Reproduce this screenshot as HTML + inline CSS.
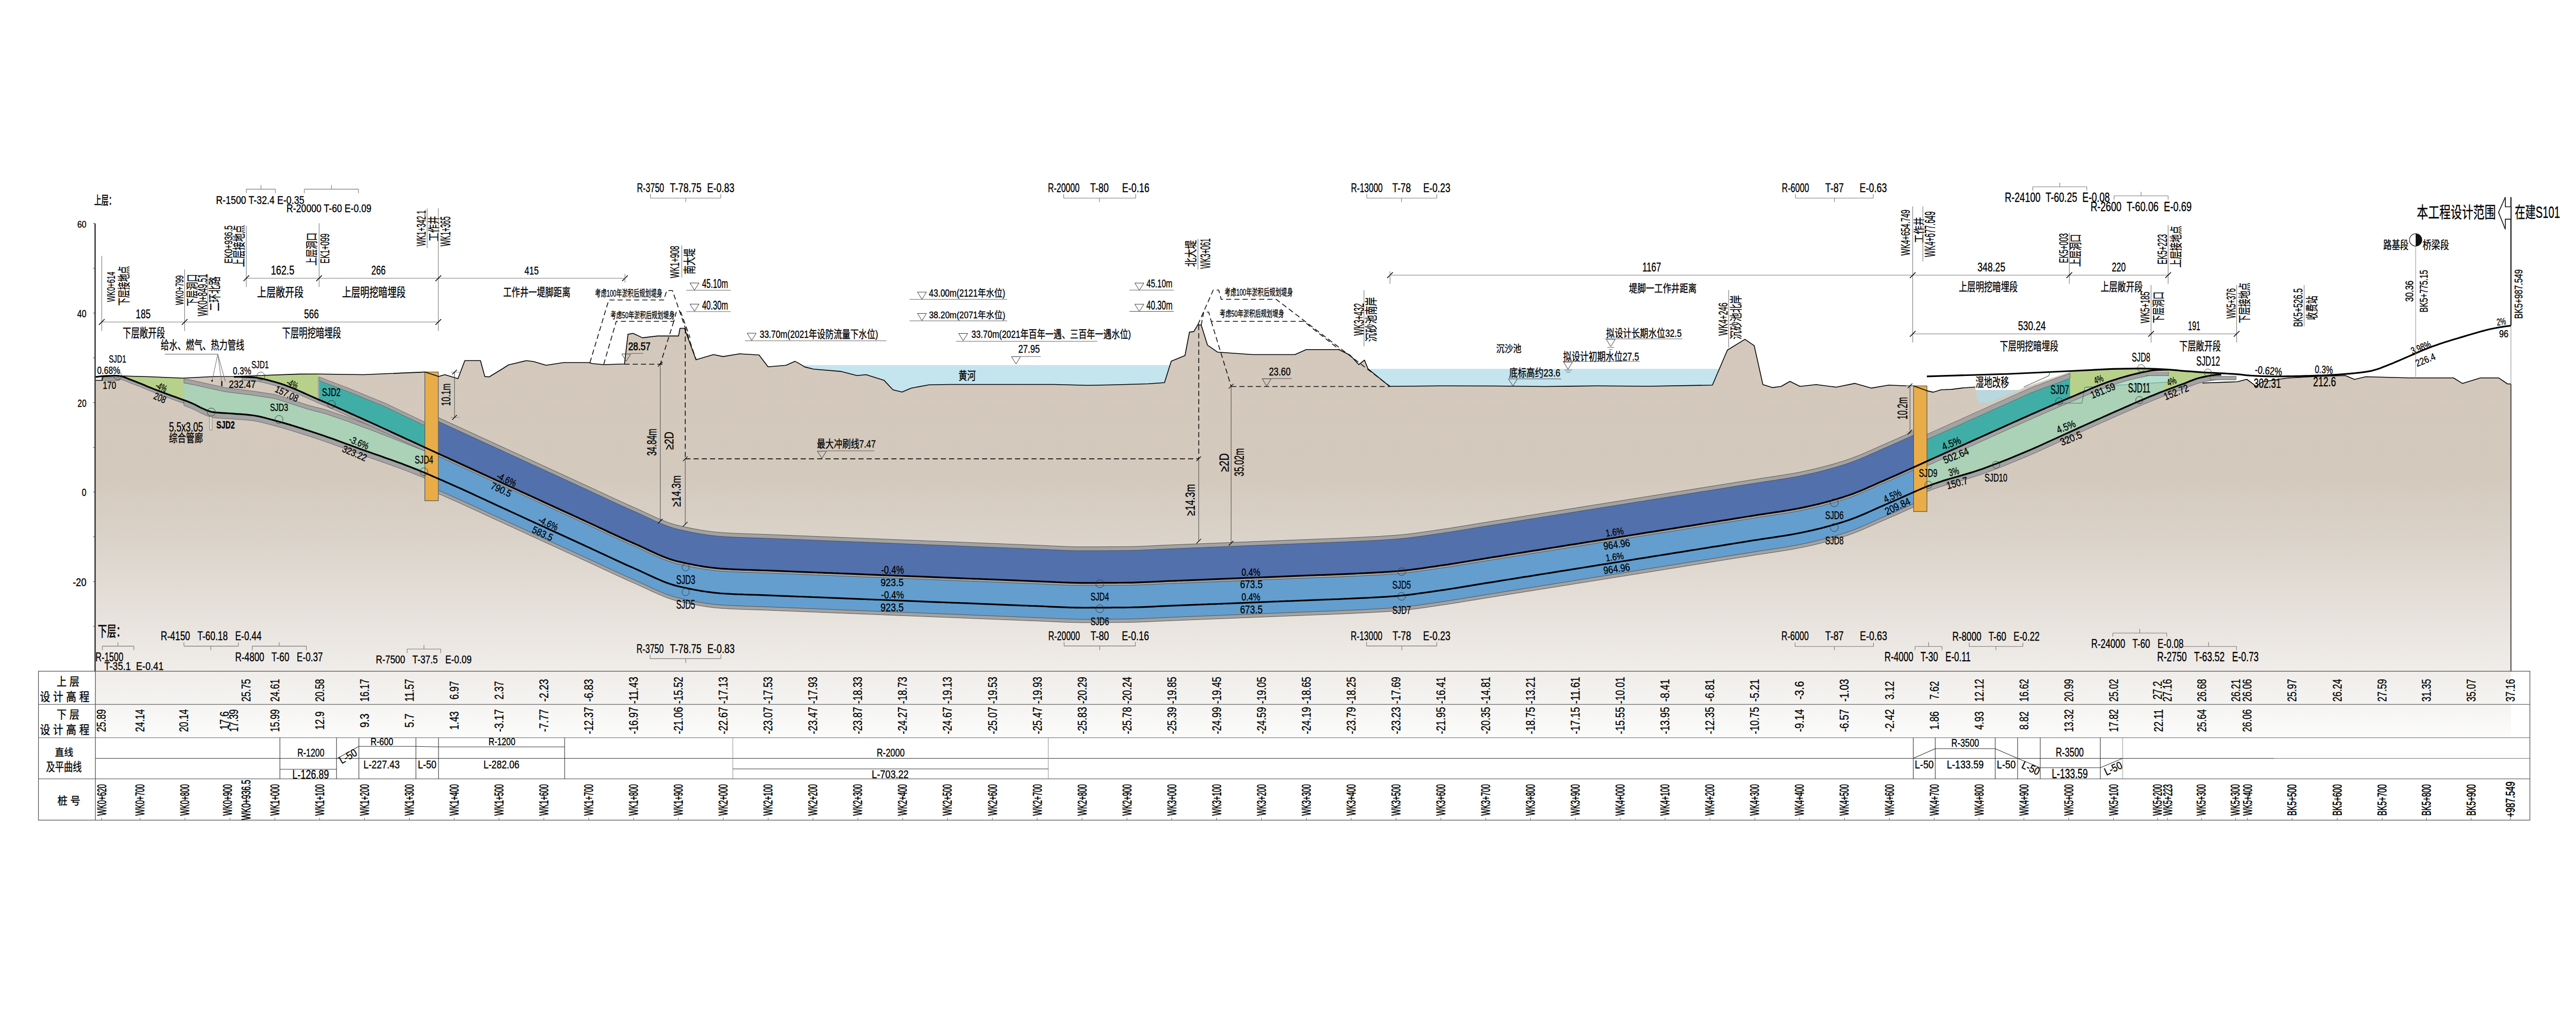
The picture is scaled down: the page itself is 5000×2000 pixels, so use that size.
<!DOCTYPE html>
<html><head><meta charset="utf-8"><title>profile</title><style>html,body{margin:0;padding:0;background:#fff;overflow:hidden;width:5000px;height:2000px;}svg{display:block;}text{stroke:#000;stroke-width:0.35px;}text.b{stroke-width:0.7px;}</style></head><body>
<svg width="5000" height="2000" viewBox="0 0 5000 2000" font-family="'Liberation Sans','Noto Sans CJK SC',sans-serif">
<defs><linearGradient id="gg" gradientUnits="userSpaceOnUse" x1="0" y1="640" x2="0" y2="1432.5"><stop offset="0" stop-color="#d3c8bb"/><stop offset="0.36" stop-color="#d4c9bd"/><stop offset="0.5" stop-color="#dad2c8"/><stop offset="0.62" stop-color="#e2dbd4"/><stop offset="0.74" stop-color="#eae5e0"/><stop offset="0.84" stop-color="#f0edea"/><stop offset="0.92" stop-color="#f5f4f2"/><stop offset="1" stop-color="#fcfcfb"/></linearGradient></defs>
<rect width="5000" height="2000" fill="#fff"/>
<rect x="1545" y="708.9" width="735" height="60" fill="#c4e4ee"/>
<rect x="2645" y="716.2" width="700" height="45" fill="#c4e4ee"/>
<polygon points="184.6,738.5 198,738.5 200,731.5 228.5,729.7 290,731.5 354.8,734.2 413,731.3 454,731 490.7,729.7 580,726.4 619,726.2 705.6,727.5 819.7,722.6 824.6,722.3 851.3,731.1 863.4,727.5 888.9,735.2 902.2,700.3 932.6,700.3 941,731.1 949.6,731.8 972.6,717.8 987.2,708.5 1021.2,700.3 1035.7,702 1060,709.3 1094,704 1142.7,704 1150,706 1171.4,708 1212.1,706.8 1218.9,649.1 1228.6,647.2 1247.1,655.9 1276.2,652.4 1317,652.4 1319.9,637.5 1328.6,637.5 1351,698.6 1385,688.5 1403.4,692.4 1435.4,687 1473.3,689.3 1490.8,712.2 1525.7,709.3 1543.2,701.6 1550,705.1 1561.6,712.4 1579.1,716.8 1631.5,721.1 1663.5,729.3 1681,727.5 1716,738.6 1733.4,757 1750.9,761.3 1768.3,753.7 1803.3,747.3 1841.1,746.5 2045,746.5 2111.9,748.2 2161.3,747.3 2228.3,745.3 2260.3,743 2273.4,701.3 2300,690.5 2308.7,644.9 2317,643.9 2325.2,630.3 2331.6,631.3 2343.7,670.1 2363.1,683.7 2377.7,684.7 2431.1,688.5 2513.6,688.5 2535.4,678.8 2598.5,678.8 2620.4,689.5 2637.4,708 2648.5,699.2 2655.3,716.2 2697.1,750.2 2800,749.2 2900,749.5 3000,750.5 3100,749.3 3200,750 3323.8,747.8 3352.9,679.8 3386.9,658.9 3404.9,671.1 3421.8,746.8 3440.3,752.6 3457.3,750.2 3474.3,740.5 3493.7,750.2 3525.2,746.8 3564.1,751.7 3600.5,744.4 3632,753.6 3666,747.8 3700,749.2 3714,749.3 3739.8,758.6 3752.4,761.6 3768,756.7 3787.4,756.1 3808.7,753.4 3834,751.5 3834.7,757.6 3918,757.6 3935,750 4018,722 4100,716.3 4155.8,715.3 4185,716.3 4270,722.6 4274.8,743.7 4342.7,741.3 4361,736.5 4379,749.8 4391.3,741.3 4439.8,734 4500,730.6 4552.4,729.3 4570,736.7 4591.8,731.5 4674.8,733.7 4762.2,733.7 4779.7,744.6 4814.7,733.7 4849.7,733.7 4867.1,745.5 4873.7,745.5 4873.7,1432.5 184.6,1432.5" fill="url(#gg)" stroke="none" stroke-width="0"/>
<polygon points="851.3,811 857.3,813.8 863.3,816.5 869.3,819.3 875.3,822 881.3,824.8 887.3,827.6 893.3,830.3 899.3,833.1 905.3,835.8 911.3,838.6 917.3,841.3 923.3,844.1 929.3,846.9 935.3,849.6 941.3,852.4 947.3,855.1 953.3,857.9 959.3,860.6 965.4,863.4 971.4,866.1 977.4,868.9 983.4,871.7 989.4,874.4 995.4,877.2 1001.4,879.9 1007.4,882.7 1013.4,885.4 1019.4,888.2 1025.4,891 1031.4,893.7 1037.4,896.5 1043.4,899.2 1049.4,902 1055.4,904.7 1061.4,907.5 1067.4,910.3 1073.4,913 1079.4,915.8 1085.4,918.5 1091.4,921.3 1097.4,924 1103.4,926.8 1109.4,929.5 1115.4,932.3 1121.4,935.1 1127.4,937.8 1133.4,940.6 1139.4,943.3 1145.4,946.1 1151.4,948.9 1157.4,951.7 1163.4,954.5 1169.4,957.3 1175.4,960.1 1181.4,962.9 1187.5,965.7 1193.5,968.5 1199.5,971.2 1205.5,974 1211.5,976.7 1217.5,979.4 1223.5,982.1 1229.5,984.7 1235.5,987.3 1241.5,990 1247.5,992.8 1253.5,995.6 1259.5,998.4 1265.5,1001.2 1271.5,1004 1277.5,1006.6 1283.5,1009.2 1289.5,1011.6 1295.5,1013.9 1301.5,1016 1307.5,1017.9 1313.5,1019.6 1319.5,1021 1325.5,1022.3 1331.5,1023.6 1337.5,1024.9 1343.5,1026.1 1349.5,1027.3 1355.5,1028.3 1361.5,1029.4 1367.5,1030.3 1373.5,1031.2 1379.5,1032 1385.5,1032.7 1391.5,1033.4 1397.5,1033.9 1403.6,1034.3 1409.6,1034.7 1415.6,1035 1421.6,1035.3 1427.6,1035.6 1433.6,1035.9 1439.6,1036.1 1445.6,1036.3 1451.6,1036.5 1457.6,1036.7 1463.6,1036.9 1469.6,1037.1 1475.6,1037.3 1481.6,1037.5 1487.6,1037.7 1493.6,1037.9 1499.6,1038.2 1505.6,1038.4 1511.6,1038.7 1517.6,1038.9 1523.6,1039.1 1529.6,1039.4 1535.6,1039.6 1541.6,1039.9 1547.6,1040.1 1553.6,1040.3 1559.6,1040.6 1565.6,1040.8 1571.6,1041.1 1577.6,1041.3 1583.6,1041.5 1589.6,1041.8 1595.6,1042 1601.6,1042.3 1607.6,1042.5 1613.6,1042.7 1619.6,1043 1625.7,1043.2 1631.7,1043.5 1637.7,1043.7 1643.7,1043.9 1649.7,1044.2 1655.7,1044.4 1661.7,1044.7 1667.7,1044.9 1673.7,1045.1 1679.7,1045.4 1685.7,1045.6 1691.7,1045.9 1697.7,1046.1 1703.7,1046.3 1709.7,1046.6 1715.7,1046.8 1721.7,1047 1727.7,1047.3 1733.7,1047.5 1739.7,1047.8 1745.7,1048 1751.7,1048.2 1757.7,1048.5 1763.7,1048.7 1769.7,1049 1775.7,1049.2 1781.7,1049.4 1787.7,1049.7 1793.7,1049.9 1799.7,1050.2 1805.7,1050.4 1811.7,1050.6 1817.7,1050.9 1823.7,1051.1 1829.7,1051.4 1835.7,1051.6 1841.7,1051.8 1847.8,1052.1 1853.8,1052.3 1859.8,1052.6 1865.8,1052.8 1871.8,1053 1877.8,1053.3 1883.8,1053.5 1889.8,1053.8 1895.8,1054 1901.8,1054.2 1907.8,1054.5 1913.8,1054.7 1919.8,1055 1925.8,1055.2 1931.8,1055.4 1937.8,1055.7 1943.8,1055.9 1949.8,1056.2 1955.8,1056.4 1961.8,1056.7 1967.8,1056.9 1973.8,1057.1 1979.8,1057.4 1985.8,1057.6 1991.8,1057.9 1997.8,1058.1 2003.8,1058.3 2009.8,1058.6 2015.8,1058.8 2021.8,1059 2027.8,1059.3 2033.8,1059.6 2039.8,1059.9 2045.8,1060.2 2051.8,1060.4 2057.8,1060.7 2063.9,1061 2069.9,1061.2 2075.9,1061.4 2081.9,1061.6 2087.9,1061.7 2093.9,1061.8 2099.9,1061.8 2105.9,1061.8 2111.9,1061.8 2117.9,1061.8 2123.9,1061.8 2129.9,1061.8 2135.9,1061.7 2141.9,1061.7 2147.9,1061.7 2153.9,1061.6 2159.9,1061.6 2165.9,1061.6 2171.9,1061.5 2177.9,1061.5 2183.9,1061.4 2189.9,1061.4 2195.9,1061.3 2201.9,1061.1 2207.9,1060.9 2213.9,1060.7 2219.9,1060.5 2225.9,1060.2 2231.9,1060 2237.9,1059.7 2243.9,1059.4 2249.9,1059.1 2255.9,1058.8 2261.9,1058.5 2267.9,1058.3 2273.9,1058 2279.9,1057.8 2286,1057.5 2292,1057.3 2298,1057.1 2304,1056.8 2310,1056.6 2316,1056.3 2322,1056.1 2328,1055.9 2334,1055.6 2340,1055.4 2346,1055.1 2352,1054.9 2358,1054.7 2364,1054.4 2370,1054.2 2376,1053.9 2382,1053.7 2388,1053.5 2394,1053.2 2400,1053 2406,1052.7 2412,1052.5 2418,1052.3 2424,1052 2430,1051.8 2436,1051.5 2442,1051.3 2448,1051.1 2454,1050.8 2460,1050.6 2466,1050.3 2472,1050.1 2478,1049.9 2484,1049.6 2490,1049.4 2496,1049.1 2502,1048.9 2508.1,1048.7 2514.1,1048.4 2520.1,1048.2 2526.1,1047.9 2532.1,1047.7 2538.1,1047.5 2544.1,1047.2 2550.1,1047 2556.1,1046.8 2562.1,1046.5 2568.1,1046.3 2574.1,1046.1 2580.1,1045.9 2586.1,1045.6 2592.1,1045.4 2598.1,1045.2 2604.1,1044.9 2610.1,1044.7 2616.1,1044.4 2622.1,1044.1 2628.1,1043.8 2634.1,1043.6 2640.1,1043.3 2646.1,1043 2652.1,1042.7 2658.1,1042.4 2664.1,1042.1 2670.1,1041.8 2676.1,1041.5 2682.1,1041.1 2688.1,1040.7 2694.1,1040.3 2700.1,1039.9 2706.1,1039.5 2712.1,1039 2718.1,1038.5 2724.2,1037.9 2730.2,1037.3 2736.2,1036.6 2742.2,1035.8 2748.2,1035 2754.2,1034.2 2760.2,1033.4 2766.2,1032.5 2772.2,1031.7 2778.2,1030.8 2784.2,1029.9 2790.2,1029 2796.2,1028.2 2802.2,1027.3 2808.2,1026.4 2814.2,1025.5 2820.2,1024.6 2826.2,1023.6 2832.2,1022.7 2838.2,1021.7 2844.2,1020.7 2850.2,1019.7 2856.2,1018.7 2862.2,1017.7 2868.2,1016.7 2874.2,1015.7 2880.2,1014.8 2886.2,1013.8 2892.2,1012.8 2898.2,1011.9 2904.2,1010.9 2910.2,1010 2916.2,1009 2922.2,1008.1 2928.2,1007.1 2934.2,1006.1 2940.2,1005.2 2946.3,1004.2 2952.3,1003.3 2958.3,1002.3 2964.3,1001.3 2970.3,1000.4 2976.3,999.4 2982.3,998.5 2988.3,997.5 2994.3,996.5 3000.3,995.6 3006.3,994.6 3012.3,993.7 3018.3,992.7 3024.3,991.8 3030.3,990.8 3036.3,989.8 3042.3,988.9 3048.3,987.9 3054.3,987 3060.3,986 3066.3,985 3072.3,984.1 3078.3,983.1 3084.3,982.2 3090.3,981.2 3096.3,980.2 3102.3,979.3 3108.3,978.3 3114.3,977.4 3120.3,976.4 3126.3,975.5 3132.3,974.5 3138.3,973.5 3144.3,972.6 3150.3,971.6 3156.3,970.7 3162.3,969.7 3168.4,968.7 3174.4,967.8 3180.4,966.8 3186.4,965.9 3192.4,964.9 3198.4,963.9 3204.4,963 3210.4,962 3216.4,961.1 3222.4,960.1 3228.4,959.2 3234.4,958.2 3240.4,957.2 3246.4,956.3 3252.4,955.3 3258.4,954.4 3264.4,953.4 3270.4,952.4 3276.4,951.5 3282.4,950.5 3288.4,949.6 3294.4,948.6 3300.4,947.6 3306.4,946.7 3312.4,945.7 3318.4,944.8 3324.4,943.8 3330.4,942.9 3336.4,941.9 3342.4,940.9 3348.4,940 3354.4,939 3360.4,938.1 3366.4,937.1 3372.4,936.1 3378.4,935.2 3384.5,934.2 3390.5,933.3 3396.5,932.3 3402.5,931.4 3408.5,930.4 3414.5,929.5 3420.5,928.5 3426.5,927.6 3432.5,926.7 3438.5,925.8 3444.5,925 3450.5,924 3456.5,923.1 3462.5,922.2 3468.5,921.2 3474.5,920.2 3480.5,919.2 3486.5,918.1 3492.5,916.9 3498.5,915.7 3504.5,914.4 3510.5,913.1 3516.5,911.8 3522.5,910.4 3528.5,908.9 3534.5,907.5 3540.5,905.9 3546.5,904.3 3552.5,902.7 3558.5,901 3564.5,899.2 3570.5,897.4 3576.5,895.6 3582.5,893.7 3588.5,891.7 3594.5,889.5 3600.5,887.2 3606.6,884.9 3612.6,882.4 3618.6,879.9 3624.6,877.3 3630.6,874.6 3636.6,872 3642.6,869.3 3648.6,866.6 3654.6,863.9 3660.6,861.3 3666.6,858.7 3672.6,856.1 3678.6,853.4 3684.6,850.8 3690.6,848.1 3696.6,845.4 3702.6,842.7 3708.6,840 3714.6,837.3 3714.6,984.5 3708.6,987.2 3702.6,989.9 3696.6,992.6 3690.6,995.3 3684.6,998 3678.6,1000.6 3672.6,1003.2 3666.6,1005.8 3660.6,1008.4 3654.6,1011 3648.6,1013.6 3642.6,1016.3 3636.6,1019 3630.6,1021.7 3624.6,1024.3 3618.6,1026.9 3612.6,1029.5 3606.6,1031.9 3600.5,1034.3 3594.5,1036.6 3588.5,1038.8 3582.5,1040.8 3576.5,1042.7 3570.5,1044.6 3564.5,1046.4 3558.5,1048.1 3552.5,1049.8 3546.5,1051.5 3540.5,1053 3534.5,1054.6 3528.5,1056.1 3522.5,1057.5 3516.5,1058.9 3510.5,1060.3 3504.5,1061.6 3498.5,1062.8 3492.5,1064 3486.5,1065.2 3480.5,1066.3 3474.5,1067.3 3468.5,1068.4 3462.5,1069.3 3456.5,1070.3 3450.5,1071.2 3444.5,1072.1 3438.5,1073 3432.5,1073.9 3426.5,1074.8 3420.5,1075.7 3414.5,1076.6 3408.5,1077.5 3402.5,1078.5 3396.5,1079.5 3390.5,1080.4 3384.5,1081.4 3378.4,1082.3 3372.4,1083.3 3366.4,1084.2 3360.4,1085.2 3354.4,1086.2 3348.4,1087.1 3342.4,1088.1 3336.4,1089 3330.4,1090 3324.4,1091 3318.4,1091.9 3312.4,1092.9 3306.4,1093.8 3300.4,1094.8 3294.4,1095.7 3288.4,1096.7 3282.4,1097.7 3276.4,1098.6 3270.4,1099.6 3264.4,1100.5 3258.4,1101.5 3252.4,1102.5 3246.4,1103.4 3240.4,1104.4 3234.4,1105.3 3228.4,1106.3 3222.4,1107.3 3216.4,1108.2 3210.4,1109.2 3204.4,1110.1 3198.4,1111.1 3192.4,1112 3186.4,1113 3180.4,1114 3174.4,1114.9 3168.4,1115.9 3162.3,1116.8 3156.3,1117.8 3150.3,1118.8 3144.3,1119.7 3138.3,1120.7 3132.3,1121.6 3126.3,1122.6 3120.3,1123.6 3114.3,1124.5 3108.3,1125.5 3102.3,1126.4 3096.3,1127.4 3090.3,1128.3 3084.3,1129.3 3078.3,1130.3 3072.3,1131.2 3066.3,1132.2 3060.3,1133.1 3054.3,1134.1 3048.3,1135.1 3042.3,1136 3036.3,1137 3030.3,1137.9 3024.3,1138.9 3018.3,1139.9 3012.3,1140.8 3006.3,1141.8 3000.3,1142.7 2994.3,1143.7 2988.3,1144.6 2982.3,1145.6 2976.3,1146.6 2970.3,1147.5 2964.3,1148.5 2958.3,1149.4 2952.3,1150.4 2946.3,1151.4 2940.2,1152.3 2934.2,1153.3 2928.2,1154.2 2922.2,1155.2 2916.2,1156.2 2910.2,1157.1 2904.2,1158.1 2898.2,1159 2892.2,1160 2886.2,1160.9 2880.2,1161.9 2874.2,1162.9 2868.2,1163.9 2862.2,1164.9 2856.2,1165.8 2850.2,1166.8 2844.2,1167.8 2838.2,1168.8 2832.2,1169.8 2826.2,1170.8 2820.2,1171.7 2814.2,1172.6 2808.2,1173.6 2802.2,1174.5 2796.2,1175.3 2790.2,1176.2 2784.2,1177.1 2778.2,1177.9 2772.2,1178.8 2766.2,1179.7 2760.2,1180.5 2754.2,1181.4 2748.2,1182.2 2742.2,1183 2736.2,1183.7 2730.2,1184.4 2724.2,1185 2718.1,1185.6 2712.1,1186.2 2706.1,1186.6 2700.1,1187.1 2694.1,1187.5 2688.1,1187.9 2682.1,1188.2 2676.1,1188.6 2670.1,1188.9 2664.1,1189.2 2658.1,1189.6 2652.1,1189.8 2646.1,1190.1 2640.1,1190.4 2634.1,1190.7 2628.1,1191 2622.1,1191.3 2616.1,1191.5 2610.1,1191.8 2604.1,1192.1 2598.1,1192.3 2592.1,1192.5 2586.1,1192.8 2580.1,1193 2574.1,1193.2 2568.1,1193.5 2562.1,1193.7 2556.1,1193.9 2550.1,1194.1 2544.1,1194.4 2538.1,1194.6 2532.1,1194.9 2526.1,1195.1 2520.1,1195.3 2514.1,1195.6 2508.1,1195.8 2502,1196 2496,1196.3 2490,1196.5 2484,1196.8 2478,1197 2472,1197.2 2466,1197.5 2460,1197.7 2454,1198 2448,1198.2 2442,1198.4 2436,1198.7 2430,1198.9 2424,1199.2 2418,1199.4 2412,1199.6 2406,1199.9 2400,1200.1 2394,1200.4 2388,1200.6 2382,1200.8 2376,1201.1 2370,1201.3 2364,1201.6 2358,1201.8 2352,1202 2346,1202.3 2340,1202.5 2334,1202.8 2328,1203 2322,1203.2 2316,1203.5 2310,1203.7 2304,1204 2298,1204.2 2292,1204.4 2286,1204.7 2279.9,1204.9 2273.9,1205.2 2267.9,1205.4 2261.9,1205.7 2255.9,1206 2249.9,1206.2 2243.9,1206.5 2237.9,1206.8 2231.9,1207.1 2225.9,1207.4 2219.9,1207.6 2213.9,1207.9 2207.9,1208.1 2201.9,1208.3 2195.9,1208.4 2189.9,1208.5 2183.9,1208.6 2177.9,1208.6 2171.9,1208.7 2165.9,1208.7 2159.9,1208.7 2153.9,1208.8 2147.9,1208.8 2141.9,1208.9 2135.9,1208.9 2129.9,1208.9 2123.9,1208.9 2117.9,1208.9 2111.9,1209 2105.9,1209 2099.9,1209 2093.9,1208.9 2087.9,1208.8 2081.9,1208.7 2075.9,1208.5 2069.9,1208.3 2063.9,1208.1 2057.8,1207.9 2051.8,1207.6 2045.8,1207.3 2039.8,1207 2033.8,1206.7 2027.8,1206.5 2021.8,1206.2 2015.8,1205.9 2009.8,1205.7 2003.8,1205.5 1997.8,1205.2 1991.8,1205 1985.8,1204.8 1979.8,1204.5 1973.8,1204.3 1967.8,1204 1961.8,1203.8 1955.8,1203.6 1949.8,1203.3 1943.8,1203.1 1937.8,1202.8 1931.8,1202.6 1925.8,1202.3 1919.8,1202.1 1913.8,1201.9 1907.8,1201.6 1901.8,1201.4 1895.8,1201.1 1889.8,1200.9 1883.8,1200.7 1877.8,1200.4 1871.8,1200.2 1865.8,1199.9 1859.8,1199.7 1853.8,1199.5 1847.8,1199.2 1841.7,1199 1835.7,1198.7 1829.7,1198.5 1823.7,1198.3 1817.7,1198 1811.7,1197.8 1805.7,1197.5 1799.7,1197.3 1793.7,1197.1 1787.7,1196.8 1781.7,1196.6 1775.7,1196.3 1769.7,1196.1 1763.7,1195.9 1757.7,1195.6 1751.7,1195.4 1745.7,1195.2 1739.7,1194.9 1733.7,1194.7 1727.7,1194.4 1721.7,1194.2 1715.7,1194 1709.7,1193.7 1703.7,1193.5 1697.7,1193.2 1691.7,1193 1685.7,1192.8 1679.7,1192.5 1673.7,1192.3 1667.7,1192 1661.7,1191.8 1655.7,1191.6 1649.7,1191.3 1643.7,1191.1 1637.7,1190.8 1631.7,1190.6 1625.7,1190.4 1619.6,1190.1 1613.6,1189.9 1607.6,1189.6 1601.6,1189.4 1595.6,1189.2 1589.6,1188.9 1583.6,1188.7 1577.6,1188.4 1571.6,1188.2 1565.6,1188 1559.6,1187.7 1553.6,1187.5 1547.6,1187.2 1541.6,1187 1535.6,1186.8 1529.6,1186.5 1523.6,1186.3 1517.6,1186 1511.6,1185.8 1505.6,1185.6 1499.6,1185.3 1493.6,1185.1 1487.6,1184.8 1481.6,1184.6 1475.6,1184.4 1469.6,1184.2 1463.6,1184 1457.6,1183.8 1451.6,1183.6 1445.6,1183.4 1439.6,1183.2 1433.6,1183 1427.6,1182.7 1421.6,1182.5 1415.6,1182.2 1409.6,1181.8 1403.6,1181.5 1397.5,1181 1391.5,1180.5 1385.5,1179.9 1379.5,1179.2 1373.5,1178.4 1367.5,1177.5 1361.5,1176.5 1355.5,1175.5 1349.5,1174.4 1343.5,1173.2 1337.5,1172 1331.5,1170.8 1325.5,1169.5 1319.5,1168.1 1313.5,1166.7 1307.5,1165 1301.5,1163.1 1295.5,1161.1 1289.5,1158.8 1283.5,1156.3 1277.5,1153.8 1271.5,1151.1 1265.5,1148.4 1259.5,1145.6 1253.5,1142.8 1247.5,1140 1241.5,1137.2 1235.5,1134.5 1229.5,1131.8 1223.5,1129.2 1217.5,1126.6 1211.5,1123.9 1205.5,1121.1 1199.5,1118.4 1193.5,1115.6 1187.5,1112.8 1181.4,1110 1175.4,1107.2 1169.4,1104.4 1163.4,1101.6 1157.4,1098.8 1151.4,1096 1145.4,1093.2 1139.4,1090.5 1133.4,1087.7 1127.4,1085 1121.4,1082.2 1115.4,1079.4 1109.4,1076.7 1103.4,1073.9 1097.4,1071.2 1091.4,1068.4 1085.4,1065.7 1079.4,1062.9 1073.4,1060.1 1067.4,1057.4 1061.4,1054.6 1055.4,1051.9 1049.4,1049.1 1043.4,1046.4 1037.4,1043.6 1031.4,1040.9 1025.4,1038.1 1019.4,1035.3 1013.4,1032.6 1007.4,1029.8 1001.4,1027.1 995.4,1024.3 989.4,1021.6 983.4,1018.8 977.4,1016 971.4,1013.3 965.4,1010.5 959.3,1007.8 953.3,1005 947.3,1002.2 941.3,999.4 935.3,996.6 929.3,993.8 923.3,991 917.3,988.3 911.3,985.5 905.3,982.8 899.3,980 893.3,977.3 887.3,974.6 881.3,971.9 875.3,969.3 869.3,966.6 863.3,964 857.3,961.3 851.3,958.7" fill="#a3a3a3" stroke="none" stroke-width="0"/>
<polygon points="851.3,818.5 857.3,821.3 863.3,824 869.3,826.8 875.3,829.5 881.3,832.3 887.3,835.1 893.3,837.8 899.3,840.6 905.3,843.3 911.3,846.1 917.3,848.8 923.3,851.6 929.3,854.4 935.3,857.1 941.3,859.9 947.3,862.6 953.3,865.4 959.3,868.1 965.4,870.9 971.4,873.6 977.4,876.4 983.4,879.2 989.4,881.9 995.4,884.7 1001.4,887.4 1007.4,890.2 1013.4,892.9 1019.4,895.7 1025.4,898.5 1031.4,901.2 1037.4,904 1043.4,906.7 1049.4,909.5 1055.4,912.2 1061.4,915 1067.4,917.8 1073.4,920.5 1079.4,923.3 1085.4,926 1091.4,928.8 1097.4,931.5 1103.4,934.3 1109.4,937 1115.4,939.8 1121.4,942.6 1127.4,945.3 1133.4,948.1 1139.4,950.8 1145.4,953.6 1151.4,956.4 1157.4,959.2 1163.4,962 1169.4,964.8 1175.4,967.6 1181.4,970.4 1187.5,973.2 1193.5,976 1199.5,978.7 1205.5,981.5 1211.5,984.2 1217.5,986.9 1223.5,989.6 1229.5,992.2 1235.5,994.8 1241.5,997.5 1247.5,1000.3 1253.5,1003.1 1259.5,1005.9 1265.5,1008.7 1271.5,1011.5 1277.5,1014.1 1283.5,1016.7 1289.5,1019.1 1295.5,1021.4 1301.5,1023.5 1307.5,1025.4 1313.5,1027.1 1319.5,1028.5 1325.5,1029.8 1331.5,1031.1 1337.5,1032.4 1343.5,1033.6 1349.5,1034.8 1355.5,1035.8 1361.5,1036.9 1367.5,1037.8 1373.5,1038.7 1379.5,1039.5 1385.5,1040.2 1391.5,1040.9 1397.5,1041.4 1403.6,1041.8 1409.6,1042.2 1415.6,1042.5 1421.6,1042.8 1427.6,1043.1 1433.6,1043.4 1439.6,1043.6 1445.6,1043.8 1451.6,1044 1457.6,1044.2 1463.6,1044.4 1469.6,1044.6 1475.6,1044.8 1481.6,1045 1487.6,1045.2 1493.6,1045.4 1499.6,1045.7 1505.6,1045.9 1511.6,1046.2 1517.6,1046.4 1523.6,1046.6 1529.6,1046.9 1535.6,1047.1 1541.6,1047.4 1547.6,1047.6 1553.6,1047.8 1559.6,1048.1 1565.6,1048.3 1571.6,1048.6 1577.6,1048.8 1583.6,1049 1589.6,1049.3 1595.6,1049.5 1601.6,1049.8 1607.6,1050 1613.6,1050.2 1619.6,1050.5 1625.7,1050.7 1631.7,1051 1637.7,1051.2 1643.7,1051.4 1649.7,1051.7 1655.7,1051.9 1661.7,1052.2 1667.7,1052.4 1673.7,1052.6 1679.7,1052.9 1685.7,1053.1 1691.7,1053.4 1697.7,1053.6 1703.7,1053.8 1709.7,1054.1 1715.7,1054.3 1721.7,1054.5 1727.7,1054.8 1733.7,1055 1739.7,1055.3 1745.7,1055.5 1751.7,1055.7 1757.7,1056 1763.7,1056.2 1769.7,1056.5 1775.7,1056.7 1781.7,1056.9 1787.7,1057.2 1793.7,1057.4 1799.7,1057.7 1805.7,1057.9 1811.7,1058.1 1817.7,1058.4 1823.7,1058.6 1829.7,1058.9 1835.7,1059.1 1841.7,1059.3 1847.8,1059.6 1853.8,1059.8 1859.8,1060.1 1865.8,1060.3 1871.8,1060.5 1877.8,1060.8 1883.8,1061 1889.8,1061.3 1895.8,1061.5 1901.8,1061.7 1907.8,1062 1913.8,1062.2 1919.8,1062.5 1925.8,1062.7 1931.8,1062.9 1937.8,1063.2 1943.8,1063.4 1949.8,1063.7 1955.8,1063.9 1961.8,1064.2 1967.8,1064.4 1973.8,1064.6 1979.8,1064.9 1985.8,1065.1 1991.8,1065.4 1997.8,1065.6 2003.8,1065.8 2009.8,1066.1 2015.8,1066.3 2021.8,1066.5 2027.8,1066.8 2033.8,1067.1 2039.8,1067.4 2045.8,1067.7 2051.8,1067.9 2057.8,1068.2 2063.9,1068.5 2069.9,1068.7 2075.9,1068.9 2081.9,1069.1 2087.9,1069.2 2093.9,1069.3 2099.9,1069.3 2105.9,1069.3 2111.9,1069.3 2117.9,1069.3 2123.9,1069.3 2129.9,1069.3 2135.9,1069.2 2141.9,1069.2 2147.9,1069.2 2153.9,1069.1 2159.9,1069.1 2165.9,1069.1 2171.9,1069 2177.9,1069 2183.9,1068.9 2189.9,1068.9 2195.9,1068.8 2201.9,1068.6 2207.9,1068.4 2213.9,1068.2 2219.9,1068 2225.9,1067.7 2231.9,1067.5 2237.9,1067.2 2243.9,1066.9 2249.9,1066.6 2255.9,1066.3 2261.9,1066 2267.9,1065.8 2273.9,1065.5 2279.9,1065.3 2286,1065 2292,1064.8 2298,1064.6 2304,1064.3 2310,1064.1 2316,1063.8 2322,1063.6 2328,1063.4 2334,1063.1 2340,1062.9 2346,1062.6 2352,1062.4 2358,1062.2 2364,1061.9 2370,1061.7 2376,1061.4 2382,1061.2 2388,1061 2394,1060.7 2400,1060.5 2406,1060.2 2412,1060 2418,1059.8 2424,1059.5 2430,1059.3 2436,1059 2442,1058.8 2448,1058.6 2454,1058.3 2460,1058.1 2466,1057.8 2472,1057.6 2478,1057.4 2484,1057.1 2490,1056.9 2496,1056.6 2502,1056.4 2508.1,1056.2 2514.1,1055.9 2520.1,1055.7 2526.1,1055.4 2532.1,1055.2 2538.1,1055 2544.1,1054.7 2550.1,1054.5 2556.1,1054.3 2562.1,1054 2568.1,1053.8 2574.1,1053.6 2580.1,1053.4 2586.1,1053.1 2592.1,1052.9 2598.1,1052.7 2604.1,1052.4 2610.1,1052.2 2616.1,1051.9 2622.1,1051.6 2628.1,1051.3 2634.1,1051.1 2640.1,1050.8 2646.1,1050.5 2652.1,1050.2 2658.1,1049.9 2664.1,1049.6 2670.1,1049.3 2676.1,1049 2682.1,1048.6 2688.1,1048.2 2694.1,1047.8 2700.1,1047.4 2706.1,1047 2712.1,1046.5 2718.1,1046 2724.2,1045.4 2730.2,1044.8 2736.2,1044.1 2742.2,1043.3 2748.2,1042.5 2754.2,1041.7 2760.2,1040.9 2766.2,1040 2772.2,1039.2 2778.2,1038.3 2784.2,1037.4 2790.2,1036.5 2796.2,1035.7 2802.2,1034.8 2808.2,1033.9 2814.2,1033 2820.2,1032.1 2826.2,1031.1 2832.2,1030.2 2838.2,1029.2 2844.2,1028.2 2850.2,1027.2 2856.2,1026.2 2862.2,1025.2 2868.2,1024.2 2874.2,1023.2 2880.2,1022.3 2886.2,1021.3 2892.2,1020.3 2898.2,1019.4 2904.2,1018.4 2910.2,1017.5 2916.2,1016.5 2922.2,1015.6 2928.2,1014.6 2934.2,1013.6 2940.2,1012.7 2946.3,1011.7 2952.3,1010.8 2958.3,1009.8 2964.3,1008.8 2970.3,1007.9 2976.3,1006.9 2982.3,1006 2988.3,1005 2994.3,1004 3000.3,1003.1 3006.3,1002.1 3012.3,1001.2 3018.3,1000.2 3024.3,999.3 3030.3,998.3 3036.3,997.3 3042.3,996.4 3048.3,995.4 3054.3,994.5 3060.3,993.5 3066.3,992.5 3072.3,991.6 3078.3,990.6 3084.3,989.7 3090.3,988.7 3096.3,987.7 3102.3,986.8 3108.3,985.8 3114.3,984.9 3120.3,983.9 3126.3,983 3132.3,982 3138.3,981 3144.3,980.1 3150.3,979.1 3156.3,978.2 3162.3,977.2 3168.4,976.2 3174.4,975.3 3180.4,974.3 3186.4,973.4 3192.4,972.4 3198.4,971.4 3204.4,970.5 3210.4,969.5 3216.4,968.6 3222.4,967.6 3228.4,966.7 3234.4,965.7 3240.4,964.7 3246.4,963.8 3252.4,962.8 3258.4,961.9 3264.4,960.9 3270.4,959.9 3276.4,959 3282.4,958 3288.4,957.1 3294.4,956.1 3300.4,955.1 3306.4,954.2 3312.4,953.2 3318.4,952.3 3324.4,951.3 3330.4,950.4 3336.4,949.4 3342.4,948.4 3348.4,947.5 3354.4,946.5 3360.4,945.6 3366.4,944.6 3372.4,943.6 3378.4,942.7 3384.5,941.7 3390.5,940.8 3396.5,939.8 3402.5,938.9 3408.5,937.9 3414.5,937 3420.5,936 3426.5,935.1 3432.5,934.2 3438.5,933.3 3444.5,932.5 3450.5,931.5 3456.5,930.6 3462.5,929.7 3468.5,928.7 3474.5,927.7 3480.5,926.7 3486.5,925.6 3492.5,924.4 3498.5,923.2 3504.5,921.9 3510.5,920.6 3516.5,919.3 3522.5,917.9 3528.5,916.4 3534.5,915 3540.5,913.4 3546.5,911.8 3552.5,910.2 3558.5,908.5 3564.5,906.7 3570.5,904.9 3576.5,903.1 3582.5,901.2 3588.5,899.2 3594.5,897 3600.5,894.7 3606.6,892.4 3612.6,889.9 3618.6,887.4 3624.6,884.8 3630.6,882.1 3636.6,879.5 3642.6,876.8 3648.6,874.1 3654.6,871.4 3660.6,868.8 3666.6,866.2 3672.6,863.6 3678.6,860.9 3684.6,858.3 3690.6,855.6 3696.6,852.9 3702.6,850.2 3708.6,847.5 3714.6,844.8 3714.6,907.3 3708.6,910 3702.6,912.7 3696.6,915.4 3690.6,918.1 3684.6,920.8 3678.6,923.4 3672.6,926.1 3666.6,928.7 3660.6,931.3 3654.6,933.9 3648.6,936.6 3642.6,939.3 3636.6,942 3630.6,944.6 3624.6,947.3 3618.6,949.9 3612.6,952.4 3606.6,954.9 3600.5,957.2 3594.5,959.5 3588.5,961.7 3582.5,963.7 3576.5,965.6 3570.5,967.4 3564.5,969.2 3558.5,971 3552.5,972.7 3546.5,974.3 3540.5,975.9 3534.5,977.5 3528.5,978.9 3522.5,980.4 3516.5,981.8 3510.5,983.1 3504.5,984.4 3498.5,985.7 3492.5,986.9 3486.5,988.1 3480.5,989.2 3474.5,990.2 3468.5,991.2 3462.5,992.2 3456.5,993.1 3450.5,994 3444.5,995 3438.5,995.8 3432.5,996.7 3426.5,997.6 3420.5,998.5 3414.5,999.5 3408.5,1000.4 3402.5,1001.4 3396.5,1002.3 3390.5,1003.3 3384.5,1004.2 3378.4,1005.2 3372.4,1006.1 3366.4,1007.1 3360.4,1008.1 3354.4,1009 3348.4,1010 3342.4,1010.9 3336.4,1011.9 3330.4,1012.9 3324.4,1013.8 3318.4,1014.8 3312.4,1015.7 3306.4,1016.7 3300.4,1017.6 3294.4,1018.6 3288.4,1019.6 3282.4,1020.5 3276.4,1021.5 3270.4,1022.4 3264.4,1023.4 3258.4,1024.4 3252.4,1025.3 3246.4,1026.3 3240.4,1027.2 3234.4,1028.2 3228.4,1029.2 3222.4,1030.1 3216.4,1031.1 3210.4,1032 3204.4,1033 3198.4,1033.9 3192.4,1034.9 3186.4,1035.9 3180.4,1036.8 3174.4,1037.8 3168.4,1038.7 3162.3,1039.7 3156.3,1040.7 3150.3,1041.6 3144.3,1042.6 3138.3,1043.5 3132.3,1044.5 3126.3,1045.5 3120.3,1046.4 3114.3,1047.4 3108.3,1048.3 3102.3,1049.3 3096.3,1050.2 3090.3,1051.2 3084.3,1052.2 3078.3,1053.1 3072.3,1054.1 3066.3,1055 3060.3,1056 3054.3,1057 3048.3,1057.9 3042.3,1058.9 3036.3,1059.8 3030.3,1060.8 3024.3,1061.8 3018.3,1062.7 3012.3,1063.7 3006.3,1064.6 3000.3,1065.6 2994.3,1066.5 2988.3,1067.5 2982.3,1068.5 2976.3,1069.4 2970.3,1070.4 2964.3,1071.3 2958.3,1072.3 2952.3,1073.3 2946.3,1074.2 2940.2,1075.2 2934.2,1076.1 2928.2,1077.1 2922.2,1078.1 2916.2,1079 2910.2,1080 2904.2,1080.9 2898.2,1081.9 2892.2,1082.8 2886.2,1083.8 2880.2,1084.8 2874.2,1085.7 2868.2,1086.7 2862.2,1087.7 2856.2,1088.7 2850.2,1089.7 2844.2,1090.7 2838.2,1091.7 2832.2,1092.7 2826.2,1093.6 2820.2,1094.6 2814.2,1095.5 2808.2,1096.4 2802.2,1097.3 2796.2,1098.2 2790.2,1099 2784.2,1099.9 2778.2,1100.8 2772.2,1101.7 2766.2,1102.5 2760.2,1103.4 2754.2,1104.2 2748.2,1105 2742.2,1105.8 2736.2,1106.6 2730.2,1107.3 2724.2,1107.9 2718.1,1108.5 2712.1,1109 2706.1,1109.5 2700.1,1109.9 2694.1,1110.3 2688.1,1110.7 2682.1,1111.1 2676.1,1111.5 2670.1,1111.8 2664.1,1112.1 2658.1,1112.4 2652.1,1112.7 2646.1,1113 2640.1,1113.3 2634.1,1113.6 2628.1,1113.8 2622.1,1114.1 2616.1,1114.4 2610.1,1114.7 2604.1,1114.9 2598.1,1115.2 2592.1,1115.4 2586.1,1115.6 2580.1,1115.9 2574.1,1116.1 2568.1,1116.3 2562.1,1116.5 2556.1,1116.8 2550.1,1117 2544.1,1117.2 2538.1,1117.5 2532.1,1117.7 2526.1,1117.9 2520.1,1118.2 2514.1,1118.4 2508.1,1118.7 2502,1118.9 2496,1119.1 2490,1119.4 2484,1119.6 2478,1119.9 2472,1120.1 2466,1120.3 2460,1120.6 2454,1120.8 2448,1121.1 2442,1121.3 2436,1121.5 2430,1121.8 2424,1122 2418,1122.3 2412,1122.5 2406,1122.7 2400,1123 2394,1123.2 2388,1123.5 2382,1123.7 2376,1123.9 2370,1124.2 2364,1124.4 2358,1124.7 2352,1124.9 2346,1125.1 2340,1125.4 2334,1125.6 2328,1125.9 2322,1126.1 2316,1126.3 2310,1126.6 2304,1126.8 2298,1127.1 2292,1127.3 2286,1127.5 2279.9,1127.8 2273.9,1128 2267.9,1128.3 2261.9,1128.5 2255.9,1128.8 2249.9,1129.1 2243.9,1129.4 2237.9,1129.7 2231.9,1130 2225.9,1130.2 2219.9,1130.5 2213.9,1130.7 2207.9,1130.9 2201.9,1131.1 2195.9,1131.3 2189.9,1131.4 2183.9,1131.4 2177.9,1131.5 2171.9,1131.5 2165.9,1131.6 2159.9,1131.6 2153.9,1131.6 2147.9,1131.7 2141.9,1131.7 2135.9,1131.7 2129.9,1131.8 2123.9,1131.8 2117.9,1131.8 2111.9,1131.8 2105.9,1131.8 2099.9,1131.8 2093.9,1131.8 2087.9,1131.7 2081.9,1131.6 2075.9,1131.4 2069.9,1131.2 2063.9,1131 2057.8,1130.7 2051.8,1130.4 2045.8,1130.2 2039.8,1129.9 2033.8,1129.6 2027.8,1129.3 2021.8,1129 2015.8,1128.8 2009.8,1128.6 2003.8,1128.3 1997.8,1128.1 1991.8,1127.9 1985.8,1127.6 1979.8,1127.4 1973.8,1127.1 1967.8,1126.9 1961.8,1126.7 1955.8,1126.4 1949.8,1126.2 1943.8,1125.9 1937.8,1125.7 1931.8,1125.4 1925.8,1125.2 1919.8,1125 1913.8,1124.7 1907.8,1124.5 1901.8,1124.2 1895.8,1124 1889.8,1123.8 1883.8,1123.5 1877.8,1123.3 1871.8,1123 1865.8,1122.8 1859.8,1122.6 1853.8,1122.3 1847.8,1122.1 1841.7,1121.8 1835.7,1121.6 1829.7,1121.4 1823.7,1121.1 1817.7,1120.9 1811.7,1120.6 1805.7,1120.4 1799.7,1120.2 1793.7,1119.9 1787.7,1119.7 1781.7,1119.4 1775.7,1119.2 1769.7,1119 1763.7,1118.7 1757.7,1118.5 1751.7,1118.2 1745.7,1118 1739.7,1117.8 1733.7,1117.5 1727.7,1117.3 1721.7,1117 1715.7,1116.8 1709.7,1116.6 1703.7,1116.3 1697.7,1116.1 1691.7,1115.9 1685.7,1115.6 1679.7,1115.4 1673.7,1115.1 1667.7,1114.9 1661.7,1114.7 1655.7,1114.4 1649.7,1114.2 1643.7,1113.9 1637.7,1113.7 1631.7,1113.5 1625.7,1113.2 1619.6,1113 1613.6,1112.7 1607.6,1112.5 1601.6,1112.3 1595.6,1112 1589.6,1111.8 1583.6,1111.5 1577.6,1111.3 1571.6,1111.1 1565.6,1110.8 1559.6,1110.6 1553.6,1110.3 1547.6,1110.1 1541.6,1109.9 1535.6,1109.6 1529.6,1109.4 1523.6,1109.1 1517.6,1108.9 1511.6,1108.7 1505.6,1108.4 1499.6,1108.2 1493.6,1107.9 1487.6,1107.7 1481.6,1107.5 1475.6,1107.3 1469.6,1107.1 1463.6,1106.9 1457.6,1106.7 1451.6,1106.5 1445.6,1106.3 1439.6,1106.1 1433.6,1105.9 1427.6,1105.6 1421.6,1105.3 1415.6,1105 1409.6,1104.7 1403.6,1104.3 1397.5,1103.9 1391.5,1103.4 1385.5,1102.7 1379.5,1102 1373.5,1101.2 1367.5,1100.3 1361.5,1099.4 1355.5,1098.3 1349.5,1097.3 1343.5,1096.1 1337.5,1094.9 1331.5,1093.6 1325.5,1092.3 1319.5,1091 1313.5,1089.6 1307.5,1087.9 1301.5,1086 1295.5,1083.9 1289.5,1081.6 1283.5,1079.2 1277.5,1076.6 1271.5,1074 1265.5,1071.2 1259.5,1068.4 1253.5,1065.6 1247.5,1062.8 1241.5,1060 1235.5,1057.3 1229.5,1054.7 1223.5,1052.1 1217.5,1049.4 1211.5,1046.7 1205.5,1044 1199.5,1041.2 1193.5,1038.5 1187.5,1035.7 1181.4,1032.9 1175.4,1030.1 1169.4,1027.3 1163.4,1024.5 1157.4,1021.7 1151.4,1018.9 1145.4,1016.1 1139.4,1013.3 1133.4,1010.6 1127.4,1007.8 1121.4,1005.1 1115.4,1002.3 1109.4,999.5 1103.4,996.8 1097.4,994 1091.4,991.3 1085.4,988.5 1079.4,985.8 1073.4,983 1067.4,980.3 1061.4,977.5 1055.4,974.7 1049.4,972 1043.4,969.2 1037.4,966.5 1031.4,963.7 1025.4,961 1019.4,958.2 1013.4,955.4 1007.4,952.7 1001.4,949.9 995.4,947.2 989.4,944.4 983.4,941.7 977.4,938.9 971.4,936.1 965.4,933.4 959.3,930.6 953.3,927.9 947.3,925.1 941.3,922.4 935.3,919.6 929.3,916.9 923.3,914.1 917.3,911.3 911.3,908.6 905.3,905.8 899.3,903.1 893.3,900.3 887.3,897.6 881.3,894.8 875.3,892 869.3,889.3 863.3,886.5 857.3,883.8 851.3,881" fill="#5270ac" stroke="none" stroke-width="0"/>
<polygon points="851.3,886 857.3,888.8 863.3,891.5 869.3,894.3 875.3,897 881.3,899.8 887.3,902.6 893.3,905.3 899.3,908.1 905.3,910.8 911.3,913.6 917.3,916.3 923.3,919.1 929.3,921.9 935.3,924.6 941.3,927.4 947.3,930.1 953.3,932.9 959.3,935.6 965.4,938.4 971.4,941.1 977.4,943.9 983.4,946.7 989.4,949.4 995.4,952.2 1001.4,954.9 1007.4,957.7 1013.4,960.4 1019.4,963.2 1025.4,966 1031.4,968.7 1037.4,971.5 1043.4,974.2 1049.4,977 1055.4,979.7 1061.4,982.5 1067.4,985.3 1073.4,988 1079.4,990.8 1085.4,993.5 1091.4,996.3 1097.4,999 1103.4,1001.8 1109.4,1004.5 1115.4,1007.3 1121.4,1010.1 1127.4,1012.8 1133.4,1015.6 1139.4,1018.3 1145.4,1021.1 1151.4,1023.9 1157.4,1026.7 1163.4,1029.5 1169.4,1032.3 1175.4,1035.1 1181.4,1037.9 1187.5,1040.7 1193.5,1043.5 1199.5,1046.2 1205.5,1049 1211.5,1051.7 1217.5,1054.4 1223.5,1057.1 1229.5,1059.7 1235.5,1062.3 1241.5,1065 1247.5,1067.8 1253.5,1070.6 1259.5,1073.4 1265.5,1076.2 1271.5,1079 1277.5,1081.6 1283.5,1084.2 1289.5,1086.6 1295.5,1088.9 1301.5,1091 1307.5,1092.9 1313.5,1094.6 1319.5,1096 1325.5,1097.3 1331.5,1098.6 1337.5,1099.9 1343.5,1101.1 1349.5,1102.3 1355.5,1103.3 1361.5,1104.4 1367.5,1105.3 1373.5,1106.2 1379.5,1107 1385.5,1107.7 1391.5,1108.4 1397.5,1108.9 1403.6,1109.3 1409.6,1109.7 1415.6,1110 1421.6,1110.3 1427.6,1110.6 1433.6,1110.9 1439.6,1111.1 1445.6,1111.3 1451.6,1111.5 1457.6,1111.7 1463.6,1111.9 1469.6,1112.1 1475.6,1112.3 1481.6,1112.5 1487.6,1112.7 1493.6,1112.9 1499.6,1113.2 1505.6,1113.4 1511.6,1113.7 1517.6,1113.9 1523.6,1114.1 1529.6,1114.4 1535.6,1114.6 1541.6,1114.9 1547.6,1115.1 1553.6,1115.3 1559.6,1115.6 1565.6,1115.8 1571.6,1116.1 1577.6,1116.3 1583.6,1116.5 1589.6,1116.8 1595.6,1117 1601.6,1117.3 1607.6,1117.5 1613.6,1117.7 1619.6,1118 1625.7,1118.2 1631.7,1118.5 1637.7,1118.7 1643.7,1118.9 1649.7,1119.2 1655.7,1119.4 1661.7,1119.7 1667.7,1119.9 1673.7,1120.1 1679.7,1120.4 1685.7,1120.6 1691.7,1120.9 1697.7,1121.1 1703.7,1121.3 1709.7,1121.6 1715.7,1121.8 1721.7,1122 1727.7,1122.3 1733.7,1122.5 1739.7,1122.8 1745.7,1123 1751.7,1123.2 1757.7,1123.5 1763.7,1123.7 1769.7,1124 1775.7,1124.2 1781.7,1124.4 1787.7,1124.7 1793.7,1124.9 1799.7,1125.2 1805.7,1125.4 1811.7,1125.6 1817.7,1125.9 1823.7,1126.1 1829.7,1126.4 1835.7,1126.6 1841.7,1126.8 1847.8,1127.1 1853.8,1127.3 1859.8,1127.6 1865.8,1127.8 1871.8,1128 1877.8,1128.3 1883.8,1128.5 1889.8,1128.8 1895.8,1129 1901.8,1129.2 1907.8,1129.5 1913.8,1129.7 1919.8,1130 1925.8,1130.2 1931.8,1130.4 1937.8,1130.7 1943.8,1130.9 1949.8,1131.2 1955.8,1131.4 1961.8,1131.7 1967.8,1131.9 1973.8,1132.1 1979.8,1132.4 1985.8,1132.6 1991.8,1132.9 1997.8,1133.1 2003.8,1133.3 2009.8,1133.6 2015.8,1133.8 2021.8,1134 2027.8,1134.3 2033.8,1134.6 2039.8,1134.9 2045.8,1135.2 2051.8,1135.4 2057.8,1135.7 2063.9,1136 2069.9,1136.2 2075.9,1136.4 2081.9,1136.6 2087.9,1136.7 2093.9,1136.8 2099.9,1136.8 2105.9,1136.8 2111.9,1136.8 2117.9,1136.8 2123.9,1136.8 2129.9,1136.8 2135.9,1136.7 2141.9,1136.7 2147.9,1136.7 2153.9,1136.6 2159.9,1136.6 2165.9,1136.6 2171.9,1136.5 2177.9,1136.5 2183.9,1136.4 2189.9,1136.4 2195.9,1136.3 2201.9,1136.1 2207.9,1135.9 2213.9,1135.7 2219.9,1135.5 2225.9,1135.2 2231.9,1135 2237.9,1134.7 2243.9,1134.4 2249.9,1134.1 2255.9,1133.8 2261.9,1133.5 2267.9,1133.3 2273.9,1133 2279.9,1132.8 2286,1132.5 2292,1132.3 2298,1132.1 2304,1131.8 2310,1131.6 2316,1131.3 2322,1131.1 2328,1130.9 2334,1130.6 2340,1130.4 2346,1130.1 2352,1129.9 2358,1129.7 2364,1129.4 2370,1129.2 2376,1128.9 2382,1128.7 2388,1128.5 2394,1128.2 2400,1128 2406,1127.7 2412,1127.5 2418,1127.3 2424,1127 2430,1126.8 2436,1126.5 2442,1126.3 2448,1126.1 2454,1125.8 2460,1125.6 2466,1125.3 2472,1125.1 2478,1124.9 2484,1124.6 2490,1124.4 2496,1124.1 2502,1123.9 2508.1,1123.7 2514.1,1123.4 2520.1,1123.2 2526.1,1122.9 2532.1,1122.7 2538.1,1122.5 2544.1,1122.2 2550.1,1122 2556.1,1121.8 2562.1,1121.5 2568.1,1121.3 2574.1,1121.1 2580.1,1120.9 2586.1,1120.6 2592.1,1120.4 2598.1,1120.2 2604.1,1119.9 2610.1,1119.7 2616.1,1119.4 2622.1,1119.1 2628.1,1118.8 2634.1,1118.6 2640.1,1118.3 2646.1,1118 2652.1,1117.7 2658.1,1117.4 2664.1,1117.1 2670.1,1116.8 2676.1,1116.5 2682.1,1116.1 2688.1,1115.7 2694.1,1115.3 2700.1,1114.9 2706.1,1114.5 2712.1,1114 2718.1,1113.5 2724.2,1112.9 2730.2,1112.3 2736.2,1111.6 2742.2,1110.8 2748.2,1110 2754.2,1109.2 2760.2,1108.4 2766.2,1107.5 2772.2,1106.7 2778.2,1105.8 2784.2,1104.9 2790.2,1104 2796.2,1103.2 2802.2,1102.3 2808.2,1101.4 2814.2,1100.5 2820.2,1099.6 2826.2,1098.6 2832.2,1097.7 2838.2,1096.7 2844.2,1095.7 2850.2,1094.7 2856.2,1093.7 2862.2,1092.7 2868.2,1091.7 2874.2,1090.7 2880.2,1089.8 2886.2,1088.8 2892.2,1087.8 2898.2,1086.9 2904.2,1085.9 2910.2,1085 2916.2,1084 2922.2,1083.1 2928.2,1082.1 2934.2,1081.1 2940.2,1080.2 2946.3,1079.2 2952.3,1078.3 2958.3,1077.3 2964.3,1076.3 2970.3,1075.4 2976.3,1074.4 2982.3,1073.5 2988.3,1072.5 2994.3,1071.5 3000.3,1070.6 3006.3,1069.6 3012.3,1068.7 3018.3,1067.7 3024.3,1066.8 3030.3,1065.8 3036.3,1064.8 3042.3,1063.9 3048.3,1062.9 3054.3,1062 3060.3,1061 3066.3,1060 3072.3,1059.1 3078.3,1058.1 3084.3,1057.2 3090.3,1056.2 3096.3,1055.2 3102.3,1054.3 3108.3,1053.3 3114.3,1052.4 3120.3,1051.4 3126.3,1050.5 3132.3,1049.5 3138.3,1048.5 3144.3,1047.6 3150.3,1046.6 3156.3,1045.7 3162.3,1044.7 3168.4,1043.7 3174.4,1042.8 3180.4,1041.8 3186.4,1040.9 3192.4,1039.9 3198.4,1038.9 3204.4,1038 3210.4,1037 3216.4,1036.1 3222.4,1035.1 3228.4,1034.2 3234.4,1033.2 3240.4,1032.2 3246.4,1031.3 3252.4,1030.3 3258.4,1029.4 3264.4,1028.4 3270.4,1027.4 3276.4,1026.5 3282.4,1025.5 3288.4,1024.6 3294.4,1023.6 3300.4,1022.6 3306.4,1021.7 3312.4,1020.7 3318.4,1019.8 3324.4,1018.8 3330.4,1017.9 3336.4,1016.9 3342.4,1015.9 3348.4,1015 3354.4,1014 3360.4,1013.1 3366.4,1012.1 3372.4,1011.1 3378.4,1010.2 3384.5,1009.2 3390.5,1008.3 3396.5,1007.3 3402.5,1006.4 3408.5,1005.4 3414.5,1004.5 3420.5,1003.5 3426.5,1002.6 3432.5,1001.7 3438.5,1000.8 3444.5,1000 3450.5,999 3456.5,998.1 3462.5,997.2 3468.5,996.2 3474.5,995.2 3480.5,994.2 3486.5,993.1 3492.5,991.9 3498.5,990.7 3504.5,989.4 3510.5,988.1 3516.5,986.8 3522.5,985.4 3528.5,983.9 3534.5,982.5 3540.5,980.9 3546.5,979.3 3552.5,977.7 3558.5,976 3564.5,974.2 3570.5,972.4 3576.5,970.6 3582.5,968.7 3588.5,966.7 3594.5,964.5 3600.5,962.2 3606.6,959.9 3612.6,957.4 3618.6,954.9 3624.6,952.3 3630.6,949.6 3636.6,947 3642.6,944.3 3648.6,941.6 3654.6,938.9 3660.6,936.3 3666.6,933.7 3672.6,931.1 3678.6,928.4 3684.6,925.8 3690.6,923.1 3696.6,920.4 3702.6,917.7 3708.6,915 3714.6,912.3 3714.6,978 3708.6,980.7 3702.6,983.4 3696.6,986.1 3690.6,988.8 3684.6,991.5 3678.6,994.1 3672.6,996.7 3666.6,999.3 3660.6,1001.9 3654.6,1004.5 3648.6,1007.1 3642.6,1009.8 3636.6,1012.5 3630.6,1015.2 3624.6,1017.8 3618.6,1020.4 3612.6,1023 3606.6,1025.4 3600.5,1027.8 3594.5,1030.1 3588.5,1032.3 3582.5,1034.3 3576.5,1036.2 3570.5,1038.1 3564.5,1039.9 3558.5,1041.6 3552.5,1043.3 3546.5,1045 3540.5,1046.5 3534.5,1048.1 3528.5,1049.6 3522.5,1051 3516.5,1052.4 3510.5,1053.8 3504.5,1055.1 3498.5,1056.3 3492.5,1057.5 3486.5,1058.7 3480.5,1059.8 3474.5,1060.8 3468.5,1061.9 3462.5,1062.8 3456.5,1063.8 3450.5,1064.7 3444.5,1065.6 3438.5,1066.5 3432.5,1067.4 3426.5,1068.3 3420.5,1069.2 3414.5,1070.1 3408.5,1071 3402.5,1072 3396.5,1073 3390.5,1073.9 3384.5,1074.9 3378.4,1075.8 3372.4,1076.8 3366.4,1077.7 3360.4,1078.7 3354.4,1079.7 3348.4,1080.6 3342.4,1081.6 3336.4,1082.5 3330.4,1083.5 3324.4,1084.5 3318.4,1085.4 3312.4,1086.4 3306.4,1087.3 3300.4,1088.3 3294.4,1089.2 3288.4,1090.2 3282.4,1091.2 3276.4,1092.1 3270.4,1093.1 3264.4,1094 3258.4,1095 3252.4,1096 3246.4,1096.9 3240.4,1097.9 3234.4,1098.8 3228.4,1099.8 3222.4,1100.8 3216.4,1101.7 3210.4,1102.7 3204.4,1103.6 3198.4,1104.6 3192.4,1105.5 3186.4,1106.5 3180.4,1107.5 3174.4,1108.4 3168.4,1109.4 3162.3,1110.3 3156.3,1111.3 3150.3,1112.3 3144.3,1113.2 3138.3,1114.2 3132.3,1115.1 3126.3,1116.1 3120.3,1117.1 3114.3,1118 3108.3,1119 3102.3,1119.9 3096.3,1120.9 3090.3,1121.8 3084.3,1122.8 3078.3,1123.8 3072.3,1124.7 3066.3,1125.7 3060.3,1126.6 3054.3,1127.6 3048.3,1128.6 3042.3,1129.5 3036.3,1130.5 3030.3,1131.4 3024.3,1132.4 3018.3,1133.4 3012.3,1134.3 3006.3,1135.3 3000.3,1136.2 2994.3,1137.2 2988.3,1138.1 2982.3,1139.1 2976.3,1140.1 2970.3,1141 2964.3,1142 2958.3,1142.9 2952.3,1143.9 2946.3,1144.9 2940.2,1145.8 2934.2,1146.8 2928.2,1147.7 2922.2,1148.7 2916.2,1149.7 2910.2,1150.6 2904.2,1151.6 2898.2,1152.5 2892.2,1153.5 2886.2,1154.4 2880.2,1155.4 2874.2,1156.4 2868.2,1157.4 2862.2,1158.4 2856.2,1159.3 2850.2,1160.3 2844.2,1161.3 2838.2,1162.3 2832.2,1163.3 2826.2,1164.3 2820.2,1165.2 2814.2,1166.1 2808.2,1167.1 2802.2,1168 2796.2,1168.8 2790.2,1169.7 2784.2,1170.6 2778.2,1171.4 2772.2,1172.3 2766.2,1173.2 2760.2,1174 2754.2,1174.9 2748.2,1175.7 2742.2,1176.5 2736.2,1177.2 2730.2,1177.9 2724.2,1178.5 2718.1,1179.1 2712.1,1179.7 2706.1,1180.1 2700.1,1180.6 2694.1,1181 2688.1,1181.4 2682.1,1181.7 2676.1,1182.1 2670.1,1182.4 2664.1,1182.7 2658.1,1183.1 2652.1,1183.3 2646.1,1183.6 2640.1,1183.9 2634.1,1184.2 2628.1,1184.5 2622.1,1184.8 2616.1,1185 2610.1,1185.3 2604.1,1185.6 2598.1,1185.8 2592.1,1186 2586.1,1186.3 2580.1,1186.5 2574.1,1186.7 2568.1,1187 2562.1,1187.2 2556.1,1187.4 2550.1,1187.6 2544.1,1187.9 2538.1,1188.1 2532.1,1188.4 2526.1,1188.6 2520.1,1188.8 2514.1,1189.1 2508.1,1189.3 2502,1189.5 2496,1189.8 2490,1190 2484,1190.3 2478,1190.5 2472,1190.7 2466,1191 2460,1191.2 2454,1191.5 2448,1191.7 2442,1191.9 2436,1192.2 2430,1192.4 2424,1192.7 2418,1192.9 2412,1193.1 2406,1193.4 2400,1193.6 2394,1193.9 2388,1194.1 2382,1194.3 2376,1194.6 2370,1194.8 2364,1195.1 2358,1195.3 2352,1195.5 2346,1195.8 2340,1196 2334,1196.3 2328,1196.5 2322,1196.7 2316,1197 2310,1197.2 2304,1197.5 2298,1197.7 2292,1197.9 2286,1198.2 2279.9,1198.4 2273.9,1198.7 2267.9,1198.9 2261.9,1199.2 2255.9,1199.5 2249.9,1199.7 2243.9,1200 2237.9,1200.3 2231.9,1200.6 2225.9,1200.9 2219.9,1201.1 2213.9,1201.4 2207.9,1201.6 2201.9,1201.8 2195.9,1201.9 2189.9,1202 2183.9,1202.1 2177.9,1202.1 2171.9,1202.2 2165.9,1202.2 2159.9,1202.2 2153.9,1202.3 2147.9,1202.3 2141.9,1202.4 2135.9,1202.4 2129.9,1202.4 2123.9,1202.4 2117.9,1202.4 2111.9,1202.5 2105.9,1202.5 2099.9,1202.5 2093.9,1202.4 2087.9,1202.3 2081.9,1202.2 2075.9,1202 2069.9,1201.8 2063.9,1201.6 2057.8,1201.4 2051.8,1201.1 2045.8,1200.8 2039.8,1200.5 2033.8,1200.2 2027.8,1200 2021.8,1199.7 2015.8,1199.4 2009.8,1199.2 2003.8,1199 1997.8,1198.7 1991.8,1198.5 1985.8,1198.3 1979.8,1198 1973.8,1197.8 1967.8,1197.5 1961.8,1197.3 1955.8,1197.1 1949.8,1196.8 1943.8,1196.6 1937.8,1196.3 1931.8,1196.1 1925.8,1195.8 1919.8,1195.6 1913.8,1195.4 1907.8,1195.1 1901.8,1194.9 1895.8,1194.6 1889.8,1194.4 1883.8,1194.2 1877.8,1193.9 1871.8,1193.7 1865.8,1193.4 1859.8,1193.2 1853.8,1193 1847.8,1192.7 1841.7,1192.5 1835.7,1192.2 1829.7,1192 1823.7,1191.8 1817.7,1191.5 1811.7,1191.3 1805.7,1191 1799.7,1190.8 1793.7,1190.6 1787.7,1190.3 1781.7,1190.1 1775.7,1189.8 1769.7,1189.6 1763.7,1189.4 1757.7,1189.1 1751.7,1188.9 1745.7,1188.7 1739.7,1188.4 1733.7,1188.2 1727.7,1187.9 1721.7,1187.7 1715.7,1187.5 1709.7,1187.2 1703.7,1187 1697.7,1186.7 1691.7,1186.5 1685.7,1186.3 1679.7,1186 1673.7,1185.8 1667.7,1185.5 1661.7,1185.3 1655.7,1185.1 1649.7,1184.8 1643.7,1184.6 1637.7,1184.3 1631.7,1184.1 1625.7,1183.9 1619.6,1183.6 1613.6,1183.4 1607.6,1183.1 1601.6,1182.9 1595.6,1182.7 1589.6,1182.4 1583.6,1182.2 1577.6,1181.9 1571.6,1181.7 1565.6,1181.5 1559.6,1181.2 1553.6,1181 1547.6,1180.7 1541.6,1180.5 1535.6,1180.3 1529.6,1180 1523.6,1179.8 1517.6,1179.5 1511.6,1179.3 1505.6,1179.1 1499.6,1178.8 1493.6,1178.6 1487.6,1178.3 1481.6,1178.1 1475.6,1177.9 1469.6,1177.7 1463.6,1177.5 1457.6,1177.3 1451.6,1177.1 1445.6,1176.9 1439.6,1176.7 1433.6,1176.5 1427.6,1176.2 1421.6,1176 1415.6,1175.7 1409.6,1175.3 1403.6,1175 1397.5,1174.5 1391.5,1174 1385.5,1173.4 1379.5,1172.7 1373.5,1171.9 1367.5,1171 1361.5,1170 1355.5,1169 1349.5,1167.9 1343.5,1166.7 1337.5,1165.5 1331.5,1164.3 1325.5,1163 1319.5,1161.6 1313.5,1160.2 1307.5,1158.5 1301.5,1156.6 1295.5,1154.6 1289.5,1152.3 1283.5,1149.8 1277.5,1147.3 1271.5,1144.6 1265.5,1141.9 1259.5,1139.1 1253.5,1136.3 1247.5,1133.5 1241.5,1130.7 1235.5,1128 1229.5,1125.3 1223.5,1122.7 1217.5,1120.1 1211.5,1117.4 1205.5,1114.6 1199.5,1111.9 1193.5,1109.1 1187.5,1106.3 1181.4,1103.5 1175.4,1100.7 1169.4,1097.9 1163.4,1095.1 1157.4,1092.3 1151.4,1089.5 1145.4,1086.7 1139.4,1084 1133.4,1081.2 1127.4,1078.5 1121.4,1075.7 1115.4,1072.9 1109.4,1070.2 1103.4,1067.4 1097.4,1064.7 1091.4,1061.9 1085.4,1059.2 1079.4,1056.4 1073.4,1053.6 1067.4,1050.9 1061.4,1048.1 1055.4,1045.4 1049.4,1042.6 1043.4,1039.9 1037.4,1037.1 1031.4,1034.4 1025.4,1031.6 1019.4,1028.8 1013.4,1026.1 1007.4,1023.3 1001.4,1020.6 995.4,1017.8 989.4,1015.1 983.4,1012.3 977.4,1009.5 971.4,1006.8 965.4,1004 959.3,1001.3 953.3,998.5 947.3,995.7 941.3,992.9 935.3,990.1 929.3,987.3 923.3,984.5 917.3,981.8 911.3,979 905.3,976.3 899.3,973.5 893.3,970.8 887.3,968.1 881.3,965.4 875.3,962.8 869.3,960.1 863.3,957.5 857.3,954.8 851.3,952.2" fill="#639ecf" stroke="none" stroke-width="0"/>
<polyline points="851.3,811 857.3,813.8 863.3,816.5 869.3,819.3 875.3,822 881.3,824.8 887.3,827.6 893.3,830.3 899.3,833.1 905.3,835.8 911.3,838.6 917.3,841.3 923.3,844.1 929.3,846.9 935.3,849.6 941.3,852.4 947.3,855.1 953.3,857.9 959.3,860.6 965.4,863.4 971.4,866.1 977.4,868.9 983.4,871.7 989.4,874.4 995.4,877.2 1001.4,879.9 1007.4,882.7 1013.4,885.4 1019.4,888.2 1025.4,891 1031.4,893.7 1037.4,896.5 1043.4,899.2 1049.4,902 1055.4,904.7 1061.4,907.5 1067.4,910.3 1073.4,913 1079.4,915.8 1085.4,918.5 1091.4,921.3 1097.4,924 1103.4,926.8 1109.4,929.5 1115.4,932.3 1121.4,935.1 1127.4,937.8 1133.4,940.6 1139.4,943.3 1145.4,946.1 1151.4,948.9 1157.4,951.7 1163.4,954.5 1169.4,957.3 1175.4,960.1 1181.4,962.9 1187.5,965.7 1193.5,968.5 1199.5,971.2 1205.5,974 1211.5,976.7 1217.5,979.4 1223.5,982.1 1229.5,984.7 1235.5,987.3 1241.5,990 1247.5,992.8 1253.5,995.6 1259.5,998.4 1265.5,1001.2 1271.5,1004 1277.5,1006.6 1283.5,1009.2 1289.5,1011.6 1295.5,1013.9 1301.5,1016 1307.5,1017.9 1313.5,1019.6 1319.5,1021 1325.5,1022.3 1331.5,1023.6 1337.5,1024.9 1343.5,1026.1 1349.5,1027.3 1355.5,1028.3 1361.5,1029.4 1367.5,1030.3 1373.5,1031.2 1379.5,1032 1385.5,1032.7 1391.5,1033.4 1397.5,1033.9 1403.6,1034.3 1409.6,1034.7 1415.6,1035 1421.6,1035.3 1427.6,1035.6 1433.6,1035.9 1439.6,1036.1 1445.6,1036.3 1451.6,1036.5 1457.6,1036.7 1463.6,1036.9 1469.6,1037.1 1475.6,1037.3 1481.6,1037.5 1487.6,1037.7 1493.6,1037.9 1499.6,1038.2 1505.6,1038.4 1511.6,1038.7 1517.6,1038.9 1523.6,1039.1 1529.6,1039.4 1535.6,1039.6 1541.6,1039.9 1547.6,1040.1 1553.6,1040.3 1559.6,1040.6 1565.6,1040.8 1571.6,1041.1 1577.6,1041.3 1583.6,1041.5 1589.6,1041.8 1595.6,1042 1601.6,1042.3 1607.6,1042.5 1613.6,1042.7 1619.6,1043 1625.7,1043.2 1631.7,1043.5 1637.7,1043.7 1643.7,1043.9 1649.7,1044.2 1655.7,1044.4 1661.7,1044.7 1667.7,1044.9 1673.7,1045.1 1679.7,1045.4 1685.7,1045.6 1691.7,1045.9 1697.7,1046.1 1703.7,1046.3 1709.7,1046.6 1715.7,1046.8 1721.7,1047 1727.7,1047.3 1733.7,1047.5 1739.7,1047.8 1745.7,1048 1751.7,1048.2 1757.7,1048.5 1763.7,1048.7 1769.7,1049 1775.7,1049.2 1781.7,1049.4 1787.7,1049.7 1793.7,1049.9 1799.7,1050.2 1805.7,1050.4 1811.7,1050.6 1817.7,1050.9 1823.7,1051.1 1829.7,1051.4 1835.7,1051.6 1841.7,1051.8 1847.8,1052.1 1853.8,1052.3 1859.8,1052.6 1865.8,1052.8 1871.8,1053 1877.8,1053.3 1883.8,1053.5 1889.8,1053.8 1895.8,1054 1901.8,1054.2 1907.8,1054.5 1913.8,1054.7 1919.8,1055 1925.8,1055.2 1931.8,1055.4 1937.8,1055.7 1943.8,1055.9 1949.8,1056.2 1955.8,1056.4 1961.8,1056.7 1967.8,1056.9 1973.8,1057.1 1979.8,1057.4 1985.8,1057.6 1991.8,1057.9 1997.8,1058.1 2003.8,1058.3 2009.8,1058.6 2015.8,1058.8 2021.8,1059 2027.8,1059.3 2033.8,1059.6 2039.8,1059.9 2045.8,1060.2 2051.8,1060.4 2057.8,1060.7 2063.9,1061 2069.9,1061.2 2075.9,1061.4 2081.9,1061.6 2087.9,1061.7 2093.9,1061.8 2099.9,1061.8 2105.9,1061.8 2111.9,1061.8 2117.9,1061.8 2123.9,1061.8 2129.9,1061.8 2135.9,1061.7 2141.9,1061.7 2147.9,1061.7 2153.9,1061.6 2159.9,1061.6 2165.9,1061.6 2171.9,1061.5 2177.9,1061.5 2183.9,1061.4 2189.9,1061.4 2195.9,1061.3 2201.9,1061.1 2207.9,1060.9 2213.9,1060.7 2219.9,1060.5 2225.9,1060.2 2231.9,1060 2237.9,1059.7 2243.9,1059.4 2249.9,1059.1 2255.9,1058.8 2261.9,1058.5 2267.9,1058.3 2273.9,1058 2279.9,1057.8 2286,1057.5 2292,1057.3 2298,1057.1 2304,1056.8 2310,1056.6 2316,1056.3 2322,1056.1 2328,1055.9 2334,1055.6 2340,1055.4 2346,1055.1 2352,1054.9 2358,1054.7 2364,1054.4 2370,1054.2 2376,1053.9 2382,1053.7 2388,1053.5 2394,1053.2 2400,1053 2406,1052.7 2412,1052.5 2418,1052.3 2424,1052 2430,1051.8 2436,1051.5 2442,1051.3 2448,1051.1 2454,1050.8 2460,1050.6 2466,1050.3 2472,1050.1 2478,1049.9 2484,1049.6 2490,1049.4 2496,1049.1 2502,1048.9 2508.1,1048.7 2514.1,1048.4 2520.1,1048.2 2526.1,1047.9 2532.1,1047.7 2538.1,1047.5 2544.1,1047.2 2550.1,1047 2556.1,1046.8 2562.1,1046.5 2568.1,1046.3 2574.1,1046.1 2580.1,1045.9 2586.1,1045.6 2592.1,1045.4 2598.1,1045.2 2604.1,1044.9 2610.1,1044.7 2616.1,1044.4 2622.1,1044.1 2628.1,1043.8 2634.1,1043.6 2640.1,1043.3 2646.1,1043 2652.1,1042.7 2658.1,1042.4 2664.1,1042.1 2670.1,1041.8 2676.1,1041.5 2682.1,1041.1 2688.1,1040.7 2694.1,1040.3 2700.1,1039.9 2706.1,1039.5 2712.1,1039 2718.1,1038.5 2724.2,1037.9 2730.2,1037.3 2736.2,1036.6 2742.2,1035.8 2748.2,1035 2754.2,1034.2 2760.2,1033.4 2766.2,1032.5 2772.2,1031.7 2778.2,1030.8 2784.2,1029.9 2790.2,1029 2796.2,1028.2 2802.2,1027.3 2808.2,1026.4 2814.2,1025.5 2820.2,1024.6 2826.2,1023.6 2832.2,1022.7 2838.2,1021.7 2844.2,1020.7 2850.2,1019.7 2856.2,1018.7 2862.2,1017.7 2868.2,1016.7 2874.2,1015.7 2880.2,1014.8 2886.2,1013.8 2892.2,1012.8 2898.2,1011.9 2904.2,1010.9 2910.2,1010 2916.2,1009 2922.2,1008.1 2928.2,1007.1 2934.2,1006.1 2940.2,1005.2 2946.3,1004.2 2952.3,1003.3 2958.3,1002.3 2964.3,1001.3 2970.3,1000.4 2976.3,999.4 2982.3,998.5 2988.3,997.5 2994.3,996.5 3000.3,995.6 3006.3,994.6 3012.3,993.7 3018.3,992.7 3024.3,991.8 3030.3,990.8 3036.3,989.8 3042.3,988.9 3048.3,987.9 3054.3,987 3060.3,986 3066.3,985 3072.3,984.1 3078.3,983.1 3084.3,982.2 3090.3,981.2 3096.3,980.2 3102.3,979.3 3108.3,978.3 3114.3,977.4 3120.3,976.4 3126.3,975.5 3132.3,974.5 3138.3,973.5 3144.3,972.6 3150.3,971.6 3156.3,970.7 3162.3,969.7 3168.4,968.7 3174.4,967.8 3180.4,966.8 3186.4,965.9 3192.4,964.9 3198.4,963.9 3204.4,963 3210.4,962 3216.4,961.1 3222.4,960.1 3228.4,959.2 3234.4,958.2 3240.4,957.2 3246.4,956.3 3252.4,955.3 3258.4,954.4 3264.4,953.4 3270.4,952.4 3276.4,951.5 3282.4,950.5 3288.4,949.6 3294.4,948.6 3300.4,947.6 3306.4,946.7 3312.4,945.7 3318.4,944.8 3324.4,943.8 3330.4,942.9 3336.4,941.9 3342.4,940.9 3348.4,940 3354.4,939 3360.4,938.1 3366.4,937.1 3372.4,936.1 3378.4,935.2 3384.5,934.2 3390.5,933.3 3396.5,932.3 3402.5,931.4 3408.5,930.4 3414.5,929.5 3420.5,928.5 3426.5,927.6 3432.5,926.7 3438.5,925.8 3444.5,925 3450.5,924 3456.5,923.1 3462.5,922.2 3468.5,921.2 3474.5,920.2 3480.5,919.2 3486.5,918.1 3492.5,916.9 3498.5,915.7 3504.5,914.4 3510.5,913.1 3516.5,911.8 3522.5,910.4 3528.5,908.9 3534.5,907.5 3540.5,905.9 3546.5,904.3 3552.5,902.7 3558.5,901 3564.5,899.2 3570.5,897.4 3576.5,895.6 3582.5,893.7 3588.5,891.7 3594.5,889.5 3600.5,887.2 3606.6,884.9 3612.6,882.4 3618.6,879.9 3624.6,877.3 3630.6,874.6 3636.6,872 3642.6,869.3 3648.6,866.6 3654.6,863.9 3660.6,861.3 3666.6,858.7 3672.6,856.1 3678.6,853.4 3684.6,850.8 3690.6,848.1 3696.6,845.4 3702.6,842.7 3708.6,840 3714.6,837.3" fill="none" stroke="#4a4a4a" stroke-width="0.9" stroke-linejoin="round"/>
<polyline points="851.3,818.5 857.3,821.3 863.3,824 869.3,826.8 875.3,829.5 881.3,832.3 887.3,835.1 893.3,837.8 899.3,840.6 905.3,843.3 911.3,846.1 917.3,848.8 923.3,851.6 929.3,854.4 935.3,857.1 941.3,859.9 947.3,862.6 953.3,865.4 959.3,868.1 965.4,870.9 971.4,873.6 977.4,876.4 983.4,879.2 989.4,881.9 995.4,884.7 1001.4,887.4 1007.4,890.2 1013.4,892.9 1019.4,895.7 1025.4,898.5 1031.4,901.2 1037.4,904 1043.4,906.7 1049.4,909.5 1055.4,912.2 1061.4,915 1067.4,917.8 1073.4,920.5 1079.4,923.3 1085.4,926 1091.4,928.8 1097.4,931.5 1103.4,934.3 1109.4,937 1115.4,939.8 1121.4,942.6 1127.4,945.3 1133.4,948.1 1139.4,950.8 1145.4,953.6 1151.4,956.4 1157.4,959.2 1163.4,962 1169.4,964.8 1175.4,967.6 1181.4,970.4 1187.5,973.2 1193.5,976 1199.5,978.7 1205.5,981.5 1211.5,984.2 1217.5,986.9 1223.5,989.6 1229.5,992.2 1235.5,994.8 1241.5,997.5 1247.5,1000.3 1253.5,1003.1 1259.5,1005.9 1265.5,1008.7 1271.5,1011.5 1277.5,1014.1 1283.5,1016.7 1289.5,1019.1 1295.5,1021.4 1301.5,1023.5 1307.5,1025.4 1313.5,1027.1 1319.5,1028.5 1325.5,1029.8 1331.5,1031.1 1337.5,1032.4 1343.5,1033.6 1349.5,1034.8 1355.5,1035.8 1361.5,1036.9 1367.5,1037.8 1373.5,1038.7 1379.5,1039.5 1385.5,1040.2 1391.5,1040.9 1397.5,1041.4 1403.6,1041.8 1409.6,1042.2 1415.6,1042.5 1421.6,1042.8 1427.6,1043.1 1433.6,1043.4 1439.6,1043.6 1445.6,1043.8 1451.6,1044 1457.6,1044.2 1463.6,1044.4 1469.6,1044.6 1475.6,1044.8 1481.6,1045 1487.6,1045.2 1493.6,1045.4 1499.6,1045.7 1505.6,1045.9 1511.6,1046.2 1517.6,1046.4 1523.6,1046.6 1529.6,1046.9 1535.6,1047.1 1541.6,1047.4 1547.6,1047.6 1553.6,1047.8 1559.6,1048.1 1565.6,1048.3 1571.6,1048.6 1577.6,1048.8 1583.6,1049 1589.6,1049.3 1595.6,1049.5 1601.6,1049.8 1607.6,1050 1613.6,1050.2 1619.6,1050.5 1625.7,1050.7 1631.7,1051 1637.7,1051.2 1643.7,1051.4 1649.7,1051.7 1655.7,1051.9 1661.7,1052.2 1667.7,1052.4 1673.7,1052.6 1679.7,1052.9 1685.7,1053.1 1691.7,1053.4 1697.7,1053.6 1703.7,1053.8 1709.7,1054.1 1715.7,1054.3 1721.7,1054.5 1727.7,1054.8 1733.7,1055 1739.7,1055.3 1745.7,1055.5 1751.7,1055.7 1757.7,1056 1763.7,1056.2 1769.7,1056.5 1775.7,1056.7 1781.7,1056.9 1787.7,1057.2 1793.7,1057.4 1799.7,1057.7 1805.7,1057.9 1811.7,1058.1 1817.7,1058.4 1823.7,1058.6 1829.7,1058.9 1835.7,1059.1 1841.7,1059.3 1847.8,1059.6 1853.8,1059.8 1859.8,1060.1 1865.8,1060.3 1871.8,1060.5 1877.8,1060.8 1883.8,1061 1889.8,1061.3 1895.8,1061.5 1901.8,1061.7 1907.8,1062 1913.8,1062.2 1919.8,1062.5 1925.8,1062.7 1931.8,1062.9 1937.8,1063.2 1943.8,1063.4 1949.8,1063.7 1955.8,1063.9 1961.8,1064.2 1967.8,1064.4 1973.8,1064.6 1979.8,1064.9 1985.8,1065.1 1991.8,1065.4 1997.8,1065.6 2003.8,1065.8 2009.8,1066.1 2015.8,1066.3 2021.8,1066.5 2027.8,1066.8 2033.8,1067.1 2039.8,1067.4 2045.8,1067.7 2051.8,1067.9 2057.8,1068.2 2063.9,1068.5 2069.9,1068.7 2075.9,1068.9 2081.9,1069.1 2087.9,1069.2 2093.9,1069.3 2099.9,1069.3 2105.9,1069.3 2111.9,1069.3 2117.9,1069.3 2123.9,1069.3 2129.9,1069.3 2135.9,1069.2 2141.9,1069.2 2147.9,1069.2 2153.9,1069.1 2159.9,1069.1 2165.9,1069.1 2171.9,1069 2177.9,1069 2183.9,1068.9 2189.9,1068.9 2195.9,1068.8 2201.9,1068.6 2207.9,1068.4 2213.9,1068.2 2219.9,1068 2225.9,1067.7 2231.9,1067.5 2237.9,1067.2 2243.9,1066.9 2249.9,1066.6 2255.9,1066.3 2261.9,1066 2267.9,1065.8 2273.9,1065.5 2279.9,1065.3 2286,1065 2292,1064.8 2298,1064.6 2304,1064.3 2310,1064.1 2316,1063.8 2322,1063.6 2328,1063.4 2334,1063.1 2340,1062.9 2346,1062.6 2352,1062.4 2358,1062.2 2364,1061.9 2370,1061.7 2376,1061.4 2382,1061.2 2388,1061 2394,1060.7 2400,1060.5 2406,1060.2 2412,1060 2418,1059.8 2424,1059.5 2430,1059.3 2436,1059 2442,1058.8 2448,1058.6 2454,1058.3 2460,1058.1 2466,1057.8 2472,1057.6 2478,1057.4 2484,1057.1 2490,1056.9 2496,1056.6 2502,1056.4 2508.1,1056.2 2514.1,1055.9 2520.1,1055.7 2526.1,1055.4 2532.1,1055.2 2538.1,1055 2544.1,1054.7 2550.1,1054.5 2556.1,1054.3 2562.1,1054 2568.1,1053.8 2574.1,1053.6 2580.1,1053.4 2586.1,1053.1 2592.1,1052.9 2598.1,1052.7 2604.1,1052.4 2610.1,1052.2 2616.1,1051.9 2622.1,1051.6 2628.1,1051.3 2634.1,1051.1 2640.1,1050.8 2646.1,1050.5 2652.1,1050.2 2658.1,1049.9 2664.1,1049.6 2670.1,1049.3 2676.1,1049 2682.1,1048.6 2688.1,1048.2 2694.1,1047.8 2700.1,1047.4 2706.1,1047 2712.1,1046.5 2718.1,1046 2724.2,1045.4 2730.2,1044.8 2736.2,1044.1 2742.2,1043.3 2748.2,1042.5 2754.2,1041.7 2760.2,1040.9 2766.2,1040 2772.2,1039.2 2778.2,1038.3 2784.2,1037.4 2790.2,1036.5 2796.2,1035.7 2802.2,1034.8 2808.2,1033.9 2814.2,1033 2820.2,1032.1 2826.2,1031.1 2832.2,1030.2 2838.2,1029.2 2844.2,1028.2 2850.2,1027.2 2856.2,1026.2 2862.2,1025.2 2868.2,1024.2 2874.2,1023.2 2880.2,1022.3 2886.2,1021.3 2892.2,1020.3 2898.2,1019.4 2904.2,1018.4 2910.2,1017.5 2916.2,1016.5 2922.2,1015.6 2928.2,1014.6 2934.2,1013.6 2940.2,1012.7 2946.3,1011.7 2952.3,1010.8 2958.3,1009.8 2964.3,1008.8 2970.3,1007.9 2976.3,1006.9 2982.3,1006 2988.3,1005 2994.3,1004 3000.3,1003.1 3006.3,1002.1 3012.3,1001.2 3018.3,1000.2 3024.3,999.3 3030.3,998.3 3036.3,997.3 3042.3,996.4 3048.3,995.4 3054.3,994.5 3060.3,993.5 3066.3,992.5 3072.3,991.6 3078.3,990.6 3084.3,989.7 3090.3,988.7 3096.3,987.7 3102.3,986.8 3108.3,985.8 3114.3,984.9 3120.3,983.9 3126.3,983 3132.3,982 3138.3,981 3144.3,980.1 3150.3,979.1 3156.3,978.2 3162.3,977.2 3168.4,976.2 3174.4,975.3 3180.4,974.3 3186.4,973.4 3192.4,972.4 3198.4,971.4 3204.4,970.5 3210.4,969.5 3216.4,968.6 3222.4,967.6 3228.4,966.7 3234.4,965.7 3240.4,964.7 3246.4,963.8 3252.4,962.8 3258.4,961.9 3264.4,960.9 3270.4,959.9 3276.4,959 3282.4,958 3288.4,957.1 3294.4,956.1 3300.4,955.1 3306.4,954.2 3312.4,953.2 3318.4,952.3 3324.4,951.3 3330.4,950.4 3336.4,949.4 3342.4,948.4 3348.4,947.5 3354.4,946.5 3360.4,945.6 3366.4,944.6 3372.4,943.6 3378.4,942.7 3384.5,941.7 3390.5,940.8 3396.5,939.8 3402.5,938.9 3408.5,937.9 3414.5,937 3420.5,936 3426.5,935.1 3432.5,934.2 3438.5,933.3 3444.5,932.5 3450.5,931.5 3456.5,930.6 3462.5,929.7 3468.5,928.7 3474.5,927.7 3480.5,926.7 3486.5,925.6 3492.5,924.4 3498.5,923.2 3504.5,921.9 3510.5,920.6 3516.5,919.3 3522.5,917.9 3528.5,916.4 3534.5,915 3540.5,913.4 3546.5,911.8 3552.5,910.2 3558.5,908.5 3564.5,906.7 3570.5,904.9 3576.5,903.1 3582.5,901.2 3588.5,899.2 3594.5,897 3600.5,894.7 3606.6,892.4 3612.6,889.9 3618.6,887.4 3624.6,884.8 3630.6,882.1 3636.6,879.5 3642.6,876.8 3648.6,874.1 3654.6,871.4 3660.6,868.8 3666.6,866.2 3672.6,863.6 3678.6,860.9 3684.6,858.3 3690.6,855.6 3696.6,852.9 3702.6,850.2 3708.6,847.5 3714.6,844.8" fill="none" stroke="#4a4a4a" stroke-width="0.9" stroke-linejoin="round"/>
<polyline points="851.3,881 857.3,883.8 863.3,886.5 869.3,889.3 875.3,892 881.3,894.8 887.3,897.6 893.3,900.3 899.3,903.1 905.3,905.8 911.3,908.6 917.3,911.3 923.3,914.1 929.3,916.9 935.3,919.6 941.3,922.4 947.3,925.1 953.3,927.9 959.3,930.6 965.4,933.4 971.4,936.1 977.4,938.9 983.4,941.7 989.4,944.4 995.4,947.2 1001.4,949.9 1007.4,952.7 1013.4,955.4 1019.4,958.2 1025.4,961 1031.4,963.7 1037.4,966.5 1043.4,969.2 1049.4,972 1055.4,974.7 1061.4,977.5 1067.4,980.3 1073.4,983 1079.4,985.8 1085.4,988.5 1091.4,991.3 1097.4,994 1103.4,996.8 1109.4,999.5 1115.4,1002.3 1121.4,1005.1 1127.4,1007.8 1133.4,1010.6 1139.4,1013.3 1145.4,1016.1 1151.4,1018.9 1157.4,1021.7 1163.4,1024.5 1169.4,1027.3 1175.4,1030.1 1181.4,1032.9 1187.5,1035.7 1193.5,1038.5 1199.5,1041.2 1205.5,1044 1211.5,1046.7 1217.5,1049.4 1223.5,1052.1 1229.5,1054.7 1235.5,1057.3 1241.5,1060 1247.5,1062.8 1253.5,1065.6 1259.5,1068.4 1265.5,1071.2 1271.5,1074 1277.5,1076.6 1283.5,1079.2 1289.5,1081.6 1295.5,1083.9 1301.5,1086 1307.5,1087.9 1313.5,1089.6 1319.5,1091 1325.5,1092.3 1331.5,1093.6 1337.5,1094.9 1343.5,1096.1 1349.5,1097.3 1355.5,1098.3 1361.5,1099.4 1367.5,1100.3 1373.5,1101.2 1379.5,1102 1385.5,1102.7 1391.5,1103.4 1397.5,1103.9 1403.6,1104.3 1409.6,1104.7 1415.6,1105 1421.6,1105.3 1427.6,1105.6 1433.6,1105.9 1439.6,1106.1 1445.6,1106.3 1451.6,1106.5 1457.6,1106.7 1463.6,1106.9 1469.6,1107.1 1475.6,1107.3 1481.6,1107.5 1487.6,1107.7 1493.6,1107.9 1499.6,1108.2 1505.6,1108.4 1511.6,1108.7 1517.6,1108.9 1523.6,1109.1 1529.6,1109.4 1535.6,1109.6 1541.6,1109.9 1547.6,1110.1 1553.6,1110.3 1559.6,1110.6 1565.6,1110.8 1571.6,1111.1 1577.6,1111.3 1583.6,1111.5 1589.6,1111.8 1595.6,1112 1601.6,1112.3 1607.6,1112.5 1613.6,1112.7 1619.6,1113 1625.7,1113.2 1631.7,1113.5 1637.7,1113.7 1643.7,1113.9 1649.7,1114.2 1655.7,1114.4 1661.7,1114.7 1667.7,1114.9 1673.7,1115.1 1679.7,1115.4 1685.7,1115.6 1691.7,1115.9 1697.7,1116.1 1703.7,1116.3 1709.7,1116.6 1715.7,1116.8 1721.7,1117 1727.7,1117.3 1733.7,1117.5 1739.7,1117.8 1745.7,1118 1751.7,1118.2 1757.7,1118.5 1763.7,1118.7 1769.7,1119 1775.7,1119.2 1781.7,1119.4 1787.7,1119.7 1793.7,1119.9 1799.7,1120.2 1805.7,1120.4 1811.7,1120.6 1817.7,1120.9 1823.7,1121.1 1829.7,1121.4 1835.7,1121.6 1841.7,1121.8 1847.8,1122.1 1853.8,1122.3 1859.8,1122.6 1865.8,1122.8 1871.8,1123 1877.8,1123.3 1883.8,1123.5 1889.8,1123.8 1895.8,1124 1901.8,1124.2 1907.8,1124.5 1913.8,1124.7 1919.8,1125 1925.8,1125.2 1931.8,1125.4 1937.8,1125.7 1943.8,1125.9 1949.8,1126.2 1955.8,1126.4 1961.8,1126.7 1967.8,1126.9 1973.8,1127.1 1979.8,1127.4 1985.8,1127.6 1991.8,1127.9 1997.8,1128.1 2003.8,1128.3 2009.8,1128.6 2015.8,1128.8 2021.8,1129 2027.8,1129.3 2033.8,1129.6 2039.8,1129.9 2045.8,1130.2 2051.8,1130.4 2057.8,1130.7 2063.9,1131 2069.9,1131.2 2075.9,1131.4 2081.9,1131.6 2087.9,1131.7 2093.9,1131.8 2099.9,1131.8 2105.9,1131.8 2111.9,1131.8 2117.9,1131.8 2123.9,1131.8 2129.9,1131.8 2135.9,1131.7 2141.9,1131.7 2147.9,1131.7 2153.9,1131.6 2159.9,1131.6 2165.9,1131.6 2171.9,1131.5 2177.9,1131.5 2183.9,1131.4 2189.9,1131.4 2195.9,1131.3 2201.9,1131.1 2207.9,1130.9 2213.9,1130.7 2219.9,1130.5 2225.9,1130.2 2231.9,1130 2237.9,1129.7 2243.9,1129.4 2249.9,1129.1 2255.9,1128.8 2261.9,1128.5 2267.9,1128.3 2273.9,1128 2279.9,1127.8 2286,1127.5 2292,1127.3 2298,1127.1 2304,1126.8 2310,1126.6 2316,1126.3 2322,1126.1 2328,1125.9 2334,1125.6 2340,1125.4 2346,1125.1 2352,1124.9 2358,1124.7 2364,1124.4 2370,1124.2 2376,1123.9 2382,1123.7 2388,1123.5 2394,1123.2 2400,1123 2406,1122.7 2412,1122.5 2418,1122.3 2424,1122 2430,1121.8 2436,1121.5 2442,1121.3 2448,1121.1 2454,1120.8 2460,1120.6 2466,1120.3 2472,1120.1 2478,1119.9 2484,1119.6 2490,1119.4 2496,1119.1 2502,1118.9 2508.1,1118.7 2514.1,1118.4 2520.1,1118.2 2526.1,1117.9 2532.1,1117.7 2538.1,1117.5 2544.1,1117.2 2550.1,1117 2556.1,1116.8 2562.1,1116.5 2568.1,1116.3 2574.1,1116.1 2580.1,1115.9 2586.1,1115.6 2592.1,1115.4 2598.1,1115.2 2604.1,1114.9 2610.1,1114.7 2616.1,1114.4 2622.1,1114.1 2628.1,1113.8 2634.1,1113.6 2640.1,1113.3 2646.1,1113 2652.1,1112.7 2658.1,1112.4 2664.1,1112.1 2670.1,1111.8 2676.1,1111.5 2682.1,1111.1 2688.1,1110.7 2694.1,1110.3 2700.1,1109.9 2706.1,1109.5 2712.1,1109 2718.1,1108.5 2724.2,1107.9 2730.2,1107.3 2736.2,1106.6 2742.2,1105.8 2748.2,1105 2754.2,1104.2 2760.2,1103.4 2766.2,1102.5 2772.2,1101.7 2778.2,1100.8 2784.2,1099.9 2790.2,1099 2796.2,1098.2 2802.2,1097.3 2808.2,1096.4 2814.2,1095.5 2820.2,1094.6 2826.2,1093.6 2832.2,1092.7 2838.2,1091.7 2844.2,1090.7 2850.2,1089.7 2856.2,1088.7 2862.2,1087.7 2868.2,1086.7 2874.2,1085.7 2880.2,1084.8 2886.2,1083.8 2892.2,1082.8 2898.2,1081.9 2904.2,1080.9 2910.2,1080 2916.2,1079 2922.2,1078.1 2928.2,1077.1 2934.2,1076.1 2940.2,1075.2 2946.3,1074.2 2952.3,1073.3 2958.3,1072.3 2964.3,1071.3 2970.3,1070.4 2976.3,1069.4 2982.3,1068.5 2988.3,1067.5 2994.3,1066.5 3000.3,1065.6 3006.3,1064.6 3012.3,1063.7 3018.3,1062.7 3024.3,1061.8 3030.3,1060.8 3036.3,1059.8 3042.3,1058.9 3048.3,1057.9 3054.3,1057 3060.3,1056 3066.3,1055 3072.3,1054.1 3078.3,1053.1 3084.3,1052.2 3090.3,1051.2 3096.3,1050.2 3102.3,1049.3 3108.3,1048.3 3114.3,1047.4 3120.3,1046.4 3126.3,1045.5 3132.3,1044.5 3138.3,1043.5 3144.3,1042.6 3150.3,1041.6 3156.3,1040.7 3162.3,1039.7 3168.4,1038.7 3174.4,1037.8 3180.4,1036.8 3186.4,1035.9 3192.4,1034.9 3198.4,1033.9 3204.4,1033 3210.4,1032 3216.4,1031.1 3222.4,1030.1 3228.4,1029.2 3234.4,1028.2 3240.4,1027.2 3246.4,1026.3 3252.4,1025.3 3258.4,1024.4 3264.4,1023.4 3270.4,1022.4 3276.4,1021.5 3282.4,1020.5 3288.4,1019.6 3294.4,1018.6 3300.4,1017.6 3306.4,1016.7 3312.4,1015.7 3318.4,1014.8 3324.4,1013.8 3330.4,1012.9 3336.4,1011.9 3342.4,1010.9 3348.4,1010 3354.4,1009 3360.4,1008.1 3366.4,1007.1 3372.4,1006.1 3378.4,1005.2 3384.5,1004.2 3390.5,1003.3 3396.5,1002.3 3402.5,1001.4 3408.5,1000.4 3414.5,999.5 3420.5,998.5 3426.5,997.6 3432.5,996.7 3438.5,995.8 3444.5,995 3450.5,994 3456.5,993.1 3462.5,992.2 3468.5,991.2 3474.5,990.2 3480.5,989.2 3486.5,988.1 3492.5,986.9 3498.5,985.7 3504.5,984.4 3510.5,983.1 3516.5,981.8 3522.5,980.4 3528.5,978.9 3534.5,977.5 3540.5,975.9 3546.5,974.3 3552.5,972.7 3558.5,971 3564.5,969.2 3570.5,967.4 3576.5,965.6 3582.5,963.7 3588.5,961.7 3594.5,959.5 3600.5,957.2 3606.6,954.9 3612.6,952.4 3618.6,949.9 3624.6,947.3 3630.6,944.6 3636.6,942 3642.6,939.3 3648.6,936.6 3654.6,933.9 3660.6,931.3 3666.6,928.7 3672.6,926.1 3678.6,923.4 3684.6,920.8 3690.6,918.1 3696.6,915.4 3702.6,912.7 3708.6,910 3714.6,907.3" fill="none" stroke="#4a4a4a" stroke-width="0.9" stroke-linejoin="round"/>
<polyline points="851.3,886 857.3,888.8 863.3,891.5 869.3,894.3 875.3,897 881.3,899.8 887.3,902.6 893.3,905.3 899.3,908.1 905.3,910.8 911.3,913.6 917.3,916.3 923.3,919.1 929.3,921.9 935.3,924.6 941.3,927.4 947.3,930.1 953.3,932.9 959.3,935.6 965.4,938.4 971.4,941.1 977.4,943.9 983.4,946.7 989.4,949.4 995.4,952.2 1001.4,954.9 1007.4,957.7 1013.4,960.4 1019.4,963.2 1025.4,966 1031.4,968.7 1037.4,971.5 1043.4,974.2 1049.4,977 1055.4,979.7 1061.4,982.5 1067.4,985.3 1073.4,988 1079.4,990.8 1085.4,993.5 1091.4,996.3 1097.4,999 1103.4,1001.8 1109.4,1004.5 1115.4,1007.3 1121.4,1010.1 1127.4,1012.8 1133.4,1015.6 1139.4,1018.3 1145.4,1021.1 1151.4,1023.9 1157.4,1026.7 1163.4,1029.5 1169.4,1032.3 1175.4,1035.1 1181.4,1037.9 1187.5,1040.7 1193.5,1043.5 1199.5,1046.2 1205.5,1049 1211.5,1051.7 1217.5,1054.4 1223.5,1057.1 1229.5,1059.7 1235.5,1062.3 1241.5,1065 1247.5,1067.8 1253.5,1070.6 1259.5,1073.4 1265.5,1076.2 1271.5,1079 1277.5,1081.6 1283.5,1084.2 1289.5,1086.6 1295.5,1088.9 1301.5,1091 1307.5,1092.9 1313.5,1094.6 1319.5,1096 1325.5,1097.3 1331.5,1098.6 1337.5,1099.9 1343.5,1101.1 1349.5,1102.3 1355.5,1103.3 1361.5,1104.4 1367.5,1105.3 1373.5,1106.2 1379.5,1107 1385.5,1107.7 1391.5,1108.4 1397.5,1108.9 1403.6,1109.3 1409.6,1109.7 1415.6,1110 1421.6,1110.3 1427.6,1110.6 1433.6,1110.9 1439.6,1111.1 1445.6,1111.3 1451.6,1111.5 1457.6,1111.7 1463.6,1111.9 1469.6,1112.1 1475.6,1112.3 1481.6,1112.5 1487.6,1112.7 1493.6,1112.9 1499.6,1113.2 1505.6,1113.4 1511.6,1113.7 1517.6,1113.9 1523.6,1114.1 1529.6,1114.4 1535.6,1114.6 1541.6,1114.9 1547.6,1115.1 1553.6,1115.3 1559.6,1115.6 1565.6,1115.8 1571.6,1116.1 1577.6,1116.3 1583.6,1116.5 1589.6,1116.8 1595.6,1117 1601.6,1117.3 1607.6,1117.5 1613.6,1117.7 1619.6,1118 1625.7,1118.2 1631.7,1118.5 1637.7,1118.7 1643.7,1118.9 1649.7,1119.2 1655.7,1119.4 1661.7,1119.7 1667.7,1119.9 1673.7,1120.1 1679.7,1120.4 1685.7,1120.6 1691.7,1120.9 1697.7,1121.1 1703.7,1121.3 1709.7,1121.6 1715.7,1121.8 1721.7,1122 1727.7,1122.3 1733.7,1122.5 1739.7,1122.8 1745.7,1123 1751.7,1123.2 1757.7,1123.5 1763.7,1123.7 1769.7,1124 1775.7,1124.2 1781.7,1124.4 1787.7,1124.7 1793.7,1124.9 1799.7,1125.2 1805.7,1125.4 1811.7,1125.6 1817.7,1125.9 1823.7,1126.1 1829.7,1126.4 1835.7,1126.6 1841.7,1126.8 1847.8,1127.1 1853.8,1127.3 1859.8,1127.6 1865.8,1127.8 1871.8,1128 1877.8,1128.3 1883.8,1128.5 1889.8,1128.8 1895.8,1129 1901.8,1129.2 1907.8,1129.5 1913.8,1129.7 1919.8,1130 1925.8,1130.2 1931.8,1130.4 1937.8,1130.7 1943.8,1130.9 1949.8,1131.2 1955.8,1131.4 1961.8,1131.7 1967.8,1131.9 1973.8,1132.1 1979.8,1132.4 1985.8,1132.6 1991.8,1132.9 1997.8,1133.1 2003.8,1133.3 2009.8,1133.6 2015.8,1133.8 2021.8,1134 2027.8,1134.3 2033.8,1134.6 2039.8,1134.9 2045.8,1135.2 2051.8,1135.4 2057.8,1135.7 2063.9,1136 2069.9,1136.2 2075.9,1136.4 2081.9,1136.6 2087.9,1136.7 2093.9,1136.8 2099.9,1136.8 2105.9,1136.8 2111.9,1136.8 2117.9,1136.8 2123.9,1136.8 2129.9,1136.8 2135.9,1136.7 2141.9,1136.7 2147.9,1136.7 2153.9,1136.6 2159.9,1136.6 2165.9,1136.6 2171.9,1136.5 2177.9,1136.5 2183.9,1136.4 2189.9,1136.4 2195.9,1136.3 2201.9,1136.1 2207.9,1135.9 2213.9,1135.7 2219.9,1135.5 2225.9,1135.2 2231.9,1135 2237.9,1134.7 2243.9,1134.4 2249.9,1134.1 2255.9,1133.8 2261.9,1133.5 2267.9,1133.3 2273.9,1133 2279.9,1132.8 2286,1132.5 2292,1132.3 2298,1132.1 2304,1131.8 2310,1131.6 2316,1131.3 2322,1131.1 2328,1130.9 2334,1130.6 2340,1130.4 2346,1130.1 2352,1129.9 2358,1129.7 2364,1129.4 2370,1129.2 2376,1128.9 2382,1128.7 2388,1128.5 2394,1128.2 2400,1128 2406,1127.7 2412,1127.5 2418,1127.3 2424,1127 2430,1126.8 2436,1126.5 2442,1126.3 2448,1126.1 2454,1125.8 2460,1125.6 2466,1125.3 2472,1125.1 2478,1124.9 2484,1124.6 2490,1124.4 2496,1124.1 2502,1123.9 2508.1,1123.7 2514.1,1123.4 2520.1,1123.2 2526.1,1122.9 2532.1,1122.7 2538.1,1122.5 2544.1,1122.2 2550.1,1122 2556.1,1121.8 2562.1,1121.5 2568.1,1121.3 2574.1,1121.1 2580.1,1120.9 2586.1,1120.6 2592.1,1120.4 2598.1,1120.2 2604.1,1119.9 2610.1,1119.7 2616.1,1119.4 2622.1,1119.1 2628.1,1118.8 2634.1,1118.6 2640.1,1118.3 2646.1,1118 2652.1,1117.7 2658.1,1117.4 2664.1,1117.1 2670.1,1116.8 2676.1,1116.5 2682.1,1116.1 2688.1,1115.7 2694.1,1115.3 2700.1,1114.9 2706.1,1114.5 2712.1,1114 2718.1,1113.5 2724.2,1112.9 2730.2,1112.3 2736.2,1111.6 2742.2,1110.8 2748.2,1110 2754.2,1109.2 2760.2,1108.4 2766.2,1107.5 2772.2,1106.7 2778.2,1105.8 2784.2,1104.9 2790.2,1104 2796.2,1103.2 2802.2,1102.3 2808.2,1101.4 2814.2,1100.5 2820.2,1099.6 2826.2,1098.6 2832.2,1097.7 2838.2,1096.7 2844.2,1095.7 2850.2,1094.7 2856.2,1093.7 2862.2,1092.7 2868.2,1091.7 2874.2,1090.7 2880.2,1089.8 2886.2,1088.8 2892.2,1087.8 2898.2,1086.9 2904.2,1085.9 2910.2,1085 2916.2,1084 2922.2,1083.1 2928.2,1082.1 2934.2,1081.1 2940.2,1080.2 2946.3,1079.2 2952.3,1078.3 2958.3,1077.3 2964.3,1076.3 2970.3,1075.4 2976.3,1074.4 2982.3,1073.5 2988.3,1072.5 2994.3,1071.5 3000.3,1070.6 3006.3,1069.6 3012.3,1068.7 3018.3,1067.7 3024.3,1066.8 3030.3,1065.8 3036.3,1064.8 3042.3,1063.9 3048.3,1062.9 3054.3,1062 3060.3,1061 3066.3,1060 3072.3,1059.1 3078.3,1058.1 3084.3,1057.2 3090.3,1056.2 3096.3,1055.2 3102.3,1054.3 3108.3,1053.3 3114.3,1052.4 3120.3,1051.4 3126.3,1050.5 3132.3,1049.5 3138.3,1048.5 3144.3,1047.6 3150.3,1046.6 3156.3,1045.7 3162.3,1044.7 3168.4,1043.7 3174.4,1042.8 3180.4,1041.8 3186.4,1040.9 3192.4,1039.9 3198.4,1038.9 3204.4,1038 3210.4,1037 3216.4,1036.1 3222.4,1035.1 3228.4,1034.2 3234.4,1033.2 3240.4,1032.2 3246.4,1031.3 3252.4,1030.3 3258.4,1029.4 3264.4,1028.4 3270.4,1027.4 3276.4,1026.5 3282.4,1025.5 3288.4,1024.6 3294.4,1023.6 3300.4,1022.6 3306.4,1021.7 3312.4,1020.7 3318.4,1019.8 3324.4,1018.8 3330.4,1017.9 3336.4,1016.9 3342.4,1015.9 3348.4,1015 3354.4,1014 3360.4,1013.1 3366.4,1012.1 3372.4,1011.1 3378.4,1010.2 3384.5,1009.2 3390.5,1008.3 3396.5,1007.3 3402.5,1006.4 3408.5,1005.4 3414.5,1004.5 3420.5,1003.5 3426.5,1002.6 3432.5,1001.7 3438.5,1000.8 3444.5,1000 3450.5,999 3456.5,998.1 3462.5,997.2 3468.5,996.2 3474.5,995.2 3480.5,994.2 3486.5,993.1 3492.5,991.9 3498.5,990.7 3504.5,989.4 3510.5,988.1 3516.5,986.8 3522.5,985.4 3528.5,983.9 3534.5,982.5 3540.5,980.9 3546.5,979.3 3552.5,977.7 3558.5,976 3564.5,974.2 3570.5,972.4 3576.5,970.6 3582.5,968.7 3588.5,966.7 3594.5,964.5 3600.5,962.2 3606.6,959.9 3612.6,957.4 3618.6,954.9 3624.6,952.3 3630.6,949.6 3636.6,947 3642.6,944.3 3648.6,941.6 3654.6,938.9 3660.6,936.3 3666.6,933.7 3672.6,931.1 3678.6,928.4 3684.6,925.8 3690.6,923.1 3696.6,920.4 3702.6,917.7 3708.6,915 3714.6,912.3" fill="none" stroke="#4a4a4a" stroke-width="0.9" stroke-linejoin="round"/>
<polyline points="851.3,952.2 857.3,954.8 863.3,957.5 869.3,960.1 875.3,962.8 881.3,965.4 887.3,968.1 893.3,970.8 899.3,973.5 905.3,976.3 911.3,979 917.3,981.8 923.3,984.5 929.3,987.3 935.3,990.1 941.3,992.9 947.3,995.7 953.3,998.5 959.3,1001.3 965.4,1004 971.4,1006.8 977.4,1009.5 983.4,1012.3 989.4,1015.1 995.4,1017.8 1001.4,1020.6 1007.4,1023.3 1013.4,1026.1 1019.4,1028.8 1025.4,1031.6 1031.4,1034.4 1037.4,1037.1 1043.4,1039.9 1049.4,1042.6 1055.4,1045.4 1061.4,1048.1 1067.4,1050.9 1073.4,1053.6 1079.4,1056.4 1085.4,1059.2 1091.4,1061.9 1097.4,1064.7 1103.4,1067.4 1109.4,1070.2 1115.4,1072.9 1121.4,1075.7 1127.4,1078.5 1133.4,1081.2 1139.4,1084 1145.4,1086.7 1151.4,1089.5 1157.4,1092.3 1163.4,1095.1 1169.4,1097.9 1175.4,1100.7 1181.4,1103.5 1187.5,1106.3 1193.5,1109.1 1199.5,1111.9 1205.5,1114.6 1211.5,1117.4 1217.5,1120.1 1223.5,1122.7 1229.5,1125.3 1235.5,1128 1241.5,1130.7 1247.5,1133.5 1253.5,1136.3 1259.5,1139.1 1265.5,1141.9 1271.5,1144.6 1277.5,1147.3 1283.5,1149.8 1289.5,1152.3 1295.5,1154.6 1301.5,1156.6 1307.5,1158.5 1313.5,1160.2 1319.5,1161.6 1325.5,1163 1331.5,1164.3 1337.5,1165.5 1343.5,1166.7 1349.5,1167.9 1355.5,1169 1361.5,1170 1367.5,1171 1373.5,1171.9 1379.5,1172.7 1385.5,1173.4 1391.5,1174 1397.5,1174.5 1403.6,1175 1409.6,1175.3 1415.6,1175.7 1421.6,1176 1427.6,1176.2 1433.6,1176.5 1439.6,1176.7 1445.6,1176.9 1451.6,1177.1 1457.6,1177.3 1463.6,1177.5 1469.6,1177.7 1475.6,1177.9 1481.6,1178.1 1487.6,1178.3 1493.6,1178.6 1499.6,1178.8 1505.6,1179.1 1511.6,1179.3 1517.6,1179.5 1523.6,1179.8 1529.6,1180 1535.6,1180.3 1541.6,1180.5 1547.6,1180.7 1553.6,1181 1559.6,1181.2 1565.6,1181.5 1571.6,1181.7 1577.6,1181.9 1583.6,1182.2 1589.6,1182.4 1595.6,1182.7 1601.6,1182.9 1607.6,1183.1 1613.6,1183.4 1619.6,1183.6 1625.7,1183.9 1631.7,1184.1 1637.7,1184.3 1643.7,1184.6 1649.7,1184.8 1655.7,1185.1 1661.7,1185.3 1667.7,1185.5 1673.7,1185.8 1679.7,1186 1685.7,1186.3 1691.7,1186.5 1697.7,1186.7 1703.7,1187 1709.7,1187.2 1715.7,1187.5 1721.7,1187.7 1727.7,1187.9 1733.7,1188.2 1739.7,1188.4 1745.7,1188.7 1751.7,1188.9 1757.7,1189.1 1763.7,1189.4 1769.7,1189.6 1775.7,1189.8 1781.7,1190.1 1787.7,1190.3 1793.7,1190.6 1799.7,1190.8 1805.7,1191 1811.7,1191.3 1817.7,1191.5 1823.7,1191.8 1829.7,1192 1835.7,1192.2 1841.7,1192.5 1847.8,1192.7 1853.8,1193 1859.8,1193.2 1865.8,1193.4 1871.8,1193.7 1877.8,1193.9 1883.8,1194.2 1889.8,1194.4 1895.8,1194.6 1901.8,1194.9 1907.8,1195.1 1913.8,1195.4 1919.8,1195.6 1925.8,1195.8 1931.8,1196.1 1937.8,1196.3 1943.8,1196.6 1949.8,1196.8 1955.8,1197.1 1961.8,1197.3 1967.8,1197.5 1973.8,1197.8 1979.8,1198 1985.8,1198.3 1991.8,1198.5 1997.8,1198.7 2003.8,1199 2009.8,1199.2 2015.8,1199.4 2021.8,1199.7 2027.8,1200 2033.8,1200.2 2039.8,1200.5 2045.8,1200.8 2051.8,1201.1 2057.8,1201.4 2063.9,1201.6 2069.9,1201.8 2075.9,1202 2081.9,1202.2 2087.9,1202.3 2093.9,1202.4 2099.9,1202.5 2105.9,1202.5 2111.9,1202.5 2117.9,1202.4 2123.9,1202.4 2129.9,1202.4 2135.9,1202.4 2141.9,1202.4 2147.9,1202.3 2153.9,1202.3 2159.9,1202.2 2165.9,1202.2 2171.9,1202.2 2177.9,1202.1 2183.9,1202.1 2189.9,1202 2195.9,1201.9 2201.9,1201.8 2207.9,1201.6 2213.9,1201.4 2219.9,1201.1 2225.9,1200.9 2231.9,1200.6 2237.9,1200.3 2243.9,1200 2249.9,1199.7 2255.9,1199.5 2261.9,1199.2 2267.9,1198.9 2273.9,1198.7 2279.9,1198.4 2286,1198.2 2292,1197.9 2298,1197.7 2304,1197.5 2310,1197.2 2316,1197 2322,1196.7 2328,1196.5 2334,1196.3 2340,1196 2346,1195.8 2352,1195.5 2358,1195.3 2364,1195.1 2370,1194.8 2376,1194.6 2382,1194.3 2388,1194.1 2394,1193.9 2400,1193.6 2406,1193.4 2412,1193.1 2418,1192.9 2424,1192.7 2430,1192.4 2436,1192.2 2442,1191.9 2448,1191.7 2454,1191.5 2460,1191.2 2466,1191 2472,1190.7 2478,1190.5 2484,1190.3 2490,1190 2496,1189.8 2502,1189.5 2508.1,1189.3 2514.1,1189.1 2520.1,1188.8 2526.1,1188.6 2532.1,1188.4 2538.1,1188.1 2544.1,1187.9 2550.1,1187.6 2556.1,1187.4 2562.1,1187.2 2568.1,1187 2574.1,1186.7 2580.1,1186.5 2586.1,1186.3 2592.1,1186 2598.1,1185.8 2604.1,1185.6 2610.1,1185.3 2616.1,1185 2622.1,1184.8 2628.1,1184.5 2634.1,1184.2 2640.1,1183.9 2646.1,1183.6 2652.1,1183.3 2658.1,1183.1 2664.1,1182.7 2670.1,1182.4 2676.1,1182.1 2682.1,1181.7 2688.1,1181.4 2694.1,1181 2700.1,1180.6 2706.1,1180.1 2712.1,1179.7 2718.1,1179.1 2724.2,1178.5 2730.2,1177.9 2736.2,1177.2 2742.2,1176.5 2748.2,1175.7 2754.2,1174.9 2760.2,1174 2766.2,1173.2 2772.2,1172.3 2778.2,1171.4 2784.2,1170.6 2790.2,1169.7 2796.2,1168.8 2802.2,1168 2808.2,1167.1 2814.2,1166.1 2820.2,1165.2 2826.2,1164.3 2832.2,1163.3 2838.2,1162.3 2844.2,1161.3 2850.2,1160.3 2856.2,1159.3 2862.2,1158.4 2868.2,1157.4 2874.2,1156.4 2880.2,1155.4 2886.2,1154.4 2892.2,1153.5 2898.2,1152.5 2904.2,1151.6 2910.2,1150.6 2916.2,1149.7 2922.2,1148.7 2928.2,1147.7 2934.2,1146.8 2940.2,1145.8 2946.3,1144.9 2952.3,1143.9 2958.3,1142.9 2964.3,1142 2970.3,1141 2976.3,1140.1 2982.3,1139.1 2988.3,1138.1 2994.3,1137.2 3000.3,1136.2 3006.3,1135.3 3012.3,1134.3 3018.3,1133.4 3024.3,1132.4 3030.3,1131.4 3036.3,1130.5 3042.3,1129.5 3048.3,1128.6 3054.3,1127.6 3060.3,1126.6 3066.3,1125.7 3072.3,1124.7 3078.3,1123.8 3084.3,1122.8 3090.3,1121.8 3096.3,1120.9 3102.3,1119.9 3108.3,1119 3114.3,1118 3120.3,1117.1 3126.3,1116.1 3132.3,1115.1 3138.3,1114.2 3144.3,1113.2 3150.3,1112.3 3156.3,1111.3 3162.3,1110.3 3168.4,1109.4 3174.4,1108.4 3180.4,1107.5 3186.4,1106.5 3192.4,1105.5 3198.4,1104.6 3204.4,1103.6 3210.4,1102.7 3216.4,1101.7 3222.4,1100.8 3228.4,1099.8 3234.4,1098.8 3240.4,1097.9 3246.4,1096.9 3252.4,1096 3258.4,1095 3264.4,1094 3270.4,1093.1 3276.4,1092.1 3282.4,1091.2 3288.4,1090.2 3294.4,1089.2 3300.4,1088.3 3306.4,1087.3 3312.4,1086.4 3318.4,1085.4 3324.4,1084.5 3330.4,1083.5 3336.4,1082.5 3342.4,1081.6 3348.4,1080.6 3354.4,1079.7 3360.4,1078.7 3366.4,1077.7 3372.4,1076.8 3378.4,1075.8 3384.5,1074.9 3390.5,1073.9 3396.5,1073 3402.5,1072 3408.5,1071 3414.5,1070.1 3420.5,1069.2 3426.5,1068.3 3432.5,1067.4 3438.5,1066.5 3444.5,1065.6 3450.5,1064.7 3456.5,1063.8 3462.5,1062.8 3468.5,1061.9 3474.5,1060.8 3480.5,1059.8 3486.5,1058.7 3492.5,1057.5 3498.5,1056.3 3504.5,1055.1 3510.5,1053.8 3516.5,1052.4 3522.5,1051 3528.5,1049.6 3534.5,1048.1 3540.5,1046.5 3546.5,1045 3552.5,1043.3 3558.5,1041.6 3564.5,1039.9 3570.5,1038.1 3576.5,1036.2 3582.5,1034.3 3588.5,1032.3 3594.5,1030.1 3600.5,1027.8 3606.6,1025.4 3612.6,1023 3618.6,1020.4 3624.6,1017.8 3630.6,1015.2 3636.6,1012.5 3642.6,1009.8 3648.6,1007.1 3654.6,1004.5 3660.6,1001.9 3666.6,999.3 3672.6,996.7 3678.6,994.1 3684.6,991.5 3690.6,988.8 3696.6,986.1 3702.6,983.4 3708.6,980.7 3714.6,978" fill="none" stroke="#4a4a4a" stroke-width="0.9" stroke-linejoin="round"/>
<polyline points="851.3,958.7 857.3,961.3 863.3,964 869.3,966.6 875.3,969.3 881.3,971.9 887.3,974.6 893.3,977.3 899.3,980 905.3,982.8 911.3,985.5 917.3,988.3 923.3,991 929.3,993.8 935.3,996.6 941.3,999.4 947.3,1002.2 953.3,1005 959.3,1007.8 965.4,1010.5 971.4,1013.3 977.4,1016 983.4,1018.8 989.4,1021.6 995.4,1024.3 1001.4,1027.1 1007.4,1029.8 1013.4,1032.6 1019.4,1035.3 1025.4,1038.1 1031.4,1040.9 1037.4,1043.6 1043.4,1046.4 1049.4,1049.1 1055.4,1051.9 1061.4,1054.6 1067.4,1057.4 1073.4,1060.1 1079.4,1062.9 1085.4,1065.7 1091.4,1068.4 1097.4,1071.2 1103.4,1073.9 1109.4,1076.7 1115.4,1079.4 1121.4,1082.2 1127.4,1085 1133.4,1087.7 1139.4,1090.5 1145.4,1093.2 1151.4,1096 1157.4,1098.8 1163.4,1101.6 1169.4,1104.4 1175.4,1107.2 1181.4,1110 1187.5,1112.8 1193.5,1115.6 1199.5,1118.4 1205.5,1121.1 1211.5,1123.9 1217.5,1126.6 1223.5,1129.2 1229.5,1131.8 1235.5,1134.5 1241.5,1137.2 1247.5,1140 1253.5,1142.8 1259.5,1145.6 1265.5,1148.4 1271.5,1151.1 1277.5,1153.8 1283.5,1156.3 1289.5,1158.8 1295.5,1161.1 1301.5,1163.1 1307.5,1165 1313.5,1166.7 1319.5,1168.1 1325.5,1169.5 1331.5,1170.8 1337.5,1172 1343.5,1173.2 1349.5,1174.4 1355.5,1175.5 1361.5,1176.5 1367.5,1177.5 1373.5,1178.4 1379.5,1179.2 1385.5,1179.9 1391.5,1180.5 1397.5,1181 1403.6,1181.5 1409.6,1181.8 1415.6,1182.2 1421.6,1182.5 1427.6,1182.7 1433.6,1183 1439.6,1183.2 1445.6,1183.4 1451.6,1183.6 1457.6,1183.8 1463.6,1184 1469.6,1184.2 1475.6,1184.4 1481.6,1184.6 1487.6,1184.8 1493.6,1185.1 1499.6,1185.3 1505.6,1185.6 1511.6,1185.8 1517.6,1186 1523.6,1186.3 1529.6,1186.5 1535.6,1186.8 1541.6,1187 1547.6,1187.2 1553.6,1187.5 1559.6,1187.7 1565.6,1188 1571.6,1188.2 1577.6,1188.4 1583.6,1188.7 1589.6,1188.9 1595.6,1189.2 1601.6,1189.4 1607.6,1189.6 1613.6,1189.9 1619.6,1190.1 1625.7,1190.4 1631.7,1190.6 1637.7,1190.8 1643.7,1191.1 1649.7,1191.3 1655.7,1191.6 1661.7,1191.8 1667.7,1192 1673.7,1192.3 1679.7,1192.5 1685.7,1192.8 1691.7,1193 1697.7,1193.2 1703.7,1193.5 1709.7,1193.7 1715.7,1194 1721.7,1194.2 1727.7,1194.4 1733.7,1194.7 1739.7,1194.9 1745.7,1195.2 1751.7,1195.4 1757.7,1195.6 1763.7,1195.9 1769.7,1196.1 1775.7,1196.3 1781.7,1196.6 1787.7,1196.8 1793.7,1197.1 1799.7,1197.3 1805.7,1197.5 1811.7,1197.8 1817.7,1198 1823.7,1198.3 1829.7,1198.5 1835.7,1198.7 1841.7,1199 1847.8,1199.2 1853.8,1199.5 1859.8,1199.7 1865.8,1199.9 1871.8,1200.2 1877.8,1200.4 1883.8,1200.7 1889.8,1200.9 1895.8,1201.1 1901.8,1201.4 1907.8,1201.6 1913.8,1201.9 1919.8,1202.1 1925.8,1202.3 1931.8,1202.6 1937.8,1202.8 1943.8,1203.1 1949.8,1203.3 1955.8,1203.6 1961.8,1203.8 1967.8,1204 1973.8,1204.3 1979.8,1204.5 1985.8,1204.8 1991.8,1205 1997.8,1205.2 2003.8,1205.5 2009.8,1205.7 2015.8,1205.9 2021.8,1206.2 2027.8,1206.5 2033.8,1206.7 2039.8,1207 2045.8,1207.3 2051.8,1207.6 2057.8,1207.9 2063.9,1208.1 2069.9,1208.3 2075.9,1208.5 2081.9,1208.7 2087.9,1208.8 2093.9,1208.9 2099.9,1209 2105.9,1209 2111.9,1209 2117.9,1208.9 2123.9,1208.9 2129.9,1208.9 2135.9,1208.9 2141.9,1208.9 2147.9,1208.8 2153.9,1208.8 2159.9,1208.7 2165.9,1208.7 2171.9,1208.7 2177.9,1208.6 2183.9,1208.6 2189.9,1208.5 2195.9,1208.4 2201.9,1208.3 2207.9,1208.1 2213.9,1207.9 2219.9,1207.6 2225.9,1207.4 2231.9,1207.1 2237.9,1206.8 2243.9,1206.5 2249.9,1206.2 2255.9,1206 2261.9,1205.7 2267.9,1205.4 2273.9,1205.2 2279.9,1204.9 2286,1204.7 2292,1204.4 2298,1204.2 2304,1204 2310,1203.7 2316,1203.5 2322,1203.2 2328,1203 2334,1202.8 2340,1202.5 2346,1202.3 2352,1202 2358,1201.8 2364,1201.6 2370,1201.3 2376,1201.1 2382,1200.8 2388,1200.6 2394,1200.4 2400,1200.1 2406,1199.9 2412,1199.6 2418,1199.4 2424,1199.2 2430,1198.9 2436,1198.7 2442,1198.4 2448,1198.2 2454,1198 2460,1197.7 2466,1197.5 2472,1197.2 2478,1197 2484,1196.8 2490,1196.5 2496,1196.3 2502,1196 2508.1,1195.8 2514.1,1195.6 2520.1,1195.3 2526.1,1195.1 2532.1,1194.9 2538.1,1194.6 2544.1,1194.4 2550.1,1194.1 2556.1,1193.9 2562.1,1193.7 2568.1,1193.5 2574.1,1193.2 2580.1,1193 2586.1,1192.8 2592.1,1192.5 2598.1,1192.3 2604.1,1192.1 2610.1,1191.8 2616.1,1191.5 2622.1,1191.3 2628.1,1191 2634.1,1190.7 2640.1,1190.4 2646.1,1190.1 2652.1,1189.8 2658.1,1189.6 2664.1,1189.2 2670.1,1188.9 2676.1,1188.6 2682.1,1188.2 2688.1,1187.9 2694.1,1187.5 2700.1,1187.1 2706.1,1186.6 2712.1,1186.2 2718.1,1185.6 2724.2,1185 2730.2,1184.4 2736.2,1183.7 2742.2,1183 2748.2,1182.2 2754.2,1181.4 2760.2,1180.5 2766.2,1179.7 2772.2,1178.8 2778.2,1177.9 2784.2,1177.1 2790.2,1176.2 2796.2,1175.3 2802.2,1174.5 2808.2,1173.6 2814.2,1172.6 2820.2,1171.7 2826.2,1170.8 2832.2,1169.8 2838.2,1168.8 2844.2,1167.8 2850.2,1166.8 2856.2,1165.8 2862.2,1164.9 2868.2,1163.9 2874.2,1162.9 2880.2,1161.9 2886.2,1160.9 2892.2,1160 2898.2,1159 2904.2,1158.1 2910.2,1157.1 2916.2,1156.2 2922.2,1155.2 2928.2,1154.2 2934.2,1153.3 2940.2,1152.3 2946.3,1151.4 2952.3,1150.4 2958.3,1149.4 2964.3,1148.5 2970.3,1147.5 2976.3,1146.6 2982.3,1145.6 2988.3,1144.6 2994.3,1143.7 3000.3,1142.7 3006.3,1141.8 3012.3,1140.8 3018.3,1139.9 3024.3,1138.9 3030.3,1137.9 3036.3,1137 3042.3,1136 3048.3,1135.1 3054.3,1134.1 3060.3,1133.1 3066.3,1132.2 3072.3,1131.2 3078.3,1130.3 3084.3,1129.3 3090.3,1128.3 3096.3,1127.4 3102.3,1126.4 3108.3,1125.5 3114.3,1124.5 3120.3,1123.6 3126.3,1122.6 3132.3,1121.6 3138.3,1120.7 3144.3,1119.7 3150.3,1118.8 3156.3,1117.8 3162.3,1116.8 3168.4,1115.9 3174.4,1114.9 3180.4,1114 3186.4,1113 3192.4,1112 3198.4,1111.1 3204.4,1110.1 3210.4,1109.2 3216.4,1108.2 3222.4,1107.3 3228.4,1106.3 3234.4,1105.3 3240.4,1104.4 3246.4,1103.4 3252.4,1102.5 3258.4,1101.5 3264.4,1100.5 3270.4,1099.6 3276.4,1098.6 3282.4,1097.7 3288.4,1096.7 3294.4,1095.7 3300.4,1094.8 3306.4,1093.8 3312.4,1092.9 3318.4,1091.9 3324.4,1091 3330.4,1090 3336.4,1089 3342.4,1088.1 3348.4,1087.1 3354.4,1086.2 3360.4,1085.2 3366.4,1084.2 3372.4,1083.3 3378.4,1082.3 3384.5,1081.4 3390.5,1080.4 3396.5,1079.5 3402.5,1078.5 3408.5,1077.5 3414.5,1076.6 3420.5,1075.7 3426.5,1074.8 3432.5,1073.9 3438.5,1073 3444.5,1072.1 3450.5,1071.2 3456.5,1070.3 3462.5,1069.3 3468.5,1068.4 3474.5,1067.3 3480.5,1066.3 3486.5,1065.2 3492.5,1064 3498.5,1062.8 3504.5,1061.6 3510.5,1060.3 3516.5,1058.9 3522.5,1057.5 3528.5,1056.1 3534.5,1054.6 3540.5,1053 3546.5,1051.5 3552.5,1049.8 3558.5,1048.1 3564.5,1046.4 3570.5,1044.6 3576.5,1042.7 3582.5,1040.8 3588.5,1038.8 3594.5,1036.6 3600.5,1034.3 3606.6,1031.9 3612.6,1029.5 3618.6,1026.9 3624.6,1024.3 3630.6,1021.7 3636.6,1019 3642.6,1016.3 3648.6,1013.6 3654.6,1011 3660.6,1008.4 3666.6,1005.8 3672.6,1003.2 3678.6,1000.6 3684.6,998 3690.6,995.3 3696.6,992.6 3702.6,989.9 3708.6,987.2 3714.6,984.5" fill="none" stroke="#4a4a4a" stroke-width="0.9" stroke-linejoin="round"/>
<polygon points="228,729.7 234.1,730.3 240.3,732 246.4,734.4 252.6,737 258.7,739.4 264.9,741.7 271,744.1 277.1,746.7 283.3,749.2 289.4,751.8 295.6,754.2 301.7,756.6 307.9,758.9 314,761.2 320.1,763.5 326.3,765.7 332.4,768 338.6,770.3 344.7,772.5 350.9,774.7 357,776.9 357,783.4 350.9,781.2 344.7,779 338.6,776.8 332.4,774.5 326.3,772.2 320.1,770 314,767.7 307.9,765.4 301.7,763.1 295.6,760.7 289.4,758.3 283.3,755.7 277.1,753.2 271,750.6 264.9,748.2 258.7,745.9 252.6,743.5 246.4,740.9 240.3,738.5 234.1,736.8 228,736.2" fill="#a3a3a3" stroke="#4a4a4a" stroke-width="0.7"/>
<polygon points="357,776.9 363,779.2 369,781.5 375,784.1 381,787.1 387,790.3 393,793.1 399,795.7 405,798.1 411,799.9 417,800.7 423,801.3 429,801.7 435,802.1 441,802.4 447,802.7 453,803.2 459,803.7 465,804.1 471,804.6 477,805.1 483,805.6 489,806.3 495,807.1 501,808.2 507,809.6 513,811 519,812.6 525,814.3 531,815.9 537,817.5 543,819.1 549,820.8 555,822.6 561,824.3 567,826.1 573,828 579,829.9 585,831.8 591,833.7 597,835.7 603,837.6 609,839.6 615,841.6 621,843.6 627,845.6 633,847.7 639,849.8 645,851.9 651,854 657,856.2 663,858.4 669,860.6 675,862.8 681,865 687,867.2 693,869.4 699,871.6 705,873.8 711,875.9 717,878.1 723,880.2 729,882.3 735,884.4 741,886.5 747,888.6 753,890.7 759,892.8 765,895 771,897.1 777,899.3 783,901.6 789,903.8 795,906.1 801,908.5 807,910.9 813,913.4 819,915.9 825,918.4 825,928.9 819,926.4 813,923.9 807,921.4 801,919 795,916.6 789,914.3 783,912.1 777,909.8 771,907.6 765,905.5 759,903.3 753,901.2 747,899.1 741,897 735,894.9 729,892.8 723,890.7 717,888.6 711,886.4 705,884.3 699,882.1 693,879.9 687,877.7 681,875.5 675,873.3 669,871.1 663,868.9 657,866.7 651,864.5 645,862.4 639,860.3 633,858.2 627,856.1 621,854.1 615,852.1 609,850.1 603,848.1 597,846.2 591,844.2 585,842.3 579,840.4 573,838.5 567,836.6 561,834.8 555,833.1 549,831.3 543,829.6 537,828 531,826.4 525,824.8 519,823.1 513,821.5 507,820.1 501,818.7 495,817.6 489,816.8 483,816.1 477,815.6 471,815.1 465,814.6 459,814.2 453,813.7 447,813.2 441,812.9 435,812.6 429,812.2 423,811.8 417,811.2 411,810.4 405,808.6 399,806.2 393,803.6 387,800.8 381,797.6 375,794.6 369,792 363,789.7 357,787.4" fill="#a3a3a3" stroke="#4a4a4a" stroke-width="0.7"/>
<polygon points="197.5,733 230.5,733 232,738.8 197.5,738.8" fill="#a3a3a3" stroke="#4a4a4a" stroke-width="0.7"/>
<polygon points="240,730 246.2,730.2 252.3,730.4 258.5,730.6 264.6,730.8 270.8,730.9 276.9,731.1 283.1,731.3 289.3,731.5 295.4,731.7 301.6,732 307.7,732.2 313.9,732.5 320.1,732.8 326.2,733 332.4,733.3 338.5,733.5 344.7,733.8 350.8,734 357,734.1 357,776.9 350.8,774.7 344.7,772.5 338.5,770.3 332.4,768 326.2,765.7 320.1,763.4 313.9,761.2 307.7,758.9 301.6,756.5 295.4,754.2 289.3,751.7 283.1,749.2 276.9,746.6 270.8,744 264.6,741.6 258.5,739.3 252.3,736.9 246.2,734.3 240,731.9" fill="#b7d08a" stroke="none" stroke-width="0"/>
<polygon points="357,743.7 363,744.8 369,745.9 375,747 381,748.3 387,749.6 393,751 399,752.3 405,753.6 411,755 417,756.3 423,757.6 429,758.9 435,760.3 441,761.2 447,761.9 453,762.7 459,763.4 465,764.2 471,764.9 477,765.6 483,766.4 489,767.2 495,768.1 501,769 507,769.9 513,770.8 519,771.7 525,772.6 531,773.5 537,774.9 543,776.9 549,778.8 555,780.8 561,782.7 567,784.7 573,786.6 579,788.6 585,790.5 591,792.5 597,794.4 603,796.1 609,797.6 615,799.1 621,800.6 627,802.1 633,803.8 639,805.8 645,807.9 651,809.9 657,812 663,814 669,816.1 675,818.1 681,820.4 687,822.6 693,824.9 699,827.1 705,829.4 711,831.6 717,833.9 723,836.1 729,838.4 735,840.7 741,843.1 747,845.4 753,847.8 759,850.1 765,852.5 771,854.8 777,857.2 783,859.5 789,861.9 795,864.2 801,866.6 807,868.9 813,871.3 819,873.6 825,876 825,918.4 819,915.9 813,913.4 807,910.9 801,908.5 795,906.1 789,903.8 783,901.6 777,899.3 771,897.1 765,895 759,892.8 753,890.7 747,888.6 741,886.5 735,884.4 729,882.3 723,880.2 717,878.1 711,875.9 705,873.8 699,871.6 693,869.4 687,867.2 681,865 675,862.8 669,860.6 663,858.4 657,856.2 651,854 645,851.9 639,849.8 633,847.7 627,845.6 621,843.6 615,841.6 609,839.6 603,837.6 597,835.7 591,833.7 585,831.8 579,829.9 573,828 567,826.1 561,824.3 555,822.6 549,820.8 543,819.1 537,817.5 531,815.9 525,814.3 519,812.6 513,811 507,809.6 501,808.2 495,807.1 489,806.3 483,805.6 477,805.1 471,804.6 465,804.1 459,803.7 453,803.2 447,802.7 441,802.4 435,802.1 429,801.7 423,801.3 417,800.7 411,799.9 405,798.1 399,795.7 393,793.1 387,790.3 381,787.1 375,784.1 369,781.5 363,779.2 357,776.9" fill="#abd1b6" stroke="none" stroke-width="0"/>
<polygon points="357,735.7 363,736.8 369,737.9 375,739 381,740.3 387,741.6 393,743 399,744.3 405,745.6 411,747 417,748.3 423,749.6 429,750.9 435,752.3 441,753.2 447,753.9 453,754.7 459,755.4 465,756.2 471,756.9 477,757.6 483,758.4 489,759.2 495,760.1 501,761 507,761.9 513,762.8 519,763.7 525,764.6 531,765.5 537,766.9 543,768.9 549,770.8 555,772.8 561,774.7 567,776.7 573,778.6 579,780.6 585,782.5 591,784.5 597,786.4 603,788.1 609,789.6 615,791.1 621,792.6 627,794.1 633,795.8 639,797.8 645,799.9 651,801.9 657,804 663,806 669,808.1 675,810.1 681,812.4 687,814.6 693,816.9 699,819.1 705,821.4 711,823.6 717,825.9 723,828.1 729,830.4 735,832.7 741,835.1 747,837.4 753,839.8 759,842.1 765,844.5 771,846.8 777,849.2 783,851.5 789,853.9 795,856.2 801,858.6 807,860.9 813,863.3 819,865.6 825,868 825,876 819,873.6 813,871.3 807,868.9 801,866.6 795,864.2 789,861.9 783,859.5 777,857.2 771,854.8 765,852.5 759,850.1 753,847.8 747,845.4 741,843.1 735,840.7 729,838.4 723,836.1 717,833.9 711,831.6 705,829.4 699,827.1 693,824.9 687,822.6 681,820.4 675,818.1 669,816.1 663,814 657,812 651,809.9 645,807.9 639,805.8 633,803.8 627,802.1 621,800.6 615,799.1 609,797.6 603,796.1 597,794.4 591,792.5 585,790.5 579,788.6 573,786.6 567,784.7 561,782.7 555,780.8 549,778.8 543,776.9 537,774.9 531,773.5 525,772.6 519,771.7 513,770.8 507,769.9 501,769 495,768.1 489,767.2 483,766.4 477,765.6 471,764.9 465,764.2 459,763.4 453,762.7 447,761.9 441,761.2 435,760.3 429,758.9 423,757.6 417,756.3 411,755 405,753.6 399,752.3 393,751 387,749.6 381,748.3 375,747 369,745.9 363,744.8 357,743.7" fill="#a3a3a3" stroke="#4a4a4a" stroke-width="0.7"/>
<polygon points="470,731.8 476,732 482,732.2 488.1,732.5 494.1,732.9 500.1,733.6 506.1,734.7 512.1,736 518.1,737.5 524.2,739.1 530.2,740.8 536.2,742.4 542.2,744.2 548.2,746.2 554.2,748.3 560.3,750.6 566.3,753 572.3,755.5 578.3,758.1 584.3,760.7 590.3,763.4 596.4,766.1 602.4,768.8 608.4,771.4 614.4,774.1 620.4,776.6 626.4,779.2 632.5,781.8 638.5,784.3 644.5,786.9 650.5,789.6 656.5,792.2 662.5,794.9 668.6,797.5 674.6,800.2 680.6,802.9 686.6,805.6 692.6,808.3 698.6,811 704.7,813.7 710.7,816.4 716.7,819.1 722.7,821.9 728.7,824.6 734.7,827.4 740.8,830.1 746.8,832.9 752.8,835.7 758.8,838.5 764.8,841.2 770.8,844 776.9,846.8 782.9,849.6 788.9,852.4 794.9,855.1 800.9,857.9 806.9,860.7 813,863.4 819,866.2 825,868.9 825,875.9 819,873.2 813,870.4 806.9,867.7 800.9,864.9 794.9,862.1 788.9,859.4 782.9,856.6 776.9,853.8 770.8,851 764.8,848.2 758.8,845.5 752.8,842.7 746.8,839.9 740.8,837.1 734.7,834.4 728.7,831.6 722.7,828.9 716.7,826.1 710.7,823.4 704.7,820.7 698.6,818 692.6,815.3 686.6,812.6 680.6,809.9 674.6,807.2 668.6,804.5 662.5,801.9 656.5,799.2 650.5,796.6 644.5,793.9 638.5,791.3 632.5,788.8 626.4,786.2 620.4,783.6 614.4,781.1 608.4,778.4 602.4,775.8 596.4,773.1 590.3,770.4 584.3,767.7 578.3,765.1 572.3,762.5 566.3,760 560.3,757.6 554.2,755.3 548.2,753.2 542.2,751.2 536.2,749.4 530.2,747.8 524.2,746.1 518.1,744.5 512.1,743 506.1,741.7 500.1,740.6 494.1,739.9 488.1,739.5 482,739.2 476,739 470,738.8" fill="#a3a3a3" stroke="#4a4a4a" stroke-width="0.7"/>
<polygon points="500,729.4 506.3,729.1 512.5,728.9 518.8,728.7 525.1,728.4 531.4,728.2 537.6,728 543.9,727.7 550.2,727.5 556.5,727.3 562.7,727 569,726.8 575.3,726.6 581.6,726.4 587.8,726.4 594.1,726.3 600.4,726.3 606.7,726.3 612.9,726.2 619.2,726.2 619.2,776.1 612.9,773.4 606.7,770.7 600.4,767.9 594.1,765.1 587.8,762.3 581.6,759.5 575.3,756.8 569,754.1 562.7,751.6 556.5,749.1 550.2,746.8 543.9,744.7 537.6,742.8 531.4,741.1 525.1,739.4 518.8,737.7 512.5,736.1 506.3,734.8 500,733.6" fill="#b7d08a" stroke="none" stroke-width="0"/>
<polygon points="619.2,738.9 625.3,741.2 631.3,743.6 637.4,745.9 643.4,748.2 649.5,750.5 655.5,752.8 661.6,755.1 667.6,757.4 673.7,759.7 679.7,762.1 685.8,764.6 691.8,767 697.9,769.5 703.9,772 710,774.5 716,776.9 722.1,779.4 728.2,781.9 734.2,784.4 740.3,786.8 746.3,789.3 752.4,792.1 758.4,795 764.5,797.9 770.5,800.8 776.6,803.7 782.6,806.6 788.7,809.4 794.7,812.3 800.8,815.2 806.8,818.1 812.9,821 818.9,823.9 825,826.8 825,868.9 818.9,866.2 812.9,863.4 806.8,860.6 800.8,857.8 794.7,855 788.7,852.3 782.6,849.5 776.6,846.7 770.5,843.9 764.5,841.1 758.4,838.3 752.4,835.5 746.3,832.7 740.3,829.9 734.2,827.1 728.2,824.4 722.1,821.6 716,818.8 710,816.1 703.9,813.4 697.9,810.7 691.8,807.9 685.8,805.2 679.7,802.5 673.7,799.8 667.6,797.1 661.6,794.4 655.5,791.8 649.5,789.1 643.4,786.5 637.4,783.9 631.3,781.3 625.3,778.7 619.2,776.1" fill="#40aea6" stroke="none" stroke-width="0"/>
<polygon points="619.2,731.9 625.3,734.2 631.3,736.6 637.4,738.9 643.4,741.2 649.5,743.5 655.5,745.8 661.6,748.1 667.6,750.4 673.7,752.7 679.7,755.1 685.8,757.6 691.8,760 697.9,762.5 703.9,765 710,767.5 716,769.9 722.1,772.4 728.2,774.9 734.2,777.4 740.3,779.8 746.3,782.3 752.4,785.1 758.4,788 764.5,790.9 770.5,793.8 776.6,796.7 782.6,799.6 788.7,802.4 794.7,805.3 800.8,808.2 806.8,811.1 812.9,814 818.9,816.9 825,819.8 825,826.8 818.9,823.9 812.9,821 806.8,818.1 800.8,815.2 794.7,812.3 788.7,809.4 782.6,806.6 776.6,803.7 770.5,800.8 764.5,797.9 758.4,795 752.4,792.1 746.3,789.3 740.3,786.8 734.2,784.4 728.2,781.9 722.1,779.4 716,776.9 710,774.5 703.9,772 697.9,769.5 691.8,767 685.8,764.6 679.7,762.1 673.7,759.7 667.6,757.4 661.6,755.1 655.5,752.8 649.5,750.5 643.4,748.2 637.4,745.9 631.3,743.6 625.3,741.2 619.2,738.9" fill="#a3a3a3" stroke="#4a4a4a" stroke-width="0.7"/>
<polygon points="617,732 619.2,732 619.2,775 617,775" fill="#a3a3a3" stroke="none" stroke-width="0"/>
<polygon points="3834.7,757.6 3918,757.6 3862,782 3839.6,782" fill="#b8d7de" stroke="none" stroke-width="0"/>
<polygon points="3740,944.7 3746,942.4 3752,940.1 3758,938 3764,936 3770.1,934 3776.1,932.2 3782.1,930.4 3788.1,928.6 3794.1,926.9 3800.1,925.2 3806.1,923.5 3812.1,921.7 3818.1,920 3824.1,918.2 3830.2,916.3 3836.2,914.4 3842.2,912.4 3848.2,910.3 3854.2,908.1 3860.2,905.9 3866.2,903.7 3872.2,901.4 3878.2,899.1 3884.3,896.8 3890.3,894.4 3896.3,892 3902.3,889.6 3908.3,887.1 3914.3,884.7 3920.3,882.2 3926.3,879.7 3932.3,877.2 3938.3,874.6 3944.4,872 3950.4,869.4 3956.4,866.7 3962.4,864 3968.4,861.2 3974.4,858.5 3980.4,855.7 3986.4,853 3992.4,850.2 3998.5,847.4 4004.5,844.7 4010.5,842 4016.5,839.3 4022.5,836.6 4028.5,833.8 4034.5,831.1 4040.5,828.4 4046.5,825.7 4052.5,823 4058.6,820.2 4064.6,817.5 4070.6,814.8 4076.6,812.1 4082.6,809.4 4088.6,806.8 4094.6,804.1 4100.6,801.4 4106.6,798.8 4112.7,796.2 4118.7,793.5 4124.7,790.9 4130.7,788.2 4136.7,785.6 4142.7,783 4148.7,780.4 4154.7,777.8 4160.7,775.2 4166.7,772.7 4172.8,770.2 4178.8,767.7 4184.8,765.2 4190.8,762.9 4196.8,760.5 4202.8,758.2 4208.8,756 4214.8,753.7 4220.8,751.5 4226.9,749.3 4232.9,747.1 4238.9,744.9 4244.9,742.6 4250.9,740.1 4256.9,737.7 4262.9,735.5 4268.9,733.8 4274.9,732.4 4280.9,731.1 4287,729.9 4293,728.9 4299,728 4305,727.4 4311,727 4311,737 4305,737.4 4299,738 4293,738.9 4287,739.9 4280.9,741.1 4274.9,742.4 4268.9,743.8 4262.9,745.5 4256.9,747.7 4250.9,750.1 4244.9,752.6 4238.9,754.9 4232.9,757.1 4226.9,759.3 4220.8,761.5 4214.8,763.7 4208.8,766 4202.8,768.2 4196.8,770.5 4190.8,772.9 4184.8,775.2 4178.8,777.7 4172.8,780.2 4166.7,782.7 4160.7,785.2 4154.7,787.8 4148.7,790.4 4142.7,793 4136.7,795.6 4130.7,798.2 4124.7,800.9 4118.7,803.5 4112.7,806.2 4106.6,808.8 4100.6,811.4 4094.6,814.1 4088.6,816.8 4082.6,819.4 4076.6,822.1 4070.6,824.8 4064.6,827.5 4058.6,830.2 4052.5,833 4046.5,835.7 4040.5,838.4 4034.5,841.1 4028.5,843.8 4022.5,846.6 4016.5,849.3 4010.5,852 4004.5,854.7 3998.5,857.4 3992.4,860.2 3986.4,863 3980.4,865.7 3974.4,868.5 3968.4,871.2 3962.4,874 3956.4,876.7 3950.4,879.4 3944.4,882 3938.3,884.6 3932.3,887.2 3926.3,889.7 3920.3,892.2 3914.3,894.7 3908.3,897.1 3902.3,899.6 3896.3,902 3890.3,904.4 3884.3,906.8 3878.2,909.1 3872.2,911.4 3866.2,913.7 3860.2,915.9 3854.2,918.1 3848.2,920.3 3842.2,922.4 3836.2,924.4 3830.2,926.3 3824.1,928.2 3818.1,930 3812.1,931.7 3806.1,933.5 3800.1,935.2 3794.1,936.9 3788.1,938.6 3782.1,940.4 3776.1,942.2 3770.1,944 3764,946 3758,948 3752,950.1 3746,952.4 3740,954.7" fill="#a3a3a3" stroke="#4a4a4a" stroke-width="0.7"/>
<polygon points="4290,730.4 4340.3,730.4 4340.3,737.7 4290,737.7" fill="#a3a3a3" stroke="#4a4a4a" stroke-width="0.7"/>
<polygon points="3740,903.7 3746,901 3752,898.3 3758,895.6 3764.1,892.9 3770.1,890.2 3776.1,887.5 3782.1,884.8 3788.1,882.1 3794.1,879.4 3800.1,876.7 3806.1,874 3812.2,871.3 3818.2,868.6 3824.2,865.9 3830.2,863.2 3836.2,860.5 3842.2,857.8 3848.2,855.1 3854.2,852.4 3860.3,849.6 3866.3,846.9 3872.3,844.2 3878.3,841.5 3884.3,838.8 3890.3,836.1 3896.3,833.4 3902.3,830.7 3908.4,828 3914.4,825.3 3920.4,822.6 3926.4,819.9 3932.4,817.3 3938.4,814.6 3944.4,811.9 3950.4,809.3 3956.5,806.6 3962.5,804 3968.5,801.3 3974.5,798.7 3980.5,796 3986.5,793.4 3992.5,790.8 3998.6,788.2 4004.6,785.7 4010.6,783.1 4016.6,780.6 4022.6,778.1 4028.6,775.5 4034.6,772.9 4040.6,770.3 4046.7,767.7 4052.7,765.1 4058.7,762.6 4064.7,760.1 4070.7,757.7 4076.7,755.3 4082.7,753 4088.7,750.8 4094.8,748.6 4100.8,746.6 4106.8,744.7 4112.8,742.8 4118.8,741 4124.8,739.3 4130.8,737.6 4136.8,736 4142.9,734.5 4148.9,733.1 4154.9,731.8 4160.9,730.5 4166.9,729.2 4172.9,728 4178.9,727.1 4184.9,726.6 4191,726.4 4197,726.2 4203,726 4209,726 4209,755.9 4203,758.1 4197,760.4 4191,762.8 4184.9,765.2 4178.9,767.6 4172.9,770.1 4166.9,772.6 4160.9,775.1 4154.9,777.7 4148.9,780.3 4142.9,782.9 4136.8,785.5 4130.8,788.2 4124.8,790.8 4118.8,793.4 4112.8,796.1 4106.8,798.7 4100.8,801.4 4094.8,804 4088.7,806.7 4082.7,809.4 4076.7,812.1 4070.7,814.8 4064.7,817.5 4058.7,820.2 4052.7,822.9 4046.7,825.6 4040.6,828.4 4034.6,831.1 4028.6,833.8 4022.6,836.5 4016.6,839.2 4010.6,841.9 4004.6,844.7 3998.6,847.4 3992.5,850.2 3986.5,852.9 3980.5,855.7 3974.5,858.5 3968.5,861.2 3962.5,863.9 3956.5,866.6 3950.4,869.3 3944.4,872 3938.4,874.6 3932.4,877.2 3926.4,879.7 3920.4,882.2 3914.4,884.6 3908.4,887.1 3902.3,889.6 3896.3,892 3890.3,894.4 3884.3,896.8 3878.3,899.1 3872.3,901.4 3866.3,903.7 3860.3,905.9 3854.2,908.1 3848.2,910.2 3842.2,912.3 3836.2,914.4 3830.2,916.3 3824.2,918.2 3818.2,920 3812.2,921.7 3806.1,923.5 3800.1,925.2 3794.1,926.9 3788.1,928.6 3782.1,930.4 3776.1,932.2 3770.1,934 3764.1,936 3758,938 3752,940.1 3746,942.4 3740,944.7" fill="#abd1b6" stroke="none" stroke-width="0"/>
<polygon points="4200,716.9 4206.2,717.4 4212.3,717.9 4218.5,718.4 4224.7,718.9 4230.8,719.4 4237,719.9 4243.2,720.4 4249.3,720.9 4255.5,721.4 4261.7,721.9 4267.8,722.4 4274,722.8 4280.2,723.2 4286.3,723.5 4292.5,723.9 4298.7,724.2 4304.8,724.6 4311,724.9 4311,727 4304.8,727.4 4298.7,728.1 4292.5,729 4286.3,730 4280.2,731.3 4274,732.6 4267.8,734 4261.7,735.9 4255.5,738.3 4249.3,740.8 4243.2,743.3 4237,745.6 4230.8,747.9 4224.7,750.1 4218.5,752.4 4212.3,754.7 4206.2,757 4200,759.3" fill="#b7d08a" stroke="none" stroke-width="0"/>
<polygon points="4018,720.5 4024.2,720.2 4030.3,719.9 4036.5,719.6 4042.6,719.2 4048.8,718.9 4055,718.6 4061.1,718.3 4067.3,718 4073.5,717.7 4079.6,717.3 4085.8,717 4091.9,716.7 4098.1,716.4 4104.3,716.2 4110.4,716.1 4116.6,716 4122.7,715.9 4128.9,715.8 4135.1,715.7 4141.2,715.6 4147.4,715.5 4153.5,715.3 4159.7,715.4 4165.9,715.6 4172,715.9 4178.2,716.1 4184.4,716.3 4190.5,716.6 4196.7,716.9 4202.8,717.3 4209,717.6 4209,718 4202.8,718 4196.7,718.2 4190.5,718.4 4184.4,718.6 4178.2,719.2 4172,720.2 4165.9,721.4 4159.7,722.8 4153.5,724.1 4147.4,725.4 4141.2,726.9 4135.1,728.5 4128.9,730.1 4122.7,731.9 4116.6,733.7 4110.4,735.6 4104.3,737.5 4098.1,739.5 4091.9,741.6 4085.8,743.8 4079.6,746.2 4073.5,748.6 4067.3,751 4061.1,753.6 4055,756.2 4048.8,758.8 4042.6,761.4 4036.5,764.1 4030.3,766.8 4024.2,769.4 4018,772" fill="#b7d08a" stroke="none" stroke-width="0"/>
<polygon points="4046.4,767.8 4052.4,765.3 4058.4,762.7 4064.5,760.2 4070.5,757.7 4076.5,755.4 4082.5,753 4088.6,750.8 4094.6,748.7 4100.6,746.7 4106.6,744.8 4112.6,742.9 4118.7,741.1 4124.7,739.3 4130.7,737.6 4136.7,736 4142.8,734.5 4148.8,733.1 4154.8,731.8 4160.8,730.5 4166.8,729.2 4172.9,728 4178.9,727.1 4184.9,726.6 4190.9,726.4 4197,726.2 4203,726 4209,726 4209,741.8 4203,742.2 4197,742.6 4190.9,742.9 4184.9,743.3 4178.9,743.7 4172.9,744.1 4166.8,744.4 4160.8,744.8 4154.8,745.2 4148.8,745.6 4142.8,745.9 4136.7,746.3 4130.7,746.7 4124.7,747.1 4118.7,747.5 4112.6,747.8 4106.6,748.2 4100.6,748.7 4094.6,749.1 4088.6,749.5 4082.5,749.9 4076.5,750.4 4070.5,750.8 4064.5,751.2 4058.4,751.6 4052.4,752.1 4046.4,752.5" fill="#b4dfcf" stroke="none" stroke-width="0"/>
<polyline points="4046.4,752.5 4110,748 4209,741.8" fill="none" stroke="#5a8f80" stroke-width="0.9" stroke-linejoin="round"/>
<polygon points="3740,895.7 3746,893 3752,890.3 3758,887.6 3764,884.9 3770,882.2 3776,879.5 3782,876.8 3788,874.1 3794,871.4 3800,868.7 3806,866 3812,863.3 3818,860.6 3824,857.9 3830,855.3 3836,852.6 3842,849.9 3848,847.2 3854,844.5 3860,841.8 3866,839 3872,836.3 3878,833.6 3884,830.9 3890,828.2 3896,825.5 3902,822.8 3908,820.1 3914,817.5 3920,814.8 3926,812.1 3932,809.5 3938,806.8 3944,804.1 3950,801.5 3956,798.8 3962,796.2 3968,793.5 3974,790.9 3980,788.3 3986,785.7 3992,783.1 3998,780.5 4004,777.9 4010,775.4 4016,772.8 4022,770.3 4028,767.7 4034,765.2 4040,762.6 4046,760 4052,757.4 4058,754.9 4064,752.4 4070,749.9 4076,747.6 4082,745.2 4088,743 4094,740.9 4100,738.9 4106,737 4112,735.1 4118,733.3 4124,731.5 4130,729.8 4136,728.2 4142,726.7 4148,725.3 4154,724 4160,722.7 4166,721.4 4172,720.2 4172,729.2 4166,730.4 4160,731.7 4154,733 4148,734.3 4142,735.7 4136,737.2 4130,738.8 4124,740.5 4118,742.3 4112,744.1 4106,746 4100,747.9 4094,749.9 4088,752 4082,754.2 4076,756.6 4070,758.9 4064,761.4 4058,763.9 4052,766.4 4046,769 4040,771.6 4034,774.2 4028,776.7 4022,779.3 4016,781.8 4010,784.4 4004,786.9 3998,789.5 3992,792.1 3986,794.7 3980,797.3 3974,799.9 3968,802.5 3962,805.2 3956,807.8 3950,810.5 3944,813.1 3938,815.8 3932,818.5 3926,821.1 3920,823.8 3914,826.5 3908,829.1 3902,831.8 3896,834.5 3890,837.2 3884,839.9 3878,842.6 3872,845.3 3866,848 3860,850.8 3854,853.5 3848,856.2 3842,858.9 3836,861.6 3830,864.3 3824,866.9 3818,869.6 3812,872.3 3806,875 3800,877.7 3794,880.4 3788,883.1 3782,885.8 3776,888.5 3770,891.2 3764,893.9 3758,896.6 3752,899.3 3746,902 3740,904.7" fill="#a3a3a3" stroke="#4a4a4a" stroke-width="0.7"/>
<polygon points="4165,721.7 4209,721.7 4209,729.5 4165,729.5" fill="#a3a3a3" stroke="none" stroke-width="0"/>
<polyline points="4165,729.5 4209,729.5 4209,721.7" fill="none" stroke="#4a4a4a" stroke-width="0.7" stroke-linejoin="round"/>
<polyline points="3941,755.2 3949,782.9 4041,782.9 4046.4,752.5 4060.7,750.7" fill="none" stroke="#2f6f6a" stroke-width="0.9" stroke-linejoin="round"/>
<polygon points="3740,853.5 3746,850.8 3752.1,848.1 3758.1,845.4 3764.2,842.6 3770.2,839.9 3776.3,837.2 3782.3,834.5 3788.3,831.8 3794.4,829.1 3800.4,826.4 3806.5,823.7 3812.5,820.9 3818.6,818.2 3824.6,815.5 3830.7,812.8 3836.7,810.1 3842.7,807.4 3848.8,804.7 3854.8,802 3860.9,799.2 3866.9,796.5 3873,793.8 3879,791.1 3885,788.4 3891.1,785.7 3897.1,783 3903.2,780.2 3909.2,777.5 3915.3,774.8 3921.3,772.1 3927.3,769.4 3933.4,766.7 3939.4,764 3945.5,761.5 3951.5,759.2 3957.6,757 3963.6,754.8 3969.7,752.5 3975.7,750.3 3981.7,748 3987.8,745.8 3993.8,743.6 3999.9,741.3 4005.9,739.1 4012,736.8 4018,734.6 4018,772 4012,774.5 4005.9,777.1 3999.9,779.7 3993.8,782.3 3987.8,784.9 3981.7,787.5 3975.7,790.1 3969.7,792.8 3963.6,795.5 3957.6,798.1 3951.5,800.8 3945.5,803.5 3939.4,806.2 3933.4,808.8 3927.3,811.5 3921.3,814.2 3915.3,816.9 3909.2,819.6 3903.2,822.3 3897.1,825 3891.1,827.7 3885,830.5 3879,833.2 3873,835.9 3866.9,838.6 3860.9,841.4 3854.8,844.1 3848.8,846.8 3842.7,849.5 3836.7,852.2 3830.7,855 3824.6,857.7 3818.6,860.4 3812.5,863.1 3806.5,865.8 3800.4,868.5 3794.4,871.2 3788.3,874 3782.3,876.7 3776.3,879.4 3770.2,882.1 3764.2,884.8 3758.1,887.5 3752.1,890.3 3746,893 3740,895.7" fill="#40aea6" stroke="none" stroke-width="0"/>
<polygon points="3740,843.5 3746,840.8 3752.1,838.1 3758.1,835.4 3764.2,832.6 3770.2,829.9 3776.3,827.2 3782.3,824.5 3788.3,821.8 3794.4,819.1 3800.4,816.4 3806.5,813.7 3812.5,810.9 3818.6,808.2 3824.6,805.5 3830.7,802.8 3836.7,800.1 3842.7,797.4 3848.8,794.7 3854.8,792 3860.9,789.2 3866.9,786.5 3873,783.8 3879,781.1 3885,778.4 3891.1,775.7 3897.1,773 3903.2,770.2 3909.2,767.5 3915.3,764.8 3921.3,762.1 3927.3,759.4 3933.4,756.7 3939.4,754 3945.5,751.5 3951.5,749.2 3957.6,747 3963.6,744.8 3969.7,742.5 3975.7,740.3 3981.7,738 3987.8,735.8 3993.8,733.6 3999.9,731.3 4005.9,729.1 4012,726.8 4018,724.6 4018,734.6 4012,736.8 4005.9,739.1 3999.9,741.3 3993.8,743.6 3987.8,745.8 3981.7,748 3975.7,750.3 3969.7,752.5 3963.6,754.8 3957.6,757 3951.5,759.2 3945.5,761.5 3939.4,764 3933.4,766.7 3927.3,769.4 3921.3,772.1 3915.3,774.8 3909.2,777.5 3903.2,780.2 3897.1,783 3891.1,785.7 3885,788.4 3879,791.1 3873,793.8 3866.9,796.5 3860.9,799.2 3854.8,802 3848.8,804.7 3842.7,807.4 3836.7,810.1 3830.7,812.8 3824.6,815.5 3818.6,818.2 3812.5,820.9 3806.5,823.7 3800.4,826.4 3794.4,829.1 3788.3,831.8 3782.3,834.5 3776.3,837.2 3770.2,839.9 3764.2,842.6 3758.1,845.4 3752.1,848.1 3746,850.8 3740,853.5" fill="#a3a3a3" stroke="#4a4a4a" stroke-width="0.7"/>
<rect x="824.6" y="722.3" width="26.2" height="250" fill="#e8ad48" stroke="#555" stroke-width="1.2"/>
<rect x="3714.4" y="749.3" width="25.8" height="244" fill="#e8ad48" stroke="#555" stroke-width="1.2"/>
<polyline points="184.6,738.5 198,738.5 200,731.5 228.5,729.7 290,731.5 354.8,734.2 413,731.3 454,731 490.7,729.7 580,726.4 619,726.2 705.6,727.5 819.7,722.6 824.6,722.3 851.3,731.1 863.4,727.5 888.9,735.2 902.2,700.3 932.6,700.3 941,731.1 949.6,731.8 972.6,717.8 987.2,708.5 1021.2,700.3 1035.7,702 1060,709.3 1094,704 1142.7,704 1150,706 1171.4,708 1212.1,706.8 1218.9,649.1 1228.6,647.2 1247.1,655.9 1276.2,652.4 1317,652.4 1319.9,637.5 1328.6,637.5 1351,698.6 1385,688.5 1403.4,692.4 1435.4,687 1473.3,689.3 1490.8,712.2 1525.7,709.3 1543.2,701.6 1550,705.1 1561.6,712.4 1579.1,716.8 1631.5,721.1 1663.5,729.3 1681,727.5 1716,738.6 1733.4,757 1750.9,761.3 1768.3,753.7 1803.3,747.3 1841.1,746.5 2045,746.5 2111.9,748.2 2161.3,747.3 2228.3,745.3 2260.3,743 2273.4,701.3 2300,690.5 2308.7,644.9 2317,643.9 2325.2,630.3 2331.6,631.3 2343.7,670.1 2363.1,683.7 2377.7,684.7 2431.1,688.5 2513.6,688.5 2535.4,678.8 2598.5,678.8 2620.4,689.5 2637.4,708 2648.5,699.2 2655.3,716.2 2697.1,750.2 2800,749.2 2900,749.5 3000,750.5 3100,749.3 3200,750 3323.8,747.8 3352.9,679.8 3386.9,658.9 3404.9,671.1 3421.8,746.8 3440.3,752.6 3457.3,750.2 3474.3,740.5 3493.7,750.2 3525.2,746.8 3564.1,751.7 3600.5,744.4 3632,753.6 3666,747.8 3700,749.2 3714,749.3 3739.8,758.6 3752.4,761.6 3768,756.7 3787.4,756.1 3808.7,753.4 3834,751.5" fill="none" stroke="#000" stroke-width="1.6" stroke-linejoin="round"/>
<polyline points="4274.8,743.7 4342.7,741.3 4361,736.5 4379,749.8 4391.3,741.3 4439.8,734 4500,730.6 4552.4,729.3 4570,736.7 4591.8,731.5 4674.8,733.7 4762.2,733.7 4779.7,744.6 4814.7,733.7 4849.7,733.7 4867.1,745.5 4873.7,745.5" fill="none" stroke="#000" stroke-width="1.6" stroke-linejoin="round"/>
<polyline points="454,731.6 460,731.6 466,731.7 472,731.9 478,732.1 484,732.3 490,732.6 496.1,733.1 502.1,734 508.1,735.1 514.1,736.5 520.1,738 526.1,739.7 532.1,741.3 538.1,743 544.1,744.8 550.1,746.8 556.1,749 562.1,751.3 568.2,753.7 574.2,756.3 580.2,758.9 586.2,761.5 592.2,764.2 598.2,766.9 604.2,769.6 610.2,772.2 616.2,774.9 622.2,777.4 628.2,780 634.2,782.5 640.2,785.1 646.3,787.7 652.3,790.3 658.3,793 664.3,795.6 670.3,798.3 676.3,801 682.3,803.7 688.3,806.4 694.3,809.1 700.3,811.8 706.3,814.5 712.3,817.2 718.4,819.9 724.4,822.6 730.4,825.4 736.4,828.1 742.4,830.9 748.4,833.6 754.4,836.4 760.4,839.2 766.4,842 772.4,844.8 778.4,847.5 784.4,850.3 790.4,853.1 796.5,855.8 802.5,858.6 808.5,861.3 814.5,864.1 820.5,866.9 826.5,869.6 832.5,872.4 838.5,875.1 844.5,877.9 850.5,880.7 856.5,883.4 862.5,886.2 868.6,888.9 874.6,891.7 880.6,894.5 886.6,897.2 892.6,900 898.6,902.7 904.6,905.5 910.6,908.3 916.6,911 922.6,913.8 928.6,916.5 934.6,919.3 940.6,922 946.7,924.8 952.7,927.6 958.7,930.3 964.7,933.1 970.7,935.8 976.7,938.6 982.7,941.4 988.7,944.1 994.7,946.9 1000.7,949.6 1006.7,952.4 1012.7,955.2 1018.8,957.9 1024.8,960.7 1030.8,963.4 1036.8,966.2 1042.8,968.9 1048.8,971.7 1054.8,974.5 1060.8,977.2 1066.8,980 1072.8,982.7 1078.8,985.5 1084.8,988.3 1090.8,991 1096.9,993.8 1102.9,996.5 1108.9,999.3 1114.9,1002.1 1120.9,1004.8 1126.9,1007.6 1132.9,1010.3 1138.9,1013.1 1144.9,1015.9 1150.9,1018.6 1156.9,1021.4 1162.9,1024.2 1169,1027 1175,1029.8 1181,1032.7 1187,1035.5 1193,1038.3 1199,1041 1205,1043.8 1211,1046.5 1217,1049.2 1223,1051.9 1229,1054.5 1235,1057.1 1241,1059.8 1247.1,1062.6 1253.1,1065.4 1259.1,1068.2 1265.1,1071 1271.1,1073.8 1277.1,1076.5 1283.1,1079 1289.1,1081.5 1295.1,1083.8 1301.1,1085.9 1307.1,1087.8 1313.1,1089.5 1319.2,1090.9 1325.2,1092.2 1331.2,1093.6 1337.2,1094.8 1343.2,1096 1349.2,1097.2 1355.2,1098.3 1361.2,1099.3 1367.2,1100.3 1373.2,1101.2 1379.2,1102 1385.2,1102.7 1391.2,1103.3 1397.3,1103.9 1403.3,1104.3 1409.3,1104.7 1415.3,1105 1421.3,1105.3 1427.3,1105.6 1433.3,1105.8 1439.3,1106.1 1445.3,1106.3 1451.3,1106.5 1457.3,1106.7 1463.3,1106.9 1469.4,1107.1 1475.4,1107.3 1481.4,1107.5 1487.4,1107.7 1493.4,1107.9 1499.4,1108.2 1505.4,1108.4 1511.4,1108.7 1517.4,1108.9 1523.4,1109.1 1529.4,1109.4 1535.4,1109.6 1541.4,1109.9 1547.5,1110.1 1553.5,1110.3 1559.5,1110.6 1565.5,1110.8 1571.5,1111.1 1577.5,1111.3 1583.5,1111.5 1589.5,1111.8 1595.5,1112 1601.5,1112.3 1607.5,1112.5 1613.5,1112.7 1619.6,1113 1625.6,1113.2 1631.6,1113.5 1637.6,1113.7 1643.6,1113.9 1649.6,1114.2 1655.6,1114.4 1661.6,1114.7 1667.6,1114.9 1673.6,1115.1 1679.6,1115.4 1685.6,1115.6 1691.6,1115.8 1697.7,1116.1 1703.7,1116.3 1709.7,1116.6 1715.7,1116.8 1721.7,1117 1727.7,1117.3 1733.7,1117.5 1739.7,1117.8 1745.7,1118 1751.7,1118.2 1757.7,1118.5 1763.7,1118.7 1769.8,1119 1775.8,1119.2 1781.8,1119.4 1787.8,1119.7 1793.8,1119.9 1799.8,1120.2 1805.8,1120.4 1811.8,1120.6 1817.8,1120.9 1823.8,1121.1 1829.8,1121.4 1835.8,1121.6 1841.8,1121.8 1847.9,1122.1 1853.9,1122.3 1859.9,1122.6 1865.9,1122.8 1871.9,1123 1877.9,1123.3 1883.9,1123.5 1889.9,1123.8 1895.9,1124 1901.9,1124.2 1907.9,1124.5 1913.9,1124.7 1920,1125 1926,1125.2 1932,1125.4 1938,1125.7 1944,1125.9 1950,1126.2 1956,1126.4 1962,1126.7 1968,1126.9 1974,1127.2 1980,1127.4 1986,1127.6 1992,1127.9 1998.1,1128.1 2004.1,1128.3 2010.1,1128.6 2016.1,1128.8 2022.1,1129.1 2028.1,1129.3 2034.1,1129.6 2040.1,1129.9 2046.1,1130.2 2052.1,1130.5 2058.1,1130.7 2064.1,1131 2070.2,1131.2 2076.2,1131.4 2082.2,1131.6 2088.2,1131.7 2094.2,1131.8 2100.2,1131.8 2106.2,1131.8 2112.2,1131.8 2118.2,1131.8 2124.2,1131.8 2130.2,1131.8 2136.2,1131.7 2142.2,1131.7 2148.3,1131.7 2154.3,1131.6 2160.3,1131.6 2166.3,1131.6 2172.3,1131.5 2178.3,1131.5 2184.3,1131.4 2190.3,1131.4 2196.3,1131.3 2202.3,1131.1 2208.3,1130.9 2214.3,1130.7 2220.4,1130.5 2226.4,1130.2 2232.4,1130 2238.4,1129.7 2244.4,1129.4 2250.4,1129.1 2256.4,1128.8 2262.4,1128.5 2268.4,1128.2 2274.4,1128 2280.4,1127.8 2286.4,1127.5 2292.4,1127.3 2298.5,1127 2304.5,1126.8 2310.5,1126.6 2316.5,1126.3 2322.5,1126.1 2328.5,1125.8 2334.5,1125.6 2340.5,1125.4 2346.5,1125.1 2352.5,1124.9 2358.5,1124.6 2364.5,1124.4 2370.6,1124.2 2376.6,1123.9 2382.6,1123.7 2388.6,1123.4 2394.6,1123.2 2400.6,1123 2406.6,1122.7 2412.6,1122.5 2418.6,1122.2 2424.6,1122 2430.6,1121.8 2436.6,1121.5 2442.6,1121.3 2448.7,1121 2454.7,1120.8 2460.7,1120.6 2466.7,1120.3 2472.7,1120.1 2478.7,1119.8 2484.7,1119.6 2490.7,1119.4 2496.7,1119.1 2502.7,1118.9 2508.7,1118.6 2514.7,1118.4 2520.8,1118.2 2526.8,1117.9 2532.8,1117.7 2538.8,1117.4 2544.8,1117.2 2550.8,1117 2556.8,1116.7 2562.8,1116.5 2568.8,1116.3 2574.8,1116.1 2580.8,1115.8 2586.8,1115.6 2592.8,1115.4 2598.9,1115.1 2604.9,1114.9 2610.9,1114.6 2616.9,1114.4 2622.9,1114.1 2628.9,1113.8 2634.9,1113.5 2640.9,1113.2 2646.9,1113 2652.9,1112.7 2658.9,1112.4 2664.9,1112.1 2671,1111.7 2677,1111.4 2683,1111.1 2689,1110.7 2695,1110.3 2701,1109.9 2707,1109.4 2713,1109 2719,1108.4 2725,1107.8 2731,1107.2 2737,1106.5 2743,1105.7 2749.1,1104.9 2755.1,1104.1 2761.1,1103.3 2767.1,1102.4 2773.1,1101.5 2779.1,1100.7 2785.1,1099.8 2791.1,1098.9 2797.1,1098 2803.1,1097.2 2809.1,1096.3 2815.1,1095.4 2821.2,1094.4 2827.2,1093.5 2833.2,1092.5 2839.2,1091.5 2845.2,1090.5 2851.2,1089.5 2857.2,1088.5 2863.2,1087.5 2869.2,1086.6 2875.2,1085.6 2881.2,1084.6 2887.2,1083.6 2893.2,1082.7 2899.3,1081.7 2905.3,1080.8 2911.3,1079.8 2917.3,1078.8 2923.3,1077.9 2929.3,1076.9 2935.3,1076 2941.3,1075 2947.3,1074 2953.3,1073.1 2959.3,1072.1 2965.3,1071.2 2971.4,1070.2 2977.4,1069.2 2983.4,1068.3 2989.4,1067.3 2995.4,1066.4 3001.4,1065.4 3007.4,1064.4 3013.4,1063.5 3019.4,1062.5 3025.4,1061.6 3031.4,1060.6 3037.4,1059.7 3043.4,1058.7 3049.5,1057.7 3055.5,1056.8 3061.5,1055.8 3067.5,1054.9 3073.5,1053.9 3079.5,1052.9 3085.5,1052 3091.5,1051 3097.5,1050.1 3103.5,1049.1 3109.5,1048.1 3115.5,1047.2 3121.6,1046.2 3127.6,1045.3 3133.6,1044.3 3139.6,1043.3 3145.6,1042.4 3151.6,1041.4 3157.6,1040.5 3163.6,1039.5 3169.6,1038.5 3175.6,1037.6 3181.6,1036.6 3187.6,1035.7 3193.6,1034.7 3199.7,1033.7 3205.7,1032.8 3211.7,1031.8 3217.7,1030.9 3223.7,1029.9 3229.7,1028.9 3235.7,1028 3241.7,1027 3247.7,1026.1 3253.7,1025.1 3259.7,1024.1 3265.7,1023.2 3271.8,1022.2 3277.8,1021.3 3283.8,1020.3 3289.8,1019.3 3295.8,1018.4 3301.8,1017.4 3307.8,1016.5 3313.8,1015.5 3319.8,1014.5 3325.8,1013.6 3331.8,1012.6 3337.8,1011.7 3343.8,1010.7 3349.9,1009.8 3355.9,1008.8 3361.9,1007.8 3367.9,1006.9 3373.9,1005.9 3379.9,1005 3385.9,1004 3391.9,1003 3397.9,1002.1 3403.9,1001.1 3409.9,1000.2 3415.9,999.2 3422,998.3 3428,997.4 3434,996.5 3440,995.6 3446,994.7 3452,993.8 3458,992.9 3464,991.9 3470,991 3476,989.9 3482,988.9 3488,987.8 3494,986.6 3500.1,985.4 3506.1,984.1 3512.1,982.8 3518.1,981.4 3524.1,980 3530.1,978.6 3536.1,977 3542.1,975.5 3548.1,973.9 3554.1,972.2 3560.1,970.5 3566.1,968.8 3572.2,966.9 3578.2,965.1 3584.2,963.1 3590.2,961.1 3596.2,958.9 3602.2,956.6 3608.2,954.2 3614.2,951.7 3620.2,949.2 3626.2,946.5 3632.2,943.9 3638.2,941.2 3644.2,938.5 3650.3,935.8 3656.3,933.2 3662.3,930.5 3668.3,927.9 3674.3,925.3 3680.3,922.7 3686.3,920 3692.3,917.3 3698.3,914.6 3704.3,911.9 3710.3,909.2 3716.3,906.5 3722.4,903.7 3728.4,901 3734.4,898.3 3740.4,895.5 3746.4,892.8 3752.4,890.1 3758.4,887.4 3764.4,884.7 3770.4,882 3776.4,879.3 3782.4,876.6 3788.4,873.9 3794.4,871.2 3800.5,868.5 3806.5,865.8 3812.5,863.1 3818.5,860.4 3824.5,857.7 3830.5,855 3836.5,852.3 3842.5,849.6 3848.5,846.9 3854.5,844.2 3860.5,841.5 3866.5,838.8 3872.6,836.1 3878.6,833.4 3884.6,830.7 3890.6,828 3896.6,825.3 3902.6,822.6 3908.6,819.9 3914.6,817.2 3920.6,814.5 3926.6,811.8 3932.6,809.2 3938.6,806.5 3944.6,803.8 3950.7,801.2 3956.7,798.5 3962.7,795.9 3968.7,793.2 3974.7,790.6 3980.7,788 3986.7,785.3 3992.7,782.7 3998.7,780.2 4004.7,777.6 4010.7,775.1 4016.7,772.5 4022.8,770 4028.8,767.4 4034.8,764.8 4040.8,762.2 4046.8,759.7 4052.8,757.1 4058.8,754.6 4064.8,752.1 4070.8,749.6 4076.8,747.2 4082.8,744.9 4088.8,742.7 4094.8,740.6 4100.9,738.6 4106.9,736.7 4112.9,734.8 4118.9,733 4124.9,731.3 4130.9,729.6 4136.9,728 4142.9,726.5 4148.9,725.1 4154.9,723.8 4160.9,722.5 4166.9,721.2 4173,720 4179,719.1 4185,718.6 4191,718.4 4197,718.2 4203,718 4209,718" fill="none" stroke="#000" stroke-width="3.2" stroke-linejoin="round"/>
<polyline points="184.6,732.1 190.6,731.3 196.6,730.6 202.6,730.2 208.6,729.9 214.6,729.8 220.6,729.7 226.6,729.7 232.7,730 238.7,731.5 244.7,733.7 250.7,736.2 256.7,738.6 262.7,740.8 268.7,743.2 274.7,745.6 280.7,748.1 286.7,750.7 292.7,753.1 298.7,755.5 304.7,757.7 310.7,760 316.7,762.2 322.7,764.4 328.8,766.7 334.8,768.9 340.8,771.1 346.8,773.3 352.8,775.4 358.8,777.6 364.8,779.8 370.8,782.3 376.8,784.9 382.8,788 388.8,791.2 394.8,793.9 400.8,796.5 406.8,798.7 412.8,800.2 418.8,800.9 424.9,801.4 430.9,801.8 436.9,802.2 442.9,802.5 448.9,802.9 454.9,803.3 460.9,803.8 466.9,804.2 472.9,804.7 478.9,805.2 484.9,805.8 490.9,806.5 496.9,807.5 502.9,808.6 508.9,810 515,811.5 521,813.2 527,814.8 533,816.4 539,818 545,819.7 551,821.4 557,823.1 563,824.9 569,826.8 575,828.6 581,830.5 587,832.4 593,834.4 599,836.3 605,838.3 611.1,840.3 617.1,842.3 623.1,844.3 629.1,846.3 635.1,848.4 641.1,850.5 647.1,852.6 653.1,854.8 659.1,857 665.1,859.2 671.1,861.4 677.1,863.6 683.1,865.8 689.1,868 695.1,870.2 701.2,872.4 707.2,874.6 713.2,876.7 719.2,878.8 725.2,880.9 731.2,883.1 737.2,885.1 743.2,887.2 749.2,889.4 755.2,891.5 761.2,893.6 767.2,895.8 773.2,897.9 779.2,900.1 785.2,902.4 791.2,904.7 797.3,907 803.3,909.4 809.3,911.8 815.3,914.3 821.3,916.8 827.3,919.3 833.3,921.9 839.3,924.5 845.3,927.1 851.3,929.7 857.3,932.3 863.3,935 869.3,937.6 875.3,940.3 881.3,943 887.3,945.6 893.4,948.3 899.4,951 905.4,953.8 911.4,956.5 917.4,959.3 923.4,962.1 929.4,964.9 935.4,967.6 941.4,970.4 947.4,973.2 953.4,976 959.4,978.8 965.4,981.6 971.4,984.3 977.4,987.1 983.5,989.8 989.5,992.6 995.5,995.4 1001.5,998.1 1007.5,1000.9 1013.5,1003.6 1019.5,1006.4 1025.5,1009.2 1031.5,1011.9 1037.5,1014.7 1043.5,1017.4 1049.5,1020.2 1055.5,1022.9 1061.5,1025.7 1067.5,1028.5 1073.5,1031.2 1079.6,1034 1085.6,1036.7 1091.6,1039.5 1097.6,1042.2 1103.6,1045 1109.6,1047.8 1115.6,1050.5 1121.6,1053.3 1127.6,1056 1133.6,1058.8 1139.6,1061.6 1145.6,1064.3 1151.6,1067.1 1157.6,1069.9 1163.6,1072.7 1169.7,1075.5 1175.7,1078.3 1181.7,1081.1 1187.7,1083.9 1193.7,1086.7 1199.7,1089.5 1205.7,1092.2 1211.7,1095 1217.7,1097.7 1223.7,1100.3 1229.7,1102.9 1235.7,1105.6 1241.7,1108.3 1247.7,1111.1 1253.7,1113.9 1259.7,1116.7 1265.8,1119.5 1271.8,1122.2 1277.8,1124.9 1283.8,1127.5 1289.8,1129.9 1295.8,1132.2 1301.8,1134.2 1307.8,1136.1 1313.8,1137.8 1319.8,1139.2 1325.8,1140.5 1331.8,1141.8 1337.8,1143.1 1343.8,1144.3 1349.8,1145.5 1355.8,1146.5 1361.9,1147.6 1367.9,1148.5 1373.9,1149.4 1379.9,1150.2 1385.9,1150.9 1391.9,1151.5 1397.9,1152.1 1403.9,1152.5 1409.9,1152.9 1415.9,1153.2 1421.9,1153.5 1427.9,1153.8 1433.9,1154 1439.9,1154.2 1445.9,1154.5 1452,1154.7 1458,1154.8 1464,1155 1470,1155.2 1476,1155.4 1482,1155.6 1488,1155.9 1494,1156.1 1500,1156.3 1506,1156.6 1512,1156.8 1518,1157.1 1524,1157.3 1530,1157.5 1536,1157.8 1542,1158 1548.1,1158.3 1554.1,1158.5 1560.1,1158.7 1566.1,1159 1572.1,1159.2 1578.1,1159.5 1584.1,1159.7 1590.1,1159.9 1596.1,1160.2 1602.1,1160.4 1608.1,1160.7 1614.1,1160.9 1620.1,1161.1 1626.1,1161.4 1632.1,1161.6 1638.1,1161.9 1644.2,1162.1 1650.2,1162.3 1656.2,1162.6 1662.2,1162.8 1668.2,1163.1 1674.2,1163.3 1680.2,1163.5 1686.2,1163.8 1692.2,1164 1698.2,1164.3 1704.2,1164.5 1710.2,1164.7 1716.2,1165 1722.2,1165.2 1728.2,1165.5 1734.3,1165.7 1740.3,1165.9 1746.3,1166.2 1752.3,1166.4 1758.3,1166.7 1764.3,1166.9 1770.3,1167.1 1776.3,1167.4 1782.3,1167.6 1788.3,1167.9 1794.3,1168.1 1800.3,1168.3 1806.3,1168.6 1812.3,1168.8 1818.3,1169.1 1824.3,1169.3 1830.4,1169.5 1836.4,1169.8 1842.4,1170 1848.4,1170.3 1854.4,1170.5 1860.4,1170.7 1866.4,1171 1872.4,1171.2 1878.4,1171.4 1884.4,1171.7 1890.4,1171.9 1896.4,1172.2 1902.4,1172.4 1908.4,1172.6 1914.4,1172.9 1920.5,1173.1 1926.5,1173.4 1932.5,1173.6 1938.5,1173.9 1944.5,1174.1 1950.5,1174.3 1956.5,1174.6 1962.5,1174.8 1968.5,1175.1 1974.5,1175.3 1980.5,1175.6 1986.5,1175.8 1992.5,1176 1998.5,1176.3 2004.5,1176.5 2010.5,1176.7 2016.6,1177 2022.6,1177.2 2028.6,1177.5 2034.6,1177.8 2040.6,1178.1 2046.6,1178.3 2052.6,1178.6 2058.6,1178.9 2064.6,1179.1 2070.6,1179.4 2076.6,1179.6 2082.6,1179.7 2088.6,1179.9 2094.6,1179.9 2100.6,1180 2106.6,1180 2112.7,1180 2118.7,1179.9 2124.7,1179.9 2130.7,1179.9 2136.7,1179.9 2142.7,1179.8 2148.7,1179.8 2154.7,1179.8 2160.7,1179.7 2166.7,1179.7 2172.7,1179.7 2178.7,1179.6 2184.7,1179.6 2190.7,1179.5 2196.7,1179.4 2202.8,1179.2 2208.8,1179.1 2214.8,1178.9 2220.8,1178.6 2226.8,1178.4 2232.8,1178.1 2238.8,1177.8 2244.8,1177.5 2250.8,1177.2 2256.8,1176.9 2262.8,1176.6 2268.8,1176.4 2274.8,1176.1 2280.8,1175.9 2286.8,1175.6 2292.8,1175.4 2298.9,1175.2 2304.9,1174.9 2310.9,1174.7 2316.9,1174.4 2322.9,1174.2 2328.9,1174 2334.9,1173.7 2340.9,1173.5 2346.9,1173.2 2352.9,1173 2358.9,1172.8 2364.9,1172.5 2370.9,1172.3 2376.9,1172 2382.9,1171.8 2389,1171.6 2395,1171.3 2401,1171.1 2407,1170.8 2413,1170.6 2419,1170.4 2425,1170.1 2431,1169.9 2437,1169.6 2443,1169.4 2449,1169.2 2455,1168.9 2461,1168.7 2467,1168.4 2473,1168.2 2479,1168 2485.1,1167.7 2491.1,1167.5 2497.1,1167.2 2503.1,1167 2509.1,1166.8 2515.1,1166.5 2521.1,1166.3 2527.1,1166 2533.1,1165.8 2539.1,1165.6 2545.1,1165.3 2551.1,1165.1 2557.1,1164.9 2563.1,1164.6 2569.1,1164.4 2575.1,1164.2 2581.2,1164 2587.2,1163.7 2593.2,1163.5 2599.2,1163.3 2605.2,1163 2611.2,1162.7 2617.2,1162.5 2623.2,1162.2 2629.2,1161.9 2635.2,1161.7 2641.2,1161.4 2647.2,1161.1 2653.2,1160.8 2659.2,1160.5 2665.2,1160.2 2671.3,1159.9 2677.3,1159.5 2683.3,1159.2 2689.3,1158.8 2695.3,1158.4 2701.3,1158 2707.3,1157.6 2713.3,1157.1 2719.3,1156.5 2725.3,1155.9 2731.3,1155.3 2737.3,1154.6 2743.3,1153.8 2749.3,1153 2755.3,1152.2 2761.3,1151.4 2767.4,1150.5 2773.4,1149.6 2779.4,1148.8 2785.4,1147.9 2791.4,1147 2797.4,1146.1 2803.4,1145.3 2809.4,1144.4 2815.4,1143.5 2821.4,1142.5 2827.4,1141.6 2833.4,1140.6 2839.4,1139.6 2845.4,1138.6 2851.4,1137.6 2857.5,1136.6 2863.5,1135.6 2869.5,1134.7 2875.5,1133.7 2881.5,1132.7 2887.5,1131.7 2893.5,1130.8 2899.5,1129.8 2905.5,1128.9 2911.5,1127.9 2917.5,1126.9 2923.5,1126 2929.5,1125 2935.5,1124.1 2941.5,1123.1 2947.5,1122.2 2953.6,1121.2 2959.6,1120.2 2965.6,1119.3 2971.6,1118.3 2977.6,1117.4 2983.6,1116.4 2989.6,1115.4 2995.6,1114.5 3001.6,1113.5 3007.6,1112.6 3013.6,1111.6 3019.6,1110.6 3025.6,1109.7 3031.6,1108.7 3037.6,1107.8 3043.6,1106.8 3049.7,1105.8 3055.7,1104.9 3061.7,1103.9 3067.7,1103 3073.7,1102 3079.7,1101 3085.7,1100.1 3091.7,1099.1 3097.7,1098.2 3103.7,1097.2 3109.7,1096.2 3115.7,1095.3 3121.7,1094.3 3127.7,1093.4 3133.7,1092.4 3139.8,1091.5 3145.8,1090.5 3151.8,1089.5 3157.8,1088.6 3163.8,1087.6 3169.8,1086.7 3175.8,1085.7 3181.8,1084.7 3187.8,1083.8 3193.8,1082.8 3199.8,1081.9 3205.8,1080.9 3211.8,1079.9 3217.8,1079 3223.8,1078 3229.8,1077.1 3235.9,1076.1 3241.9,1075.1 3247.9,1074.2 3253.9,1073.2 3259.9,1072.3 3265.9,1071.3 3271.9,1070.3 3277.9,1069.4 3283.9,1068.4 3289.9,1067.5 3295.9,1066.5 3301.9,1065.5 3307.9,1064.6 3313.9,1063.6 3319.9,1062.7 3325.9,1061.7 3332,1060.8 3338,1059.8 3344,1058.8 3350,1057.9 3356,1056.9 3362,1056 3368,1055 3374,1054 3380,1053.1 3386,1052.1 3392,1051.2 3398,1050.2 3404,1049.2 3410,1048.3 3416,1047.4 3422.1,1046.4 3428.1,1045.5 3434.1,1044.6 3440.1,1043.8 3446.1,1042.9 3452.1,1041.9 3458.1,1041 3464.1,1040.1 3470.1,1039.1 3476.1,1038.1 3482.1,1037 3488.1,1035.9 3494.1,1034.7 3500.1,1033.5 3506.1,1032.2 3512.1,1030.9 3518.2,1029.6 3524.2,1028.1 3530.2,1026.7 3536.2,1025.2 3542.2,1023.6 3548.2,1022 3554.2,1020.3 3560.2,1018.6 3566.2,1016.9 3572.2,1015.1 3578.2,1013.2 3584.2,1011.3 3590.2,1009.2 3596.2,1007 3602.2,1004.7 3608.3,1002.2 3614.3,999.7 3620.3,997.2 3626.3,994.6 3632.3,991.9 3638.3,989.2 3644.3,986.5 3650.3,983.9 3656.3,981.2 3662.3,978.6 3668.3,976.1 3674.3,973.5 3680.3,970.9 3686.3,968.2 3692.3,965.5 3698.3,962.8 3704.4,960.1 3710.4,957.4 3716.4,954.7 3722.4,952.1 3728.4,949.5 3734.4,947 3740.4,944.6 3746.4,942.2 3752.4,940 3758.4,937.9 3764.4,935.9 3770.4,933.9 3776.4,932.1 3782.4,930.3 3788.4,928.5 3794.4,926.8 3800.5,925.1 3806.5,923.4 3812.5,921.6 3818.5,919.9 3824.5,918.1 3830.5,916.2 3836.5,914.3 3842.5,912.2 3848.5,910.2 3854.5,908 3860.5,905.8 3866.5,903.6 3872.5,901.3 3878.5,899 3884.5,896.7 3890.6,894.3 3896.6,891.9 3902.6,889.5 3908.6,887 3914.6,884.6 3920.6,882.1 3926.6,879.6 3932.6,877.1 3938.6,874.5 3944.6,871.9 3950.6,869.3 3956.6,866.6 3962.6,863.9 3968.6,861.1 3974.6,858.4 3980.6,855.6 3986.7,852.9 3992.7,850.1 3998.7,847.4 4004.7,844.6 4010.7,841.9 4016.7,839.2 4022.7,836.5 4028.7,833.8 4034.7,831 4040.7,828.3 4046.7,825.6 4052.7,822.9 4058.7,820.2 4064.7,817.5 4070.7,814.7 4076.8,812.1 4082.8,809.4 4088.8,806.7 4094.8,804 4100.8,801.4 4106.8,798.7 4112.8,796.1 4118.8,793.5 4124.8,790.8 4130.8,788.2 4136.8,785.5 4142.8,782.9 4148.8,780.3 4154.8,777.7 4160.8,775.2 4166.8,772.6 4172.9,770.1 4178.9,767.7 4184.9,765.2 4190.9,762.8 4196.9,760.5 4202.9,758.2 4208.9,755.9 4214.9,753.7 4220.9,751.5 4226.9,749.3 4232.9,747.1 4238.9,744.9 4244.9,742.6 4250.9,740.1 4256.9,737.7 4262.9,735.5 4269,733.7 4275,732.4 4281,731.1 4287,729.9 4293,728.9 4299,728 4305,727.4 4311,727" fill="none" stroke="#000" stroke-width="3.2" stroke-linejoin="round"/>
<polyline points="3740,730.9 3900,726 4018,720.5 4100,716.3 4155.8,715.3 4185,716.3 4209,717.6" fill="none" stroke="#000" stroke-width="3.2" stroke-linejoin="round"/>
<polyline points="4209,717.6 4215,718.2 4221.1,718.7 4227.1,719.2 4233.2,719.8 4239.2,720.3 4245.3,720.8 4251.3,721.2 4257.3,721.7 4263.4,722.1 4269.4,722.6 4275.5,723 4281.5,723.3 4287.6,723.6 4293.6,723.9 4299.6,724.2 4305.7,724.5 4311.7,724.8 4317.8,725.1 4323.8,725.5 4329.9,725.8 4335.9,726.2 4341.9,726.6 4348,727.2 4354,727.9 4360.1,728.6 4366.1,729.1 4372.2,729.5 4378.2,729.8 4384.2,730.1 4390.3,730.3 4396.3,730.6 4402.4,730.7 4408.4,730.9 4414.5,730.9 4420.5,730.9 4426.5,730.9 4432.6,730.8 4438.6,730.7 4444.7,730.6 4450.7,730.5 4456.8,730.4 4462.8,730.3 4468.8,730.1 4474.9,729.9 4480.9,729.8 4487,729.6 4493,729.4 4499.1,729.2 4505.1,729 4511.1,728.8 4517.2,728.5 4523.2,728.2 4529.3,727.9 4535.3,727.5 4541.4,727.1 4547.4,726.6 4553.4,726.1 4559.5,725.6 4565.5,725.1 4571.6,724.5 4577.6,723.9 4583.6,723.2 4589.7,722.3 4595.7,721.4 4601.8,720.4 4607.8,718.8 4613.9,717 4619.9,714.9 4625.9,712.6 4632,710.2 4638,707.8 4644.1,705.4 4650.1,702.8 4656.2,700.3 4662.2,697.6 4668.2,695 4674.3,692.4 4680.3,689.8 4686.4,687.2 4692.4,684.5 4698.5,681.9 4704.5,679.3 4710.5,676.9 4716.6,674.5 4722.6,672.3 4728.7,670.2 4734.7,668.1 4740.8,666.1 4746.8,664.1 4752.8,662.2 4758.9,660.3 4764.9,658.5 4771,656.7 4777,654.9 4783.1,653.1 4789.1,651.3 4795.1,649.5 4801.2,647.7 4807.2,646 4813.3,644.2 4819.3,642.6 4825.4,641 4831.4,639.5 4837.4,638.2 4843.5,637 4849.5,635.9 4855.6,634.9 4861.6,633.9 4867.7,633.1 4873.7,632.3" fill="none" stroke="#000" stroke-width="3.2" stroke-linejoin="round"/>
<line x1="184.6" y1="434" x2="184.6" y2="1303.4" stroke="#3a3a3a" stroke-width="2.6"/>
<rect x="74.6" y="1303.4" width="4835.9" height="289.1" fill="none" stroke="#555" stroke-width="1.3"/>
<line x1="185.2" y1="1303.4" x2="185.2" y2="1592.5" stroke="#555" stroke-width="1.3"/>
<line x1="74.6" y1="1367.7" x2="4910.5" y2="1367.7" stroke="#666" stroke-width="1.2"/>
<line x1="74.6" y1="1432.5" x2="4910.5" y2="1432.5" stroke="#666" stroke-width="1.2"/>
<line x1="74.6" y1="1512.3" x2="4910.5" y2="1512.3" stroke="#666" stroke-width="1.2"/>
<line x1="185.2" y1="1472.5" x2="4910.5" y2="1472.5" stroke="#777" stroke-width="1.0"/>
<line x1="185.2" y1="1472.5" x2="4414" y2="1472.5" stroke="#333" stroke-width="1.2"/>
<text x="110" y="1330.7" font-size="22" textLength="44.1" lengthAdjust="spacingAndGlyphs" fill="#000" xml:space="preserve">上 层</text>
<text x="110.1" y="1394.9" font-size="21.1" textLength="44" lengthAdjust="spacingAndGlyphs" fill="#000" xml:space="preserve">下 层</text>
<text x="77.5" y="1360.8" font-size="22.9" textLength="96" lengthAdjust="spacingAndGlyphs" fill="#000" xml:space="preserve">设 计 高 程</text>
<text x="77.5" y="1424.9" font-size="23" textLength="96" lengthAdjust="spacingAndGlyphs" fill="#000" xml:space="preserve">设 计 高 程</text>
<text x="106.6" y="1467.7" font-size="19.7" textLength="35.7" lengthAdjust="spacingAndGlyphs" fill="#000" xml:space="preserve">直线</text>
<text x="89.4" y="1497.1" font-size="22.2" textLength="69.3" lengthAdjust="spacingAndGlyphs" fill="#000" xml:space="preserve">及平曲线</text>
<text x="111.6" y="1562" font-size="20.9" textLength="44.4" lengthAdjust="spacingAndGlyphs" fill="#000" xml:space="preserve">桩 号</text>
<text transform="translate(486.4,1362.5) rotate(-90)" font-size="23.6" textLength="44.1" lengthAdjust="spacingAndGlyphs" fill="#000" xml:space="preserve">25.75</text>
<text transform="translate(541.6,1362.5) rotate(-90)" font-size="23.6" textLength="44.1" lengthAdjust="spacingAndGlyphs" fill="#000" xml:space="preserve">24.61</text>
<text transform="translate(628.7,1362.5) rotate(-90)" font-size="23.6" textLength="44.1" lengthAdjust="spacingAndGlyphs" fill="#000" xml:space="preserve">20.58</text>
<text transform="translate(715.8,1362.5) rotate(-90)" font-size="23.6" textLength="44.1" lengthAdjust="spacingAndGlyphs" fill="#000" xml:space="preserve">16.17</text>
<text transform="translate(802.8,1362.5) rotate(-90)" font-size="23.6" textLength="44.1" lengthAdjust="spacingAndGlyphs" fill="#000" xml:space="preserve">11.57</text>
<text transform="translate(889.9,1358.2) rotate(-90)" font-size="23.6" textLength="35.7" lengthAdjust="spacingAndGlyphs" fill="#000" xml:space="preserve">6.97</text>
<text transform="translate(976.9,1358.2) rotate(-90)" font-size="23.6" textLength="35.7" lengthAdjust="spacingAndGlyphs" fill="#000" xml:space="preserve">2.37</text>
<text transform="translate(1064,1362.5) rotate(-90)" font-size="23.6" textLength="44.1" lengthAdjust="spacingAndGlyphs" fill="#000" xml:space="preserve">-2.23</text>
<text transform="translate(1151,1362.5) rotate(-90)" font-size="23.6" textLength="44.1" lengthAdjust="spacingAndGlyphs" fill="#000" xml:space="preserve">-6.83</text>
<text transform="translate(1238.1,1366.7) rotate(-90)" font-size="23.6" textLength="52.6" lengthAdjust="spacingAndGlyphs" fill="#000" xml:space="preserve">-11.43</text>
<text transform="translate(1325.1,1366.7) rotate(-90)" font-size="23.6" textLength="52.6" lengthAdjust="spacingAndGlyphs" fill="#000" xml:space="preserve">-15.52</text>
<text transform="translate(1412.2,1366.7) rotate(-90)" font-size="23.6" textLength="52.6" lengthAdjust="spacingAndGlyphs" fill="#000" xml:space="preserve">-17.13</text>
<text transform="translate(1499.2,1366.7) rotate(-90)" font-size="23.6" textLength="52.6" lengthAdjust="spacingAndGlyphs" fill="#000" xml:space="preserve">-17.53</text>
<text transform="translate(1586.2,1366.7) rotate(-90)" font-size="23.6" textLength="52.6" lengthAdjust="spacingAndGlyphs" fill="#000" xml:space="preserve">-17.93</text>
<text transform="translate(1673.3,1366.7) rotate(-90)" font-size="23.6" textLength="52.6" lengthAdjust="spacingAndGlyphs" fill="#000" xml:space="preserve">-18.33</text>
<text transform="translate(1760.3,1366.7) rotate(-90)" font-size="23.6" textLength="52.6" lengthAdjust="spacingAndGlyphs" fill="#000" xml:space="preserve">-18.73</text>
<text transform="translate(1847.4,1366.7) rotate(-90)" font-size="23.6" textLength="52.6" lengthAdjust="spacingAndGlyphs" fill="#000" xml:space="preserve">-19.13</text>
<text transform="translate(1934.5,1366.7) rotate(-90)" font-size="23.6" textLength="52.6" lengthAdjust="spacingAndGlyphs" fill="#000" xml:space="preserve">-19.53</text>
<text transform="translate(2021.5,1366.7) rotate(-90)" font-size="23.6" textLength="52.6" lengthAdjust="spacingAndGlyphs" fill="#000" xml:space="preserve">-19.93</text>
<text transform="translate(2108.6,1366.7) rotate(-90)" font-size="23.6" textLength="52.6" lengthAdjust="spacingAndGlyphs" fill="#000" xml:space="preserve">-20.29</text>
<text transform="translate(2195.6,1366.7) rotate(-90)" font-size="23.6" textLength="52.6" lengthAdjust="spacingAndGlyphs" fill="#000" xml:space="preserve">-20.24</text>
<text transform="translate(2282.7,1366.7) rotate(-90)" font-size="23.6" textLength="52.6" lengthAdjust="spacingAndGlyphs" fill="#000" xml:space="preserve">-19.85</text>
<text transform="translate(2369.7,1366.7) rotate(-90)" font-size="23.6" textLength="52.6" lengthAdjust="spacingAndGlyphs" fill="#000" xml:space="preserve">-19.45</text>
<text transform="translate(2456.8,1366.7) rotate(-90)" font-size="23.6" textLength="52.6" lengthAdjust="spacingAndGlyphs" fill="#000" xml:space="preserve">-19.05</text>
<text transform="translate(2543.8,1366.7) rotate(-90)" font-size="23.6" textLength="52.6" lengthAdjust="spacingAndGlyphs" fill="#000" xml:space="preserve">-18.65</text>
<text transform="translate(2630.9,1366.7) rotate(-90)" font-size="23.6" textLength="52.6" lengthAdjust="spacingAndGlyphs" fill="#000" xml:space="preserve">-18.25</text>
<text transform="translate(2717.9,1366.7) rotate(-90)" font-size="23.6" textLength="52.6" lengthAdjust="spacingAndGlyphs" fill="#000" xml:space="preserve">-17.69</text>
<text transform="translate(2805,1366.7) rotate(-90)" font-size="23.6" textLength="52.6" lengthAdjust="spacingAndGlyphs" fill="#000" xml:space="preserve">-16.41</text>
<text transform="translate(2892,1366.7) rotate(-90)" font-size="23.6" textLength="52.6" lengthAdjust="spacingAndGlyphs" fill="#000" xml:space="preserve">-14.81</text>
<text transform="translate(2979.1,1366.7) rotate(-90)" font-size="23.6" textLength="52.6" lengthAdjust="spacingAndGlyphs" fill="#000" xml:space="preserve">-13.21</text>
<text transform="translate(3066.1,1366.7) rotate(-90)" font-size="23.6" textLength="52.6" lengthAdjust="spacingAndGlyphs" fill="#000" xml:space="preserve">-11.61</text>
<text transform="translate(3153.2,1366.7) rotate(-90)" font-size="23.6" textLength="52.6" lengthAdjust="spacingAndGlyphs" fill="#000" xml:space="preserve">-10.01</text>
<text transform="translate(3240.2,1362.5) rotate(-90)" font-size="23.6" textLength="44.1" lengthAdjust="spacingAndGlyphs" fill="#000" xml:space="preserve">-8.41</text>
<text transform="translate(3327.3,1362.5) rotate(-90)" font-size="23.6" textLength="44.1" lengthAdjust="spacingAndGlyphs" fill="#000" xml:space="preserve">-6.81</text>
<text transform="translate(3414.3,1362.5) rotate(-90)" font-size="23.6" textLength="44.1" lengthAdjust="spacingAndGlyphs" fill="#000" xml:space="preserve">-5.21</text>
<text transform="translate(3501.4,1358.2) rotate(-90)" font-size="23.6" textLength="35.7" lengthAdjust="spacingAndGlyphs" fill="#000" xml:space="preserve">-3.6</text>
<text transform="translate(3588.4,1362.5) rotate(-90)" font-size="23.6" textLength="44.1" lengthAdjust="spacingAndGlyphs" fill="#000" xml:space="preserve">-1.03</text>
<text transform="translate(3675.5,1358.2) rotate(-90)" font-size="23.6" textLength="35.7" lengthAdjust="spacingAndGlyphs" fill="#000" xml:space="preserve">3.12</text>
<text transform="translate(3762.5,1358.2) rotate(-90)" font-size="23.6" textLength="35.7" lengthAdjust="spacingAndGlyphs" fill="#000" xml:space="preserve">7.62</text>
<text transform="translate(3849.6,1362.5) rotate(-90)" font-size="23.6" textLength="44.1" lengthAdjust="spacingAndGlyphs" fill="#000" xml:space="preserve">12.12</text>
<text transform="translate(3936.6,1362.5) rotate(-90)" font-size="23.6" textLength="44.1" lengthAdjust="spacingAndGlyphs" fill="#000" xml:space="preserve">16.62</text>
<text transform="translate(4023.7,1362.5) rotate(-90)" font-size="23.6" textLength="44.1" lengthAdjust="spacingAndGlyphs" fill="#000" xml:space="preserve">20.99</text>
<text transform="translate(4110.7,1362.5) rotate(-90)" font-size="23.6" textLength="44.1" lengthAdjust="spacingAndGlyphs" fill="#000" xml:space="preserve">25.02</text>
<text transform="translate(4196.2,1358.2) rotate(-90)" font-size="23.6" textLength="35.7" lengthAdjust="spacingAndGlyphs" fill="#000" xml:space="preserve">27.2</text>
<text transform="translate(4215.2,1362.5) rotate(-90)" font-size="23.6" textLength="44.1" lengthAdjust="spacingAndGlyphs" fill="#000" xml:space="preserve">27.16</text>
<text transform="translate(4282.2,1362.5) rotate(-90)" font-size="23.6" textLength="44.1" lengthAdjust="spacingAndGlyphs" fill="#000" xml:space="preserve">26.68</text>
<text transform="translate(4347.8,1362.5) rotate(-90)" font-size="23.6" textLength="44.1" lengthAdjust="spacingAndGlyphs" fill="#000" xml:space="preserve">26.21</text>
<text transform="translate(4370.2,1362.5) rotate(-90)" font-size="23.6" textLength="44.1" lengthAdjust="spacingAndGlyphs" fill="#000" xml:space="preserve">26.06</text>
<text transform="translate(4457.2,1362.5) rotate(-90)" font-size="23.6" textLength="44.1" lengthAdjust="spacingAndGlyphs" fill="#000" xml:space="preserve">25.97</text>
<text transform="translate(4544.9,1362.5) rotate(-90)" font-size="23.6" textLength="44.1" lengthAdjust="spacingAndGlyphs" fill="#000" xml:space="preserve">26.24</text>
<text transform="translate(4632.2,1362.5) rotate(-90)" font-size="23.6" textLength="44.1" lengthAdjust="spacingAndGlyphs" fill="#000" xml:space="preserve">27.59</text>
<text transform="translate(4717.9,1362.5) rotate(-90)" font-size="23.6" textLength="44.1" lengthAdjust="spacingAndGlyphs" fill="#000" xml:space="preserve">31.35</text>
<text transform="translate(4804.9,1362.5) rotate(-90)" font-size="23.6" textLength="44.1" lengthAdjust="spacingAndGlyphs" fill="#000" xml:space="preserve">35.07</text>
<text transform="translate(4880.9,1362.5) rotate(-90)" font-size="23.6" textLength="44.1" lengthAdjust="spacingAndGlyphs" fill="#000" xml:space="preserve">37.16</text>
<text transform="translate(205.2,1421.2) rotate(-90)" font-size="23.6" textLength="44.1" lengthAdjust="spacingAndGlyphs" fill="#000" xml:space="preserve">25.89</text>
<text transform="translate(279.6,1421.2) rotate(-90)" font-size="23.6" textLength="44.1" lengthAdjust="spacingAndGlyphs" fill="#000" xml:space="preserve">24.14</text>
<text transform="translate(365.4,1421.2) rotate(-90)" font-size="23.6" textLength="44.1" lengthAdjust="spacingAndGlyphs" fill="#000" xml:space="preserve">20.14</text>
<text transform="translate(443.6,1416.9) rotate(-90)" font-size="23.6" textLength="35.7" lengthAdjust="spacingAndGlyphs" fill="#000" xml:space="preserve">17.6</text>
<text transform="translate(461.9,1421.2) rotate(-90)" font-size="23.6" textLength="44.1" lengthAdjust="spacingAndGlyphs" fill="#000" xml:space="preserve">17.39</text>
<text transform="translate(541.6,1421.2) rotate(-90)" font-size="23.6" textLength="44.1" lengthAdjust="spacingAndGlyphs" fill="#000" xml:space="preserve">15.99</text>
<text transform="translate(628.7,1416.9) rotate(-90)" font-size="23.6" textLength="35.7" lengthAdjust="spacingAndGlyphs" fill="#000" xml:space="preserve">12.9</text>
<text transform="translate(715.8,1412.7) rotate(-90)" font-size="23.6" textLength="27.2" lengthAdjust="spacingAndGlyphs" fill="#000" xml:space="preserve">9.3</text>
<text transform="translate(802.8,1412.7) rotate(-90)" font-size="23.6" textLength="27.2" lengthAdjust="spacingAndGlyphs" fill="#000" xml:space="preserve">5.7</text>
<text transform="translate(889.9,1416.9) rotate(-90)" font-size="23.6" textLength="35.7" lengthAdjust="spacingAndGlyphs" fill="#000" xml:space="preserve">1.43</text>
<text transform="translate(976.9,1421.2) rotate(-90)" font-size="23.6" textLength="44.1" lengthAdjust="spacingAndGlyphs" fill="#000" xml:space="preserve">-3.17</text>
<text transform="translate(1064,1421.2) rotate(-90)" font-size="23.6" textLength="44.1" lengthAdjust="spacingAndGlyphs" fill="#000" xml:space="preserve">-7.77</text>
<text transform="translate(1151,1425.4) rotate(-90)" font-size="23.6" textLength="52.6" lengthAdjust="spacingAndGlyphs" fill="#000" xml:space="preserve">-12.37</text>
<text transform="translate(1238.1,1425.4) rotate(-90)" font-size="23.6" textLength="52.6" lengthAdjust="spacingAndGlyphs" fill="#000" xml:space="preserve">-16.97</text>
<text transform="translate(1325.1,1425.4) rotate(-90)" font-size="23.6" textLength="52.6" lengthAdjust="spacingAndGlyphs" fill="#000" xml:space="preserve">-21.06</text>
<text transform="translate(1412.2,1425.4) rotate(-90)" font-size="23.6" textLength="52.6" lengthAdjust="spacingAndGlyphs" fill="#000" xml:space="preserve">-22.67</text>
<text transform="translate(1499.2,1425.4) rotate(-90)" font-size="23.6" textLength="52.6" lengthAdjust="spacingAndGlyphs" fill="#000" xml:space="preserve">-23.07</text>
<text transform="translate(1586.2,1425.4) rotate(-90)" font-size="23.6" textLength="52.6" lengthAdjust="spacingAndGlyphs" fill="#000" xml:space="preserve">-23.47</text>
<text transform="translate(1673.3,1425.4) rotate(-90)" font-size="23.6" textLength="52.6" lengthAdjust="spacingAndGlyphs" fill="#000" xml:space="preserve">-23.87</text>
<text transform="translate(1760.3,1425.4) rotate(-90)" font-size="23.6" textLength="52.6" lengthAdjust="spacingAndGlyphs" fill="#000" xml:space="preserve">-24.27</text>
<text transform="translate(1847.4,1425.4) rotate(-90)" font-size="23.6" textLength="52.6" lengthAdjust="spacingAndGlyphs" fill="#000" xml:space="preserve">-24.67</text>
<text transform="translate(1934.5,1425.4) rotate(-90)" font-size="23.6" textLength="52.6" lengthAdjust="spacingAndGlyphs" fill="#000" xml:space="preserve">-25.07</text>
<text transform="translate(2021.5,1425.4) rotate(-90)" font-size="23.6" textLength="52.6" lengthAdjust="spacingAndGlyphs" fill="#000" xml:space="preserve">-25.47</text>
<text transform="translate(2108.6,1425.4) rotate(-90)" font-size="23.6" textLength="52.6" lengthAdjust="spacingAndGlyphs" fill="#000" xml:space="preserve">-25.83</text>
<text transform="translate(2195.6,1425.4) rotate(-90)" font-size="23.6" textLength="52.6" lengthAdjust="spacingAndGlyphs" fill="#000" xml:space="preserve">-25.78</text>
<text transform="translate(2282.7,1425.4) rotate(-90)" font-size="23.6" textLength="52.6" lengthAdjust="spacingAndGlyphs" fill="#000" xml:space="preserve">-25.39</text>
<text transform="translate(2369.7,1425.4) rotate(-90)" font-size="23.6" textLength="52.6" lengthAdjust="spacingAndGlyphs" fill="#000" xml:space="preserve">-24.99</text>
<text transform="translate(2456.8,1425.4) rotate(-90)" font-size="23.6" textLength="52.6" lengthAdjust="spacingAndGlyphs" fill="#000" xml:space="preserve">-24.59</text>
<text transform="translate(2543.8,1425.4) rotate(-90)" font-size="23.6" textLength="52.6" lengthAdjust="spacingAndGlyphs" fill="#000" xml:space="preserve">-24.19</text>
<text transform="translate(2630.9,1425.4) rotate(-90)" font-size="23.6" textLength="52.6" lengthAdjust="spacingAndGlyphs" fill="#000" xml:space="preserve">-23.79</text>
<text transform="translate(2717.9,1425.4) rotate(-90)" font-size="23.6" textLength="52.6" lengthAdjust="spacingAndGlyphs" fill="#000" xml:space="preserve">-23.23</text>
<text transform="translate(2805,1425.4) rotate(-90)" font-size="23.6" textLength="52.6" lengthAdjust="spacingAndGlyphs" fill="#000" xml:space="preserve">-21.95</text>
<text transform="translate(2892,1425.4) rotate(-90)" font-size="23.6" textLength="52.6" lengthAdjust="spacingAndGlyphs" fill="#000" xml:space="preserve">-20.35</text>
<text transform="translate(2979.1,1425.4) rotate(-90)" font-size="23.6" textLength="52.6" lengthAdjust="spacingAndGlyphs" fill="#000" xml:space="preserve">-18.75</text>
<text transform="translate(3066.1,1425.4) rotate(-90)" font-size="23.6" textLength="52.6" lengthAdjust="spacingAndGlyphs" fill="#000" xml:space="preserve">-17.15</text>
<text transform="translate(3153.2,1425.4) rotate(-90)" font-size="23.6" textLength="52.6" lengthAdjust="spacingAndGlyphs" fill="#000" xml:space="preserve">-15.55</text>
<text transform="translate(3240.2,1425.4) rotate(-90)" font-size="23.6" textLength="52.6" lengthAdjust="spacingAndGlyphs" fill="#000" xml:space="preserve">-13.95</text>
<text transform="translate(3327.3,1425.4) rotate(-90)" font-size="23.6" textLength="52.6" lengthAdjust="spacingAndGlyphs" fill="#000" xml:space="preserve">-12.35</text>
<text transform="translate(3414.3,1425.4) rotate(-90)" font-size="23.6" textLength="52.6" lengthAdjust="spacingAndGlyphs" fill="#000" xml:space="preserve">-10.75</text>
<text transform="translate(3501.4,1421.2) rotate(-90)" font-size="23.6" textLength="44.1" lengthAdjust="spacingAndGlyphs" fill="#000" xml:space="preserve">-9.14</text>
<text transform="translate(3588.4,1421.2) rotate(-90)" font-size="23.6" textLength="44.1" lengthAdjust="spacingAndGlyphs" fill="#000" xml:space="preserve">-6.57</text>
<text transform="translate(3675.5,1421.2) rotate(-90)" font-size="23.6" textLength="44.1" lengthAdjust="spacingAndGlyphs" fill="#000" xml:space="preserve">-2.42</text>
<text transform="translate(3762.5,1416.9) rotate(-90)" font-size="23.6" textLength="35.7" lengthAdjust="spacingAndGlyphs" fill="#000" xml:space="preserve">1.86</text>
<text transform="translate(3849.6,1416.9) rotate(-90)" font-size="23.6" textLength="35.7" lengthAdjust="spacingAndGlyphs" fill="#000" xml:space="preserve">4.93</text>
<text transform="translate(3936.6,1416.9) rotate(-90)" font-size="23.6" textLength="35.7" lengthAdjust="spacingAndGlyphs" fill="#000" xml:space="preserve">8.82</text>
<text transform="translate(4023.7,1421.2) rotate(-90)" font-size="23.6" textLength="44.1" lengthAdjust="spacingAndGlyphs" fill="#000" xml:space="preserve">13.32</text>
<text transform="translate(4110.7,1421.2) rotate(-90)" font-size="23.6" textLength="44.1" lengthAdjust="spacingAndGlyphs" fill="#000" xml:space="preserve">17.82</text>
<text transform="translate(4197.8,1421.2) rotate(-90)" font-size="23.6" textLength="44.1" lengthAdjust="spacingAndGlyphs" fill="#000" xml:space="preserve">22.11</text>
<text transform="translate(4282.2,1421.2) rotate(-90)" font-size="23.6" textLength="44.1" lengthAdjust="spacingAndGlyphs" fill="#000" xml:space="preserve">25.64</text>
<text transform="translate(4370.2,1421.2) rotate(-90)" font-size="23.6" textLength="44.1" lengthAdjust="spacingAndGlyphs" fill="#000" xml:space="preserve">26.06</text>
<text class="b" transform="translate(205.8,1583.7) rotate(-90)" font-size="23.6" textLength="61" lengthAdjust="spacingAndGlyphs" fill="#000" xml:space="preserve">WK0+620</text>
<line x1="197.5" y1="1588" x2="197.5" y2="1592.5" stroke="#666" stroke-width="1"/>
<text class="b" transform="translate(280.2,1583.7) rotate(-90)" font-size="23.6" textLength="61" lengthAdjust="spacingAndGlyphs" fill="#000" xml:space="preserve">WK0+700</text>
<line x1="272" y1="1588" x2="272" y2="1592.5" stroke="#666" stroke-width="1"/>
<text class="b" transform="translate(367.4,1583.7) rotate(-90)" font-size="23.6" textLength="61" lengthAdjust="spacingAndGlyphs" fill="#000" xml:space="preserve">WK0+800</text>
<line x1="359.1" y1="1588" x2="359.1" y2="1592.5" stroke="#666" stroke-width="1"/>
<text class="b" transform="translate(449.9,1583.7) rotate(-90)" font-size="23.6" textLength="61" lengthAdjust="spacingAndGlyphs" fill="#000" xml:space="preserve">WK0+900</text>
<line x1="446.3" y1="1588" x2="446.3" y2="1592.5" stroke="#666" stroke-width="1"/>
<text class="b" transform="translate(486.4,1592.2) rotate(-90)" font-size="23.6" textLength="77.9" lengthAdjust="spacingAndGlyphs" fill="#000" xml:space="preserve">WK0+936.5</text>
<line x1="478.1" y1="1588" x2="478.1" y2="1592.5" stroke="#666" stroke-width="1"/>
<text class="b" transform="translate(541.6,1583.7) rotate(-90)" font-size="23.6" textLength="61" lengthAdjust="spacingAndGlyphs" fill="#000" xml:space="preserve">WK1+000</text>
<line x1="533.4" y1="1588" x2="533.4" y2="1592.5" stroke="#666" stroke-width="1"/>
<text class="b" transform="translate(628.7,1583.7) rotate(-90)" font-size="23.6" textLength="61" lengthAdjust="spacingAndGlyphs" fill="#000" xml:space="preserve">WK1+100</text>
<line x1="620.5" y1="1588" x2="620.5" y2="1592.5" stroke="#666" stroke-width="1"/>
<text class="b" transform="translate(715.8,1583.7) rotate(-90)" font-size="23.6" textLength="61" lengthAdjust="spacingAndGlyphs" fill="#000" xml:space="preserve">WK1+200</text>
<line x1="707.5" y1="1588" x2="707.5" y2="1592.5" stroke="#666" stroke-width="1"/>
<text class="b" transform="translate(802.8,1583.7) rotate(-90)" font-size="23.6" textLength="61" lengthAdjust="spacingAndGlyphs" fill="#000" xml:space="preserve">WK1+300</text>
<line x1="794.5" y1="1588" x2="794.5" y2="1592.5" stroke="#666" stroke-width="1"/>
<text class="b" transform="translate(889.9,1583.7) rotate(-90)" font-size="23.6" textLength="61" lengthAdjust="spacingAndGlyphs" fill="#000" xml:space="preserve">WK1+400</text>
<line x1="881.6" y1="1588" x2="881.6" y2="1592.5" stroke="#666" stroke-width="1"/>
<text class="b" transform="translate(976.9,1583.7) rotate(-90)" font-size="23.6" textLength="61" lengthAdjust="spacingAndGlyphs" fill="#000" xml:space="preserve">WK1+500</text>
<line x1="968.6" y1="1588" x2="968.6" y2="1592.5" stroke="#666" stroke-width="1"/>
<text class="b" transform="translate(1064,1583.7) rotate(-90)" font-size="23.6" textLength="61" lengthAdjust="spacingAndGlyphs" fill="#000" xml:space="preserve">WK1+600</text>
<line x1="1055.7" y1="1588" x2="1055.7" y2="1592.5" stroke="#666" stroke-width="1"/>
<text class="b" transform="translate(1151,1583.7) rotate(-90)" font-size="23.6" textLength="61" lengthAdjust="spacingAndGlyphs" fill="#000" xml:space="preserve">WK1+700</text>
<line x1="1142.8" y1="1588" x2="1142.8" y2="1592.5" stroke="#666" stroke-width="1"/>
<text class="b" transform="translate(1238.1,1583.7) rotate(-90)" font-size="23.6" textLength="61" lengthAdjust="spacingAndGlyphs" fill="#000" xml:space="preserve">WK1+800</text>
<line x1="1229.8" y1="1588" x2="1229.8" y2="1592.5" stroke="#666" stroke-width="1"/>
<text class="b" transform="translate(1325.1,1583.7) rotate(-90)" font-size="23.6" textLength="61" lengthAdjust="spacingAndGlyphs" fill="#000" xml:space="preserve">WK1+900</text>
<line x1="1316.8" y1="1588" x2="1316.8" y2="1592.5" stroke="#666" stroke-width="1"/>
<text class="b" transform="translate(1412.2,1583.7) rotate(-90)" font-size="23.6" textLength="61" lengthAdjust="spacingAndGlyphs" fill="#000" xml:space="preserve">WK2+000</text>
<line x1="1403.9" y1="1588" x2="1403.9" y2="1592.5" stroke="#666" stroke-width="1"/>
<text class="b" transform="translate(1499.2,1583.7) rotate(-90)" font-size="23.6" textLength="61" lengthAdjust="spacingAndGlyphs" fill="#000" xml:space="preserve">WK2+100</text>
<line x1="1491" y1="1588" x2="1491" y2="1592.5" stroke="#666" stroke-width="1"/>
<text class="b" transform="translate(1586.2,1583.7) rotate(-90)" font-size="23.6" textLength="61" lengthAdjust="spacingAndGlyphs" fill="#000" xml:space="preserve">WK2+200</text>
<line x1="1578" y1="1588" x2="1578" y2="1592.5" stroke="#666" stroke-width="1"/>
<text class="b" transform="translate(1673.3,1583.7) rotate(-90)" font-size="23.6" textLength="61" lengthAdjust="spacingAndGlyphs" fill="#000" xml:space="preserve">WK2+300</text>
<line x1="1665.1" y1="1588" x2="1665.1" y2="1592.5" stroke="#666" stroke-width="1"/>
<text class="b" transform="translate(1760.3,1583.7) rotate(-90)" font-size="23.6" textLength="61" lengthAdjust="spacingAndGlyphs" fill="#000" xml:space="preserve">WK2+400</text>
<line x1="1752.1" y1="1588" x2="1752.1" y2="1592.5" stroke="#666" stroke-width="1"/>
<text class="b" transform="translate(1847.4,1583.7) rotate(-90)" font-size="23.6" textLength="61" lengthAdjust="spacingAndGlyphs" fill="#000" xml:space="preserve">WK2+500</text>
<line x1="1839.2" y1="1588" x2="1839.2" y2="1592.5" stroke="#666" stroke-width="1"/>
<text class="b" transform="translate(1934.5,1583.7) rotate(-90)" font-size="23.6" textLength="61" lengthAdjust="spacingAndGlyphs" fill="#000" xml:space="preserve">WK2+600</text>
<line x1="1926.2" y1="1588" x2="1926.2" y2="1592.5" stroke="#666" stroke-width="1"/>
<text class="b" transform="translate(2021.5,1583.7) rotate(-90)" font-size="23.6" textLength="61" lengthAdjust="spacingAndGlyphs" fill="#000" xml:space="preserve">WK2+700</text>
<line x1="2013.2" y1="1588" x2="2013.2" y2="1592.5" stroke="#666" stroke-width="1"/>
<text class="b" transform="translate(2108.6,1583.7) rotate(-90)" font-size="23.6" textLength="61" lengthAdjust="spacingAndGlyphs" fill="#000" xml:space="preserve">WK2+800</text>
<line x1="2100.3" y1="1588" x2="2100.3" y2="1592.5" stroke="#666" stroke-width="1"/>
<text class="b" transform="translate(2195.6,1583.7) rotate(-90)" font-size="23.6" textLength="61" lengthAdjust="spacingAndGlyphs" fill="#000" xml:space="preserve">WK2+900</text>
<line x1="2187.3" y1="1588" x2="2187.3" y2="1592.5" stroke="#666" stroke-width="1"/>
<text class="b" transform="translate(2282.7,1583.7) rotate(-90)" font-size="23.6" textLength="61" lengthAdjust="spacingAndGlyphs" fill="#000" xml:space="preserve">WK3+000</text>
<line x1="2274.4" y1="1588" x2="2274.4" y2="1592.5" stroke="#666" stroke-width="1"/>
<text class="b" transform="translate(2369.7,1583.7) rotate(-90)" font-size="23.6" textLength="61" lengthAdjust="spacingAndGlyphs" fill="#000" xml:space="preserve">WK3+100</text>
<line x1="2361.5" y1="1588" x2="2361.5" y2="1592.5" stroke="#666" stroke-width="1"/>
<text class="b" transform="translate(2456.8,1583.7) rotate(-90)" font-size="23.6" textLength="61" lengthAdjust="spacingAndGlyphs" fill="#000" xml:space="preserve">WK3+200</text>
<line x1="2448.5" y1="1588" x2="2448.5" y2="1592.5" stroke="#666" stroke-width="1"/>
<text class="b" transform="translate(2543.8,1583.7) rotate(-90)" font-size="23.6" textLength="61" lengthAdjust="spacingAndGlyphs" fill="#000" xml:space="preserve">WK3+300</text>
<line x1="2535.6" y1="1588" x2="2535.6" y2="1592.5" stroke="#666" stroke-width="1"/>
<text class="b" transform="translate(2630.9,1583.7) rotate(-90)" font-size="23.6" textLength="61" lengthAdjust="spacingAndGlyphs" fill="#000" xml:space="preserve">WK3+400</text>
<line x1="2622.6" y1="1588" x2="2622.6" y2="1592.5" stroke="#666" stroke-width="1"/>
<text class="b" transform="translate(2717.9,1583.7) rotate(-90)" font-size="23.6" textLength="61" lengthAdjust="spacingAndGlyphs" fill="#000" xml:space="preserve">WK3+500</text>
<line x1="2709.7" y1="1588" x2="2709.7" y2="1592.5" stroke="#666" stroke-width="1"/>
<text class="b" transform="translate(2805,1583.7) rotate(-90)" font-size="23.6" textLength="61" lengthAdjust="spacingAndGlyphs" fill="#000" xml:space="preserve">WK3+600</text>
<line x1="2796.7" y1="1588" x2="2796.7" y2="1592.5" stroke="#666" stroke-width="1"/>
<text class="b" transform="translate(2892,1583.7) rotate(-90)" font-size="23.6" textLength="61" lengthAdjust="spacingAndGlyphs" fill="#000" xml:space="preserve">WK3+700</text>
<line x1="2883.8" y1="1588" x2="2883.8" y2="1592.5" stroke="#666" stroke-width="1"/>
<text class="b" transform="translate(2979.1,1583.7) rotate(-90)" font-size="23.6" textLength="61" lengthAdjust="spacingAndGlyphs" fill="#000" xml:space="preserve">WK3+800</text>
<line x1="2970.8" y1="1588" x2="2970.8" y2="1592.5" stroke="#666" stroke-width="1"/>
<text class="b" transform="translate(3066.1,1583.7) rotate(-90)" font-size="23.6" textLength="61" lengthAdjust="spacingAndGlyphs" fill="#000" xml:space="preserve">WK3+900</text>
<line x1="3057.9" y1="1588" x2="3057.9" y2="1592.5" stroke="#666" stroke-width="1"/>
<text class="b" transform="translate(3153.2,1583.7) rotate(-90)" font-size="23.6" textLength="61" lengthAdjust="spacingAndGlyphs" fill="#000" xml:space="preserve">WK4+000</text>
<line x1="3144.9" y1="1588" x2="3144.9" y2="1592.5" stroke="#666" stroke-width="1"/>
<text class="b" transform="translate(3240.2,1583.7) rotate(-90)" font-size="23.6" textLength="61" lengthAdjust="spacingAndGlyphs" fill="#000" xml:space="preserve">WK4+100</text>
<line x1="3232" y1="1588" x2="3232" y2="1592.5" stroke="#666" stroke-width="1"/>
<text class="b" transform="translate(3327.3,1583.7) rotate(-90)" font-size="23.6" textLength="61" lengthAdjust="spacingAndGlyphs" fill="#000" xml:space="preserve">WK4+200</text>
<line x1="3319" y1="1588" x2="3319" y2="1592.5" stroke="#666" stroke-width="1"/>
<text class="b" transform="translate(3414.3,1583.7) rotate(-90)" font-size="23.6" textLength="61" lengthAdjust="spacingAndGlyphs" fill="#000" xml:space="preserve">WK4+300</text>
<line x1="3406.1" y1="1588" x2="3406.1" y2="1592.5" stroke="#666" stroke-width="1"/>
<text class="b" transform="translate(3501.4,1583.7) rotate(-90)" font-size="23.6" textLength="61" lengthAdjust="spacingAndGlyphs" fill="#000" xml:space="preserve">WK4+400</text>
<line x1="3493.1" y1="1588" x2="3493.1" y2="1592.5" stroke="#666" stroke-width="1"/>
<text class="b" transform="translate(3588.4,1583.7) rotate(-90)" font-size="23.6" textLength="61" lengthAdjust="spacingAndGlyphs" fill="#000" xml:space="preserve">WK4+500</text>
<line x1="3580.2" y1="1588" x2="3580.2" y2="1592.5" stroke="#666" stroke-width="1"/>
<text class="b" transform="translate(3675.5,1583.7) rotate(-90)" font-size="23.6" textLength="61" lengthAdjust="spacingAndGlyphs" fill="#000" xml:space="preserve">WK4+600</text>
<line x1="3667.2" y1="1588" x2="3667.2" y2="1592.5" stroke="#666" stroke-width="1"/>
<text class="b" transform="translate(3762.5,1583.7) rotate(-90)" font-size="23.6" textLength="61" lengthAdjust="spacingAndGlyphs" fill="#000" xml:space="preserve">WK4+700</text>
<line x1="3754.3" y1="1588" x2="3754.3" y2="1592.5" stroke="#666" stroke-width="1"/>
<text class="b" transform="translate(3849.6,1583.7) rotate(-90)" font-size="23.6" textLength="61" lengthAdjust="spacingAndGlyphs" fill="#000" xml:space="preserve">WK4+800</text>
<line x1="3841.3" y1="1588" x2="3841.3" y2="1592.5" stroke="#666" stroke-width="1"/>
<text class="b" transform="translate(3936.6,1583.7) rotate(-90)" font-size="23.6" textLength="61" lengthAdjust="spacingAndGlyphs" fill="#000" xml:space="preserve">WK4+900</text>
<line x1="3928.4" y1="1588" x2="3928.4" y2="1592.5" stroke="#666" stroke-width="1"/>
<text class="b" transform="translate(4023.7,1583.7) rotate(-90)" font-size="23.6" textLength="61" lengthAdjust="spacingAndGlyphs" fill="#000" xml:space="preserve">WK5+000</text>
<line x1="4015.4" y1="1588" x2="4015.4" y2="1592.5" stroke="#666" stroke-width="1"/>
<text class="b" transform="translate(4110.7,1583.7) rotate(-90)" font-size="23.6" textLength="61" lengthAdjust="spacingAndGlyphs" fill="#000" xml:space="preserve">WK5+100</text>
<line x1="4102.4" y1="1588" x2="4102.4" y2="1592.5" stroke="#666" stroke-width="1"/>
<text class="b" transform="translate(4196.1,1583.7) rotate(-90)" font-size="23.6" textLength="61" lengthAdjust="spacingAndGlyphs" fill="#000" xml:space="preserve">WK5+200</text>
<line x1="4187.9" y1="1588" x2="4187.9" y2="1592.5" stroke="#666" stroke-width="1"/>
<text class="b" transform="translate(4215.6,1583.7) rotate(-90)" font-size="23.6" textLength="61" lengthAdjust="spacingAndGlyphs" fill="#000" xml:space="preserve">WK5+223</text>
<line x1="4207.3" y1="1588" x2="4207.3" y2="1592.5" stroke="#666" stroke-width="1"/>
<text class="b" transform="translate(4281.2,1583.7) rotate(-90)" font-size="23.6" textLength="61" lengthAdjust="spacingAndGlyphs" fill="#000" xml:space="preserve">WK5+300</text>
<line x1="4273" y1="1588" x2="4273" y2="1592.5" stroke="#666" stroke-width="1"/>
<text class="b" transform="translate(4347.4,1583.7) rotate(-90)" font-size="23.6" textLength="61" lengthAdjust="spacingAndGlyphs" fill="#000" xml:space="preserve">WK5+300</text>
<line x1="4339.2" y1="1588" x2="4339.2" y2="1592.5" stroke="#666" stroke-width="1"/>
<text class="b" transform="translate(4370.6,1583.7) rotate(-90)" font-size="23.6" textLength="61" lengthAdjust="spacingAndGlyphs" fill="#000" xml:space="preserve">WK5+400</text>
<line x1="4362.4" y1="1588" x2="4362.4" y2="1592.5" stroke="#666" stroke-width="1"/>
<text class="b" transform="translate(4457.2,1583.7) rotate(-90)" font-size="23.6" textLength="61" lengthAdjust="spacingAndGlyphs" fill="#000" xml:space="preserve">BK5+500</text>
<line x1="4449" y1="1588" x2="4449" y2="1592.5" stroke="#666" stroke-width="1"/>
<text class="b" transform="translate(4544.9,1583.7) rotate(-90)" font-size="23.6" textLength="61" lengthAdjust="spacingAndGlyphs" fill="#000" xml:space="preserve">BK5+600</text>
<line x1="4536.6" y1="1588" x2="4536.6" y2="1592.5" stroke="#666" stroke-width="1"/>
<text class="b" transform="translate(4632.2,1583.7) rotate(-90)" font-size="23.6" textLength="61" lengthAdjust="spacingAndGlyphs" fill="#000" xml:space="preserve">BK5+700</text>
<line x1="4624" y1="1588" x2="4624" y2="1592.5" stroke="#666" stroke-width="1"/>
<text class="b" transform="translate(4717.9,1583.7) rotate(-90)" font-size="23.6" textLength="61" lengthAdjust="spacingAndGlyphs" fill="#000" xml:space="preserve">BK5+800</text>
<line x1="4709.6" y1="1588" x2="4709.6" y2="1592.5" stroke="#666" stroke-width="1"/>
<text class="b" transform="translate(4804.9,1583.7) rotate(-90)" font-size="23.6" textLength="61" lengthAdjust="spacingAndGlyphs" fill="#000" xml:space="preserve">BK5+900</text>
<line x1="4796.6" y1="1588" x2="4796.6" y2="1592.5" stroke="#666" stroke-width="1"/>
<text class="b" transform="translate(4880.9,1587.1) rotate(-90)" font-size="23.6" textLength="69.5" lengthAdjust="spacingAndGlyphs" fill="#000" xml:space="preserve">+987.549</text>
<line x1="4872.7" y1="1588" x2="4872.7" y2="1592.5" stroke="#666" stroke-width="1"/>
<line x1="543.3" y1="1432.5" x2="543.3" y2="1512.3" stroke="#333" stroke-width="1.1"/>
<line x1="653.2" y1="1432.5" x2="653.2" y2="1512.3" stroke="#333" stroke-width="1.1"/>
<line x1="696.6" y1="1432.5" x2="696.6" y2="1512.3" stroke="#333" stroke-width="1.1"/>
<line x1="807.3" y1="1432.5" x2="807.3" y2="1512.3" stroke="#333" stroke-width="1.1"/>
<line x1="851.2" y1="1432.5" x2="851.2" y2="1512.3" stroke="#333" stroke-width="1.1"/>
<line x1="1095.9" y1="1432.5" x2="1095.9" y2="1512.3" stroke="#333" stroke-width="1.1"/>
<line x1="3713.6" y1="1432.5" x2="3713.6" y2="1512.3" stroke="#333" stroke-width="1.1"/>
<line x1="3756.3" y1="1432.5" x2="3756.3" y2="1512.3" stroke="#333" stroke-width="1.1"/>
<line x1="3872.7" y1="1432.5" x2="3872.7" y2="1512.3" stroke="#333" stroke-width="1.1"/>
<line x1="3916.2" y1="1432.5" x2="3916.2" y2="1512.3" stroke="#333" stroke-width="1.1"/>
<line x1="3960.1" y1="1432.5" x2="3960.1" y2="1512.3" stroke="#333" stroke-width="1.1"/>
<line x1="4076.6" y1="1432.5" x2="4076.6" y2="1512.3" stroke="#333" stroke-width="1.1"/>
<line x1="1422.4" y1="1432.5" x2="1422.4" y2="1512.3" stroke="#999" stroke-width="1.1"/>
<line x1="2034.7" y1="1432.5" x2="2034.7" y2="1512.3" stroke="#999" stroke-width="1.1"/>
<line x1="4120" y1="1432.5" x2="4120" y2="1512.3" stroke="#999" stroke-width="1.1"/>
<line x1="543.3" y1="1493.8" x2="653.2" y2="1493.8" stroke="#333" stroke-width="1.1"/>
<line x1="653.2" y1="1473.6" x2="696.6" y2="1449.2" stroke="#333" stroke-width="1.1"/>
<line x1="696.6" y1="1449.2" x2="807.3" y2="1449.2" stroke="#333" stroke-width="1.1"/>
<line x1="807.3" y1="1449.2" x2="851.2" y2="1450.3" stroke="#333" stroke-width="1.1"/>
<line x1="851.2" y1="1450.3" x2="1095.9" y2="1450.3" stroke="#333" stroke-width="1.1"/>
<line x1="1422.4" y1="1493" x2="2034.7" y2="1493" stroke="#333" stroke-width="1.1"/>
<line x1="3713.6" y1="1472.5" x2="3756.3" y2="1453.8" stroke="#333" stroke-width="1.1"/>
<line x1="3756.3" y1="1453.8" x2="3872.7" y2="1453.8" stroke="#333" stroke-width="1.1"/>
<line x1="3872.7" y1="1453.8" x2="3916.2" y2="1472.5" stroke="#333" stroke-width="1.1"/>
<line x1="3916.2" y1="1472.5" x2="3960.1" y2="1490.7" stroke="#333" stroke-width="1.1"/>
<line x1="3960.1" y1="1490.7" x2="4076.6" y2="1490.7" stroke="#333" stroke-width="1.1"/>
<line x1="4076.6" y1="1490.7" x2="4120" y2="1472.5" stroke="#333" stroke-width="1.1"/>
<text x="577.3" y="1468.6" font-size="22.3" textLength="52.3" lengthAdjust="spacingAndGlyphs" fill="#000" xml:space="preserve">R-1200</text>
<text x="567.6" y="1512" font-size="23.3" textLength="71" lengthAdjust="spacingAndGlyphs" fill="#000" xml:space="preserve">L-126.89</text>
<text x="719.2" y="1447.2" font-size="19.6" textLength="44.2" lengthAdjust="spacingAndGlyphs" fill="#000" xml:space="preserve">R-600</text>
<text x="705.5" y="1491.9" font-size="22.3" textLength="70.4" lengthAdjust="spacingAndGlyphs" fill="#000" xml:space="preserve">L-227.43</text>
<text x="811" y="1491.9" font-size="22.3" textLength="36" lengthAdjust="spacingAndGlyphs" fill="#000" xml:space="preserve">L-50</text>
<text x="948.2" y="1447.2" font-size="19.6" textLength="52.1" lengthAdjust="spacingAndGlyphs" fill="#000" xml:space="preserve">R-1200</text>
<text x="938.4" y="1491.9" font-size="22.3" textLength="69.7" lengthAdjust="spacingAndGlyphs" fill="#000" xml:space="preserve">L-282.06</text>
<text x="1701.7" y="1468.6" font-size="22.3" textLength="54.2" lengthAdjust="spacingAndGlyphs" fill="#000" xml:space="preserve">R-2000</text>
<text x="1692.1" y="1511.3" font-size="22.3" textLength="71.6" lengthAdjust="spacingAndGlyphs" fill="#000" xml:space="preserve">L-703.22</text>
<text x="3716.6" y="1491.9" font-size="22.3" textLength="36.7" lengthAdjust="spacingAndGlyphs" fill="#000" xml:space="preserve">L-50</text>
<text x="3787.6" y="1450" font-size="22.3" textLength="53.8" lengthAdjust="spacingAndGlyphs" fill="#000" xml:space="preserve">R-3500</text>
<text x="3778.7" y="1491.9" font-size="22.3" textLength="71.7" lengthAdjust="spacingAndGlyphs" fill="#000" xml:space="preserve">L-133.59</text>
<text x="3875.7" y="1491.9" font-size="22.3" textLength="36.8" lengthAdjust="spacingAndGlyphs" fill="#000" xml:space="preserve">L-50</text>
<text x="3990.2" y="1469.3" font-size="23.3" textLength="54.4" lengthAdjust="spacingAndGlyphs" fill="#000" xml:space="preserve">R-3500</text>
<text x="3982.4" y="1511.3" font-size="25" textLength="69.9" lengthAdjust="spacingAndGlyphs" fill="#000" xml:space="preserve">L-133.59</text>
<text transform="translate(675.3,1468.5) rotate(-30)" x="0" y="7.3" text-anchor="middle" font-size="21" textLength="36" lengthAdjust="spacingAndGlyphs" fill="#000">L-50</text>
<text transform="translate(3941.8,1491.4) rotate(25)" x="0" y="7.3" text-anchor="middle" font-size="21" textLength="36" lengthAdjust="spacingAndGlyphs" fill="#000">L-50</text>
<text transform="translate(4101.6,1492) rotate(-25)" x="0" y="7.3" text-anchor="middle" font-size="21" textLength="36" lengthAdjust="spacingAndGlyphs" fill="#000">L-50</text>
<text x="149.9" y="441.7" font-size="18.7" textLength="17.8" lengthAdjust="spacingAndGlyphs" fill="#000" xml:space="preserve">60</text>
<text x="149.8" y="616" font-size="19.7" textLength="17.9" lengthAdjust="spacingAndGlyphs" fill="#000" xml:space="preserve">40</text>
<text x="150.6" y="789.8" font-size="20.9" textLength="17.2" lengthAdjust="spacingAndGlyphs" fill="#000" xml:space="preserve">20</text>
<text x="158.8" y="962.8" font-size="19.4" textLength="8.9" lengthAdjust="spacingAndGlyphs" fill="#000" xml:space="preserve">0</text>
<text x="141.2" y="1137.5" font-size="21.4" textLength="26.5" lengthAdjust="spacingAndGlyphs" fill="#000" xml:space="preserve">-20</text>
<line x1="181" y1="434.1" x2="184.6" y2="434.1" stroke="#444" stroke-width="1.2"/>
<line x1="181" y1="521" x2="184.6" y2="521" stroke="#444" stroke-width="1.2"/>
<line x1="181" y1="607.9" x2="184.6" y2="607.9" stroke="#444" stroke-width="1.2"/>
<line x1="181" y1="694.8" x2="184.6" y2="694.8" stroke="#444" stroke-width="1.2"/>
<line x1="181" y1="781.7" x2="184.6" y2="781.7" stroke="#444" stroke-width="1.2"/>
<line x1="181" y1="868.6" x2="184.6" y2="868.6" stroke="#444" stroke-width="1.2"/>
<line x1="181" y1="955.5" x2="184.6" y2="955.5" stroke="#444" stroke-width="1.2"/>
<line x1="181" y1="1042.4" x2="184.6" y2="1042.4" stroke="#444" stroke-width="1.2"/>
<line x1="181" y1="1129.3" x2="184.6" y2="1129.3" stroke="#444" stroke-width="1.2"/>
<line x1="181" y1="1216.2" x2="184.6" y2="1216.2" stroke="#444" stroke-width="1.2"/>
<text class="b" x="182.8" y="396.7" font-size="22.2" textLength="41.9" lengthAdjust="spacingAndGlyphs" fill="#000" xml:space="preserve">上层：</text>
<text class="b" x="189.8" y="1236.2" font-size="28.4" textLength="53.5" lengthAdjust="spacingAndGlyphs" fill="#000" xml:space="preserve">下层：</text>
<text x="419.2" y="395.6" font-size="22.4" textLength="171.4" lengthAdjust="spacingAndGlyphs" fill="#000" xml:space="preserve">R-1500 T-32.4 E-0.35</text>
<line x1="478.1" y1="367.4" x2="534.6" y2="367.4" stroke="#777" stroke-width="1.1"/>
<line x1="478.1" y1="367.4" x2="478.1" y2="375" stroke="#777" stroke-width="1.1"/>
<line x1="534.6" y1="367.4" x2="534.6" y2="375" stroke="#777" stroke-width="1.1"/>
<line x1="506.6" y1="367.4" x2="506.6" y2="359.2" stroke="#777" stroke-width="1.1"/>
<text x="556.1" y="412" font-size="21.7" textLength="164.7" lengthAdjust="spacingAndGlyphs" fill="#000" xml:space="preserve">R-20000 T-60 E-0.09</text>
<line x1="590.6" y1="367.4" x2="695.8" y2="367.4" stroke="#777" stroke-width="1.1"/>
<line x1="590.6" y1="367.4" x2="590.6" y2="375" stroke="#777" stroke-width="1.1"/>
<line x1="695.8" y1="367.4" x2="695.8" y2="375" stroke="#777" stroke-width="1.1"/>
<line x1="643.4" y1="367.4" x2="643.4" y2="359.2" stroke="#777" stroke-width="1.1"/>
<text x="1236.2" y="372.7" font-size="23.6" textLength="52.9" lengthAdjust="spacingAndGlyphs" fill="#000" xml:space="preserve">R-3750</text>
<text x="1300.3" y="372.7" font-size="23.6" textLength="61.4" lengthAdjust="spacingAndGlyphs" fill="#000" xml:space="preserve">T-78.75</text>
<text x="1372.6" y="372.7" font-size="23.6" textLength="52.9" lengthAdjust="spacingAndGlyphs" fill="#000" xml:space="preserve">E-0.83</text>
<line x1="1262.6" y1="384.7" x2="1399" y2="384.7" stroke="#777" stroke-width="1.1"/>
<line x1="1262.6" y1="384.7" x2="1262.6" y2="376.7" stroke="#777" stroke-width="1.1"/>
<line x1="1399" y1="384.7" x2="1399" y2="376.7" stroke="#777" stroke-width="1.1"/>
<line x1="1331" y1="384.7" x2="1331" y2="392.4" stroke="#777" stroke-width="1.1"/>
<text x="2033.9" y="372.7" font-size="23.6" textLength="61.4" lengthAdjust="spacingAndGlyphs" fill="#000" xml:space="preserve">R-20000</text>
<text x="2116.1" y="372.7" font-size="23.6" textLength="35.9" lengthAdjust="spacingAndGlyphs" fill="#000" xml:space="preserve">T-80</text>
<text x="2178" y="372.7" font-size="23.6" textLength="52.9" lengthAdjust="spacingAndGlyphs" fill="#000" xml:space="preserve">E-0.16</text>
<line x1="2064.6" y1="384.7" x2="2204.4" y2="384.7" stroke="#777" stroke-width="1.1"/>
<line x1="2064.6" y1="384.7" x2="2064.6" y2="376.7" stroke="#777" stroke-width="1.1"/>
<line x1="2204.4" y1="384.7" x2="2204.4" y2="376.7" stroke="#777" stroke-width="1.1"/>
<line x1="2134" y1="384.7" x2="2134" y2="392.4" stroke="#777" stroke-width="1.1"/>
<text x="2622.3" y="372.7" font-size="23.6" textLength="61.4" lengthAdjust="spacingAndGlyphs" fill="#000" xml:space="preserve">R-13000</text>
<text x="2702.5" y="372.7" font-size="23.6" textLength="35.9" lengthAdjust="spacingAndGlyphs" fill="#000" xml:space="preserve">T-78</text>
<text x="2762.4" y="372.7" font-size="23.6" textLength="52.9" lengthAdjust="spacingAndGlyphs" fill="#000" xml:space="preserve">E-0.23</text>
<line x1="2653" y1="384.7" x2="2788.8" y2="384.7" stroke="#777" stroke-width="1.1"/>
<line x1="2653" y1="384.7" x2="2653" y2="376.7" stroke="#777" stroke-width="1.1"/>
<line x1="2788.8" y1="384.7" x2="2788.8" y2="376.7" stroke="#777" stroke-width="1.1"/>
<line x1="2720.4" y1="384.7" x2="2720.4" y2="392.4" stroke="#777" stroke-width="1.1"/>
<text x="3458.6" y="372.7" font-size="23.6" textLength="52.9" lengthAdjust="spacingAndGlyphs" fill="#000" xml:space="preserve">R-6000</text>
<text x="3542.8" y="372.7" font-size="23.6" textLength="35.9" lengthAdjust="spacingAndGlyphs" fill="#000" xml:space="preserve">T-87</text>
<text x="3609.6" y="372.7" font-size="23.6" textLength="52.9" lengthAdjust="spacingAndGlyphs" fill="#000" xml:space="preserve">E-0.63</text>
<line x1="3485" y1="384.7" x2="3636" y2="384.7" stroke="#777" stroke-width="1.1"/>
<line x1="3485" y1="384.7" x2="3485" y2="376.7" stroke="#777" stroke-width="1.1"/>
<line x1="3636" y1="384.7" x2="3636" y2="376.7" stroke="#777" stroke-width="1.1"/>
<line x1="3560.7" y1="384.7" x2="3560.7" y2="392.4" stroke="#777" stroke-width="1.1"/>
<text x="3891.2" y="392.4" font-size="24.9" textLength="204" lengthAdjust="spacingAndGlyphs" fill="#000" xml:space="preserve">R-24100  T-60.25  E-0.08</text>
<line x1="3945.6" y1="362.8" x2="4050.5" y2="362.8" stroke="#777" stroke-width="1.1"/>
<line x1="3945.6" y1="362.8" x2="3945.6" y2="370" stroke="#777" stroke-width="1.1"/>
<line x1="4050.5" y1="362.8" x2="4050.5" y2="370" stroke="#777" stroke-width="1.1"/>
<line x1="3998" y1="362.8" x2="3998" y2="354.6" stroke="#777" stroke-width="1.1"/>
<text x="4057.7" y="410.4" font-size="25.7" textLength="196.3" lengthAdjust="spacingAndGlyphs" fill="#000" xml:space="preserve">R-2600  T-60.06  E-0.69</text>
<line x1="4103.4" y1="380.3" x2="4208.3" y2="380.3" stroke="#777" stroke-width="1.1"/>
<line x1="4103.4" y1="380.3" x2="4103.4" y2="387.5" stroke="#777" stroke-width="1.1"/>
<line x1="4208.3" y1="380.3" x2="4208.3" y2="387.5" stroke="#777" stroke-width="1.1"/>
<line x1="4155.8" y1="380.3" x2="4155.8" y2="372.5" stroke="#777" stroke-width="1.1"/>
<text x="185.3" y="1283.5" font-size="23" textLength="54" lengthAdjust="spacingAndGlyphs" fill="#000" xml:space="preserve">R-1500</text>
<text x="202.4" y="1300.6" font-size="22.3" textLength="115.1" lengthAdjust="spacingAndGlyphs" fill="#000" xml:space="preserve">T-35.1  E-0.41</text>
<line x1="198.6" y1="1254.6" x2="259.8" y2="1254.6" stroke="#777" stroke-width="1.1"/>
<line x1="198.6" y1="1254.6" x2="198.6" y2="1262.6" stroke="#777" stroke-width="1.1"/>
<line x1="259.8" y1="1254.6" x2="259.8" y2="1262.6" stroke="#777" stroke-width="1.1"/>
<line x1="228.8" y1="1254.6" x2="228.8" y2="1247.2" stroke="#777" stroke-width="1.1"/>
<text x="312" y="1243.1" font-size="23.4" textLength="195.7" lengthAdjust="spacingAndGlyphs" fill="#000" xml:space="preserve">R-4150   T-60.18   E-0.44</text>
<line x1="357" y1="1254.6" x2="462.6" y2="1254.6" stroke="#777" stroke-width="1.1"/>
<line x1="357" y1="1254.6" x2="357" y2="1247.2" stroke="#777" stroke-width="1.1"/>
<line x1="462.6" y1="1254.6" x2="462.6" y2="1247.2" stroke="#777" stroke-width="1.1"/>
<line x1="409.2" y1="1254.6" x2="409.2" y2="1262.6" stroke="#777" stroke-width="1.1"/>
<text x="456.4" y="1283.5" font-size="23.6" textLength="170.3" lengthAdjust="spacingAndGlyphs" fill="#000" xml:space="preserve">R-4800   T-60   E-0.37</text>
<line x1="489.6" y1="1254.6" x2="594.6" y2="1254.6" stroke="#777" stroke-width="1.1"/>
<line x1="489.6" y1="1254.6" x2="489.6" y2="1262.6" stroke="#777" stroke-width="1.1"/>
<line x1="594.6" y1="1254.6" x2="594.6" y2="1262.6" stroke="#777" stroke-width="1.1"/>
<line x1="541.8" y1="1254.6" x2="541.8" y2="1247.2" stroke="#777" stroke-width="1.1"/>
<text x="729.4" y="1288.2" font-size="22.3" textLength="186" lengthAdjust="spacingAndGlyphs" fill="#000" xml:space="preserve">R-7500   T-37.5   E-0.09</text>
<line x1="790.2" y1="1260.2" x2="855.5" y2="1260.2" stroke="#777" stroke-width="1.1"/>
<line x1="790.2" y1="1260.2" x2="790.2" y2="1268" stroke="#777" stroke-width="1.1"/>
<line x1="855.5" y1="1260.2" x2="855.5" y2="1268" stroke="#777" stroke-width="1.1"/>
<line x1="822.9" y1="1260.2" x2="822.9" y2="1252.5" stroke="#777" stroke-width="1.1"/>
<text x="1235.4" y="1268" font-size="23.6" textLength="52.9" lengthAdjust="spacingAndGlyphs" fill="#000" xml:space="preserve">R-3750</text>
<text x="1300.3" y="1268" font-size="23.6" textLength="61.4" lengthAdjust="spacingAndGlyphs" fill="#000" xml:space="preserve">T-78.75</text>
<text x="1373.1" y="1268" font-size="23.6" textLength="52.9" lengthAdjust="spacingAndGlyphs" fill="#000" xml:space="preserve">E-0.83</text>
<line x1="1261.8" y1="1278.9" x2="1399.5" y2="1278.9" stroke="#777" stroke-width="1.1"/>
<line x1="1261.8" y1="1278.9" x2="1261.8" y2="1270.9" stroke="#777" stroke-width="1.1"/>
<line x1="1399.5" y1="1278.9" x2="1399.5" y2="1270.9" stroke="#777" stroke-width="1.1"/>
<line x1="1331" y1="1278.9" x2="1331" y2="1287.2" stroke="#777" stroke-width="1.1"/>
<text x="2034.7" y="1242.9" font-size="23.3" textLength="61.4" lengthAdjust="spacingAndGlyphs" fill="#000" xml:space="preserve">R-20000</text>
<text x="2116.7" y="1242.9" font-size="23.3" textLength="35.9" lengthAdjust="spacingAndGlyphs" fill="#000" xml:space="preserve">T-80</text>
<text x="2177.4" y="1242.9" font-size="23.3" textLength="52.9" lengthAdjust="spacingAndGlyphs" fill="#000" xml:space="preserve">E-0.16</text>
<line x1="2065.4" y1="1254.4" x2="2203.8" y2="1254.4" stroke="#777" stroke-width="1.1"/>
<line x1="2065.4" y1="1254.4" x2="2065.4" y2="1246.4" stroke="#777" stroke-width="1.1"/>
<line x1="2203.8" y1="1254.4" x2="2203.8" y2="1246.4" stroke="#777" stroke-width="1.1"/>
<line x1="2134.6" y1="1254.4" x2="2134.6" y2="1262.7" stroke="#777" stroke-width="1.1"/>
<text x="2621.8" y="1242.9" font-size="23.3" textLength="61.4" lengthAdjust="spacingAndGlyphs" fill="#000" xml:space="preserve">R-13000</text>
<text x="2703.1" y="1242.9" font-size="23.3" textLength="35.9" lengthAdjust="spacingAndGlyphs" fill="#000" xml:space="preserve">T-78</text>
<text x="2762.3" y="1242.9" font-size="23.3" textLength="52.9" lengthAdjust="spacingAndGlyphs" fill="#000" xml:space="preserve">E-0.23</text>
<line x1="2652.5" y1="1254.4" x2="2788.7" y2="1254.4" stroke="#777" stroke-width="1.1"/>
<line x1="2652.5" y1="1254.4" x2="2652.5" y2="1246.4" stroke="#777" stroke-width="1.1"/>
<line x1="2788.7" y1="1254.4" x2="2788.7" y2="1246.4" stroke="#777" stroke-width="1.1"/>
<line x1="2721" y1="1254.4" x2="2721" y2="1262.7" stroke="#777" stroke-width="1.1"/>
<text x="3457.8" y="1242.9" font-size="23.3" textLength="52.9" lengthAdjust="spacingAndGlyphs" fill="#000" xml:space="preserve">R-6000</text>
<text x="3542.7" y="1242.9" font-size="23.3" textLength="35.9" lengthAdjust="spacingAndGlyphs" fill="#000" xml:space="preserve">T-87</text>
<text x="3610" y="1242.9" font-size="23.3" textLength="52.9" lengthAdjust="spacingAndGlyphs" fill="#000" xml:space="preserve">E-0.63</text>
<line x1="3484.2" y1="1255.2" x2="3636.4" y2="1255.2" stroke="#777" stroke-width="1.1"/>
<line x1="3484.2" y1="1255.2" x2="3484.2" y2="1248" stroke="#777" stroke-width="1.1"/>
<line x1="3636.4" y1="1255.2" x2="3636.4" y2="1248" stroke="#777" stroke-width="1.1"/>
<line x1="3560.6" y1="1255.2" x2="3560.6" y2="1262.4" stroke="#777" stroke-width="1.1"/>
<text x="3657.7" y="1283.5" font-size="25" textLength="167.4" lengthAdjust="spacingAndGlyphs" fill="#000" xml:space="preserve">R-4000   T-30   E-0.11</text>
<line x1="3717" y1="1255.2" x2="3769.4" y2="1255.2" stroke="#777" stroke-width="1.1"/>
<line x1="3717" y1="1255.2" x2="3717" y2="1262.4" stroke="#777" stroke-width="1.1"/>
<line x1="3769.4" y1="1255.2" x2="3769.4" y2="1262.4" stroke="#777" stroke-width="1.1"/>
<line x1="3743.5" y1="1255.2" x2="3743.5" y2="1246.8" stroke="#777" stroke-width="1.1"/>
<text x="3789.5" y="1243.5" font-size="23.6" textLength="169.2" lengthAdjust="spacingAndGlyphs" fill="#000" xml:space="preserve">R-8000   T-60   E-0.22</text>
<line x1="3822.3" y1="1255.2" x2="3926.4" y2="1255.2" stroke="#777" stroke-width="1.1"/>
<line x1="3822.3" y1="1255.2" x2="3822.3" y2="1248" stroke="#777" stroke-width="1.1"/>
<line x1="3926.4" y1="1255.2" x2="3926.4" y2="1248" stroke="#777" stroke-width="1.1"/>
<line x1="3874" y1="1255.2" x2="3874" y2="1262.4" stroke="#777" stroke-width="1.1"/>
<text x="4059" y="1257.5" font-size="24.3" textLength="179.4" lengthAdjust="spacingAndGlyphs" fill="#000" xml:space="preserve">R-24000   T-60   E-0.08</text>
<line x1="4100.9" y1="1229.3" x2="4205.6" y2="1229.3" stroke="#777" stroke-width="1.1"/>
<line x1="4100.9" y1="1229.3" x2="4100.9" y2="1235.9" stroke="#777" stroke-width="1.1"/>
<line x1="4205.6" y1="1229.3" x2="4205.6" y2="1235.9" stroke="#777" stroke-width="1.1"/>
<line x1="4153.2" y1="1229.3" x2="4153.2" y2="1220.9" stroke="#777" stroke-width="1.1"/>
<text x="4187.1" y="1283.5" font-size="25" textLength="197" lengthAdjust="spacingAndGlyphs" fill="#000" xml:space="preserve">R-2750   T-63.52   E-0.73</text>
<line x1="4229.7" y1="1255.2" x2="4341" y2="1255.2" stroke="#777" stroke-width="1.1"/>
<line x1="4229.7" y1="1255.2" x2="4229.7" y2="1262.4" stroke="#777" stroke-width="1.1"/>
<line x1="4341" y1="1255.2" x2="4341" y2="1262.4" stroke="#777" stroke-width="1.1"/>
<line x1="4286.8" y1="1255.2" x2="4286.8" y2="1246.8" stroke="#777" stroke-width="1.1"/>
<text transform="translate(222.6,586.3) rotate(-90)" font-size="22.6" textLength="58.8" lengthAdjust="spacingAndGlyphs" fill="#000" xml:space="preserve">WK0+614</text>
<text transform="translate(248.6,593.6) rotate(-90)" font-size="23.5" textLength="77.1" lengthAdjust="spacingAndGlyphs" fill="#000" xml:space="preserve">下层接地点</text>
<line x1="197.5" y1="496.7" x2="197.5" y2="642.7" stroke="#777" stroke-width="1.1"/>
<text transform="translate(356.3,592.3) rotate(-90)" font-size="22.9" textLength="57.6" lengthAdjust="spacingAndGlyphs" fill="#000" xml:space="preserve">WK0+799</text>
<text transform="translate(380.7,594.6) rotate(-90)" font-size="22.6" textLength="62.5" lengthAdjust="spacingAndGlyphs" fill="#000" xml:space="preserve">下层洞口</text>
<text transform="translate(402.2,614) rotate(-90)" font-size="25.3" textLength="82" lengthAdjust="spacingAndGlyphs" fill="#000" xml:space="preserve">WK0+849.51</text>
<text transform="translate(425.3,604.3) rotate(-90)" font-size="23.5" textLength="67.4" lengthAdjust="spacingAndGlyphs" fill="#000" xml:space="preserve">二环北路</text>
<line x1="358.4" y1="523.3" x2="358.4" y2="642.7" stroke="#777" stroke-width="1.1"/>
<line x1="403.2" y1="533" x2="403.2" y2="613" stroke="#777" stroke-width="1.1"/>
<text transform="translate(450.7,511.4) rotate(-90)" font-size="22.4" textLength="73.5" lengthAdjust="spacingAndGlyphs" fill="#000" xml:space="preserve">EK0+936.5</text>
<text transform="translate(473.2,518.4) rotate(-90)" font-size="24.5" textLength="81.5" lengthAdjust="spacingAndGlyphs" fill="#000" xml:space="preserve">上层接地点</text>
<line x1="478.1" y1="438.8" x2="478.1" y2="557.3" stroke="#777" stroke-width="1.1"/>
<text transform="translate(613.2,515.7) rotate(-90)" font-size="22.2" textLength="63.8" lengthAdjust="spacingAndGlyphs" fill="#000" xml:space="preserve">上层洞口</text>
<text transform="translate(638.6,511.4) rotate(-90)" font-size="23.7" textLength="57.9" lengthAdjust="spacingAndGlyphs" fill="#000" xml:space="preserve">EK1+099</text>
<line x1="619.4" y1="433.5" x2="619.4" y2="557.3" stroke="#777" stroke-width="1.1"/>
<text transform="translate(826.2,478.1) rotate(-90)" font-size="23.6" textLength="69.9" lengthAdjust="spacingAndGlyphs" fill="#000" xml:space="preserve">WK1+342.1</text>
<text transform="translate(850.2,468.4) rotate(-90)" font-size="22.6" textLength="48.9" lengthAdjust="spacingAndGlyphs" fill="#000" xml:space="preserve">工作井</text>
<text transform="translate(873.8,478.3) rotate(-90)" font-size="27.7" textLength="58" lengthAdjust="spacingAndGlyphs" fill="#000" xml:space="preserve">WK1+365</text>
<line x1="829.1" y1="404.4" x2="829.1" y2="482" stroke="#777" stroke-width="1.1"/>
<line x1="850.8" y1="404.4" x2="850.8" y2="642.7" stroke="#777" stroke-width="1.1"/>
<text transform="translate(1317.5,540) rotate(-90)" font-size="24.3" textLength="62.6" lengthAdjust="spacingAndGlyphs" fill="#000" xml:space="preserve">WK1+908</text>
<text transform="translate(1347.1,532.6) rotate(-90)" font-size="23.4" textLength="50.4" lengthAdjust="spacingAndGlyphs" fill="#000" xml:space="preserve">南大堤</text>
<line x1="1323.3" y1="475.9" x2="1323.3" y2="539" stroke="#777" stroke-width="1.1"/>
<text transform="translate(2319.9,518.1) rotate(-90)" font-size="23.4" textLength="51.9" lengthAdjust="spacingAndGlyphs" fill="#000" xml:space="preserve">北大堤</text>
<text transform="translate(2348.5,521.7) rotate(-90)" font-size="27.7" textLength="59" lengthAdjust="spacingAndGlyphs" fill="#000" xml:space="preserve">WK3+061</text>
<line x1="2325.2" y1="463.8" x2="2325.2" y2="523.5" stroke="#777" stroke-width="1.1"/>
<text transform="translate(2647,651.8) rotate(-90)" font-size="27.6" textLength="62.9" lengthAdjust="spacingAndGlyphs" fill="#000" xml:space="preserve">WK3+432</text>
<text transform="translate(2669.5,663.7) rotate(-90)" font-size="23.5" textLength="86.8" lengthAdjust="spacingAndGlyphs" fill="#000" xml:space="preserve">沉砂池南岸</text>
<line x1="2647.5" y1="563.3" x2="2647.5" y2="672.5" stroke="#777" stroke-width="1.1"/>
<text transform="translate(3352.9,651.7) rotate(-90)" font-size="24.3" textLength="64.1" lengthAdjust="spacingAndGlyphs" fill="#000" xml:space="preserve">WK4+246</text>
<text transform="translate(3377.7,658.9) rotate(-90)" font-size="23.4" textLength="85.9" lengthAdjust="spacingAndGlyphs" fill="#000" xml:space="preserve">沉砂池北岸</text>
<line x1="3355.3" y1="563.3" x2="3355.3" y2="675" stroke="#777" stroke-width="1.1"/>
<text transform="translate(3706.8,496.3) rotate(-90)" font-size="24.3" textLength="89.2" lengthAdjust="spacingAndGlyphs" fill="#000" xml:space="preserve">WK4+654.749</text>
<text transform="translate(3731.8,471.8) rotate(-90)" font-size="21" textLength="50.2" lengthAdjust="spacingAndGlyphs" fill="#000" xml:space="preserve">工作井</text>
<text transform="translate(3756.3,499) rotate(-90)" font-size="30.4" textLength="88.4" lengthAdjust="spacingAndGlyphs" fill="#000" xml:space="preserve">WK4+677.649</text>
<line x1="3712.6" y1="400.7" x2="3712.6" y2="665" stroke="#777" stroke-width="1.1"/>
<line x1="3732.3" y1="400.7" x2="3732.3" y2="507.5" stroke="#777" stroke-width="1.1"/>
<text transform="translate(4013.6,510.8) rotate(-90)" font-size="23.7" textLength="57.8" lengthAdjust="spacingAndGlyphs" fill="#000" xml:space="preserve">EK5+003</text>
<text transform="translate(4037.4,518.1) rotate(-90)" font-size="23.4" textLength="63.6" lengthAdjust="spacingAndGlyphs" fill="#000" xml:space="preserve">上层洞口</text>
<line x1="4016.5" y1="451.6" x2="4016.5" y2="551" stroke="#777" stroke-width="1.1"/>
<text transform="translate(4205.8,513.3) rotate(-90)" font-size="25" textLength="58.8" lengthAdjust="spacingAndGlyphs" fill="#000" xml:space="preserve">EK5+223</text>
<text transform="translate(4231.6,519.5) rotate(-90)" font-size="23.4" textLength="81" lengthAdjust="spacingAndGlyphs" fill="#000" xml:space="preserve">上层接地点</text>
<line x1="4208.3" y1="437" x2="4208.3" y2="551" stroke="#777" stroke-width="1.1"/>
<text transform="translate(4171.8,627.4) rotate(-90)" font-size="24.1" textLength="61.1" lengthAdjust="spacingAndGlyphs" fill="#000" xml:space="preserve">WK5+185</text>
<text transform="translate(4197.6,627.3) rotate(-90)" font-size="23.4" textLength="61.1" lengthAdjust="spacingAndGlyphs" fill="#000" xml:space="preserve">下层洞口</text>
<line x1="4175.2" y1="553.6" x2="4175.2" y2="665.2" stroke="#777" stroke-width="1.1"/>
<text transform="translate(4338.8,618.6) rotate(-90)" font-size="23.6" textLength="58.7" lengthAdjust="spacingAndGlyphs" fill="#000" xml:space="preserve">WK5+376</text>
<text transform="translate(4365.1,627.3) rotate(-90)" font-size="23.5" textLength="78.6" lengthAdjust="spacingAndGlyphs" fill="#000" xml:space="preserve">下层接地点</text>
<line x1="4341.3" y1="553.6" x2="4341.3" y2="665.2" stroke="#777" stroke-width="1.1"/>
<text transform="translate(4469,634.7) rotate(-90)" font-size="24.3" textLength="74.7" lengthAdjust="spacingAndGlyphs" fill="#000" xml:space="preserve">BK5+526.5</text>
<text transform="translate(4496.1,621.5) rotate(-90)" font-size="23.4" textLength="47.1" lengthAdjust="spacingAndGlyphs" fill="#000" xml:space="preserve">收费站</text>
<line x1="4472.3" y1="553.6" x2="4472.3" y2="633.7" stroke="#777" stroke-width="1.1"/>
<line x1="478.1" y1="540.3" x2="1213.1" y2="540.3" stroke="#777" stroke-width="1.1"/>
<line x1="472.6" y1="545.8" x2="483.6" y2="534.8" stroke="#000" stroke-width="1.6"/>
<line x1="613.9" y1="545.8" x2="624.9" y2="534.8" stroke="#000" stroke-width="1.6"/>
<line x1="845.3" y1="545.8" x2="856.3" y2="534.8" stroke="#000" stroke-width="1.6"/>
<line x1="1207.6" y1="545.8" x2="1218.6" y2="534.8" stroke="#000" stroke-width="1.6"/>
<line x1="1213.1" y1="531.7" x2="1213.1" y2="548.7" stroke="#777" stroke-width="1.1"/>
<text x="525.7" y="533" font-size="24.3" textLength="45.6" lengthAdjust="spacingAndGlyphs" fill="#000" xml:space="preserve">162.5</text>
<text x="720.8" y="533" font-size="24.3" textLength="27.7" lengthAdjust="spacingAndGlyphs" fill="#000" xml:space="preserve">266</text>
<text x="1018" y="533.2" font-size="22.9" textLength="27.6" lengthAdjust="spacingAndGlyphs" fill="#000" xml:space="preserve">415</text>
<text x="499.1" y="575.8" font-size="23.5" textLength="90.2" lengthAdjust="spacingAndGlyphs" fill="#000" xml:space="preserve">上层敞开段</text>
<text x="664.1" y="575.8" font-size="23.5" textLength="123.3" lengthAdjust="spacingAndGlyphs" fill="#000" xml:space="preserve">上层明挖暗埋段</text>
<text x="976.8" y="574.6" font-size="21.9" textLength="130.4" lengthAdjust="spacingAndGlyphs" fill="#000" xml:space="preserve">工作井一堤脚距离</text>
<line x1="197.5" y1="625.3" x2="850.8" y2="625.3" stroke="#777" stroke-width="1.1"/>
<line x1="192" y1="630.8" x2="203" y2="619.8" stroke="#000" stroke-width="1.6"/>
<line x1="352.9" y1="630.8" x2="363.9" y2="619.8" stroke="#000" stroke-width="1.6"/>
<line x1="845.3" y1="630.8" x2="856.3" y2="619.8" stroke="#000" stroke-width="1.6"/>
<text x="263.6" y="618" font-size="24.3" textLength="28.6" lengthAdjust="spacingAndGlyphs" fill="#000" xml:space="preserve">185</text>
<text x="590.3" y="618" font-size="24.3" textLength="28.6" lengthAdjust="spacingAndGlyphs" fill="#000" xml:space="preserve">566</text>
<text x="237.9" y="654.9" font-size="23.4" textLength="82.5" lengthAdjust="spacingAndGlyphs" fill="#000" xml:space="preserve">下层敞开段</text>
<text x="547.6" y="654.9" font-size="23.4" textLength="114.6" lengthAdjust="spacingAndGlyphs" fill="#000" xml:space="preserve">下层明挖暗埋段</text>
<line x1="2698" y1="534.2" x2="4208.3" y2="534.2" stroke="#777" stroke-width="1.1"/>
<line x1="2692.5" y1="539.7" x2="2703.5" y2="528.7" stroke="#000" stroke-width="1.6"/>
<line x1="3707.1" y1="539.7" x2="3718.1" y2="528.7" stroke="#000" stroke-width="1.6"/>
<line x1="4011" y1="539.7" x2="4022" y2="528.7" stroke="#000" stroke-width="1.6"/>
<line x1="4202.8" y1="539.7" x2="4213.8" y2="528.7" stroke="#000" stroke-width="1.6"/>
<line x1="2698" y1="527" x2="2698" y2="551" stroke="#777" stroke-width="1.1"/>
<text x="3187.8" y="526.9" font-size="24.3" textLength="36.4" lengthAdjust="spacingAndGlyphs" fill="#000" xml:space="preserve">1167</text>
<text x="3161.8" y="566.5" font-size="21" textLength="131.3" lengthAdjust="spacingAndGlyphs" fill="#000" xml:space="preserve">堤脚一工作井距离</text>
<text x="3838.3" y="526.9" font-size="24.3" textLength="53.9" lengthAdjust="spacingAndGlyphs" fill="#000" xml:space="preserve">348.25</text>
<text x="4099" y="526.9" font-size="24.3" textLength="27.1" lengthAdjust="spacingAndGlyphs" fill="#000" xml:space="preserve">220</text>
<text x="3802" y="565.4" font-size="22.5" textLength="114.4" lengthAdjust="spacingAndGlyphs" fill="#000" xml:space="preserve">上层明挖暗埋段</text>
<text x="4077.3" y="565.4" font-size="22.5" textLength="81.9" lengthAdjust="spacingAndGlyphs" fill="#000" xml:space="preserve">上层敞开段</text>
<line x1="3712.6" y1="648.3" x2="4341.3" y2="648.3" stroke="#777" stroke-width="1.1"/>
<line x1="3707.1" y1="653.8" x2="3718.1" y2="642.8" stroke="#000" stroke-width="1.6"/>
<line x1="4169.7" y1="653.8" x2="4180.7" y2="642.8" stroke="#000" stroke-width="1.6"/>
<line x1="4335.8" y1="653.8" x2="4346.8" y2="642.8" stroke="#000" stroke-width="1.6"/>
<text x="3917" y="641" font-size="24.3" textLength="53.8" lengthAdjust="spacingAndGlyphs" fill="#000" xml:space="preserve">530.24</text>
<text x="4247" y="641" font-size="24.3" textLength="23.8" lengthAdjust="spacingAndGlyphs" fill="#000" xml:space="preserve">191</text>
<text x="3881.6" y="680.4" font-size="22.4" textLength="113.5" lengthAdjust="spacingAndGlyphs" fill="#000" xml:space="preserve">下层明挖暗埋段</text>
<text x="4230.1" y="680.4" font-size="22.4" textLength="80.5" lengthAdjust="spacingAndGlyphs" fill="#000" xml:space="preserve">下层敞开段</text>
<polyline points="1145.1,704 1181.6,582.5 1288.3,582.5 1294.2,564.3 1305.3,564.3 1351.5,699.2" fill="none" stroke="#111" stroke-width="1.6" stroke-linejoin="round" stroke-dasharray="10,6"/>
<polyline points="1171.8,707.5 1196.1,624 1307.8,624 1312.6,606 1321.4,606 1339.3,655.5" fill="none" stroke="#111" stroke-width="1.6" stroke-linejoin="round" stroke-dasharray="10,6"/>
<polyline points="1307.8,624 1281.6,707.2" fill="none" stroke="#111" stroke-width="1.6" stroke-linejoin="round" stroke-dasharray="10,6"/>
<polyline points="1212,707.2 1291.3,707.2" fill="none" stroke="#111" stroke-width="1.6" stroke-linejoin="round" stroke-dasharray="10,6"/>
<polyline points="1330.1,637.5 1330.1,889.7" fill="none" stroke="#111" stroke-width="1.6" stroke-linejoin="round" stroke-dasharray="10,6"/>
<polyline points="1330.1,890.9 2326.7,890.9" fill="none" stroke="#111" stroke-width="1.6" stroke-linejoin="round" stroke-dasharray="10,6"/>
<text x="1155.1" y="576.4" font-size="18.3" textLength="130.7" lengthAdjust="spacingAndGlyphs" fill="#000" xml:space="preserve">考虑100年淤积后规划堤身</text>
<text x="1184.7" y="617.6" font-size="17.1" textLength="125.2" lengthAdjust="spacingAndGlyphs" fill="#000" xml:space="preserve">考虑50年淤积后规划堤身</text>
<text class="b" x="1219.5" y="679.8" font-size="22.1" textLength="43.1" lengthAdjust="spacingAndGlyphs" fill="#000" xml:space="preserve">28.57</text>
<polygon points="1206.8,687.3 1224.2,687.3 1215.5,701.3" fill="none" stroke="#333" stroke-width="1"/>
<line x1="1224.3" y1="686.3" x2="1248.5" y2="686.3" stroke="#666" stroke-width="1.1"/>
<text x="1362.7" y="559.4" font-size="23.4" textLength="50.4" lengthAdjust="spacingAndGlyphs" fill="#000" xml:space="preserve">45.10m</text>
<polygon points="1339.2,549.5 1356.8,549.5 1348,563.5" fill="none" stroke="#333" stroke-width="1"/>
<line x1="1332" y1="563.5" x2="1418.4" y2="563.5" stroke="#666" stroke-width="1.1"/>
<text x="1362.7" y="600.7" font-size="23.6" textLength="50.4" lengthAdjust="spacingAndGlyphs" fill="#000" xml:space="preserve">40.30m</text>
<polygon points="1339.2,590.5 1356.8,590.5 1348,604.5" fill="none" stroke="#333" stroke-width="1"/>
<line x1="1332" y1="605" x2="1418.4" y2="605" stroke="#666" stroke-width="1.1"/>
<text x="1474.4" y="656.3" font-size="21" textLength="229.9" lengthAdjust="spacingAndGlyphs" fill="#000" xml:space="preserve">33.70m(2021年设防流量下水位)</text>
<polygon points="1450.2,647 1467.8,647 1459,661" fill="none" stroke="#333" stroke-width="1"/>
<line x1="1446.1" y1="661.8" x2="1720.4" y2="661.8" stroke="#666" stroke-width="1.1"/>
<text x="1803.1" y="576.4" font-size="19.4" textLength="148.1" lengthAdjust="spacingAndGlyphs" fill="#000" xml:space="preserve">43.00m(2121年水位)</text>
<polygon points="1780.8,567.2 1798.2,567.2 1789.5,581.2" fill="none" stroke="#333" stroke-width="1"/>
<line x1="1765.5" y1="581.3" x2="1955" y2="581.3" stroke="#666" stroke-width="1.1"/>
<text x="1803.2" y="617.5" font-size="18.3" textLength="148.1" lengthAdjust="spacingAndGlyphs" fill="#000" xml:space="preserve">38.20m(2071年水位)</text>
<polygon points="1780.8,608.6 1798.2,608.6 1789.5,622.6" fill="none" stroke="#333" stroke-width="1"/>
<line x1="1765.5" y1="623" x2="1955" y2="623" stroke="#666" stroke-width="1.1"/>
<text x="1885.6" y="656.3" font-size="21" textLength="309.5" lengthAdjust="spacingAndGlyphs" fill="#000" xml:space="preserve">33.70m(2021年百年一遇、三百年一遇水位)</text>
<polygon points="1860.8,647.5 1878.3,647.5 1869.6,661.5" fill="none" stroke="#333" stroke-width="1"/>
<line x1="1855.8" y1="662.8" x2="2130" y2="662.8" stroke="#666" stroke-width="1.1"/>
<text x="1976.5" y="684.7" font-size="22.9" textLength="41.7" lengthAdjust="spacingAndGlyphs" fill="#000" xml:space="preserve">27.95</text>
<polygon points="1963.3,692.6 1980.8,692.6 1972.1,706.6" fill="none" stroke="#333" stroke-width="1"/>
<line x1="1981" y1="692.3" x2="2020" y2="692.3" stroke="#666" stroke-width="1.1"/>
<text x="1860.6" y="736.8" font-size="21.9" textLength="33.3" lengthAdjust="spacingAndGlyphs" fill="#000" xml:space="preserve">黄河</text>
<line x1="1281.6" y1="707.2" x2="1281.6" y2="1012" stroke="#555" stroke-width="1.1"/>
<line x1="1277.1" y1="711.7" x2="1286.1" y2="702.7" stroke="#000" stroke-width="1.3"/>
<line x1="1277.1" y1="1016.5" x2="1286.1" y2="1007.5" stroke="#000" stroke-width="1.3"/>
<line x1="1330.1" y1="890.9" x2="1330.1" y2="1017.9" stroke="#555" stroke-width="1.1"/>
<line x1="1325.6" y1="895.4" x2="1334.6" y2="886.4" stroke="#000" stroke-width="1.3"/>
<line x1="1325.6" y1="1022.4" x2="1334.6" y2="1013.4" stroke="#000" stroke-width="1.3"/>
<text transform="translate(1273.8,884.9) rotate(-90)" font-size="25" textLength="52.5" lengthAdjust="spacingAndGlyphs" fill="#000" xml:space="preserve">34.84m</text>
<text transform="translate(1306.8,873.2) rotate(-90)" font-size="24" textLength="34.9" lengthAdjust="spacingAndGlyphs" fill="#000" xml:space="preserve">≥2D</text>
<text transform="translate(1321.2,984) rotate(-90)" font-size="24.6" textLength="61.1" lengthAdjust="spacingAndGlyphs" fill="#000" xml:space="preserve">≥14.3m</text>
<text x="1585.6" y="868.6" font-size="20.9" textLength="114.3" lengthAdjust="spacingAndGlyphs" fill="#000" xml:space="preserve">最大冲刷线7.47</text>
<polygon points="1586.5,876 1604,876 1595.3,890" fill="none" stroke="#333" stroke-width="1"/>
<line x1="1603.9" y1="875.5" x2="1697" y2="875.5" stroke="#666" stroke-width="1.1"/>
<polyline points="2325.2,630.3 2354.9,563.3 2365.5,563.3 2370.4,581.3 2477.2,581.3 2698,750.2" fill="none" stroke="#111" stroke-width="1.6" stroke-linejoin="round" stroke-dasharray="10,6"/>
<polyline points="2331.6,631.3 2336.4,606 2346.1,606 2351,624 2530.6,624 2601,679.8" fill="none" stroke="#111" stroke-width="1.6" stroke-linejoin="round" stroke-dasharray="10,6"/>
<polyline points="2351,624 2389.6,749.9" fill="none" stroke="#111" stroke-width="1.6" stroke-linejoin="round" stroke-dasharray="10,6"/>
<polyline points="2326.7,631 2326.7,890.9" fill="none" stroke="#111" stroke-width="1.6" stroke-linejoin="round" stroke-dasharray="10,6"/>
<polyline points="2389.6,750.5 2698,750.5" fill="none" stroke="#111" stroke-width="1.6" stroke-linejoin="round" stroke-dasharray="10,6"/>
<text x="2377" y="573.9" font-size="18.3" textLength="132.5" lengthAdjust="spacingAndGlyphs" fill="#000" xml:space="preserve">考虑100年淤积后规划堤身</text>
<text x="2367.3" y="615.3" font-size="17.2" textLength="125.1" lengthAdjust="spacingAndGlyphs" fill="#000" xml:space="preserve">考虑50年淤积后规划堤身</text>
<text x="2225.3" y="558.4" font-size="22" textLength="50.4" lengthAdjust="spacingAndGlyphs" fill="#000" xml:space="preserve">45.10m</text>
<polygon points="2202.7,549.7 2220.2,549.7 2211.4,563.7" fill="none" stroke="#333" stroke-width="1"/>
<line x1="2192.2" y1="563.3" x2="2278.2" y2="563.3" stroke="#666" stroke-width="1.1"/>
<text x="2225.3" y="600.7" font-size="23.6" textLength="50.5" lengthAdjust="spacingAndGlyphs" fill="#000" xml:space="preserve">40.30m</text>
<polygon points="2202.7,590.8 2220.2,590.8 2211.4,604.8" fill="none" stroke="#333" stroke-width="1"/>
<line x1="2192.2" y1="604.6" x2="2278.2" y2="604.6" stroke="#666" stroke-width="1.1"/>
<text x="2462.9" y="728.5" font-size="22.1" textLength="42.2" lengthAdjust="spacingAndGlyphs" fill="#000" xml:space="preserve">23.60</text>
<polygon points="2449.9,735.5 2467.4,735.5 2458.7,749.5" fill="none" stroke="#333" stroke-width="1"/>
<line x1="2467.7" y1="735.1" x2="2507.3" y2="735.1" stroke="#666" stroke-width="1.1"/>
<line x1="2326.7" y1="890.9" x2="2326.7" y2="1050.9" stroke="#555" stroke-width="1.1"/>
<line x1="2322.2" y1="895.4" x2="2331.2" y2="886.4" stroke="#000" stroke-width="1.3"/>
<line x1="2322.2" y1="1055.4" x2="2331.2" y2="1046.4" stroke="#000" stroke-width="1.3"/>
<line x1="2389.6" y1="749.9" x2="2389.6" y2="1054.8" stroke="#555" stroke-width="1.1"/>
<line x1="2385.1" y1="754.4" x2="2394.1" y2="745.4" stroke="#000" stroke-width="1.3"/>
<line x1="2385.1" y1="1059.3" x2="2394.1" y2="1050.3" stroke="#000" stroke-width="1.3"/>
<text transform="translate(2319,1001.4) rotate(-90)" font-size="25" textLength="61.4" lengthAdjust="spacingAndGlyphs" fill="#000" xml:space="preserve">≥14.3m</text>
<text transform="translate(2385,916) rotate(-90)" font-size="25" textLength="35.8" lengthAdjust="spacingAndGlyphs" fill="#000" xml:space="preserve">≥2D</text>
<text transform="translate(2414,924.9) rotate(-90)" font-size="24.9" textLength="54.4" lengthAdjust="spacingAndGlyphs" fill="#000" xml:space="preserve">35.02m</text>
<text x="2904.1" y="684.1" font-size="19.2" textLength="49" lengthAdjust="spacingAndGlyphs" fill="#000" xml:space="preserve">沉沙池</text>
<text x="3117.6" y="653.8" font-size="20.9" textLength="146.4" lengthAdjust="spacingAndGlyphs" fill="#000" xml:space="preserve">拟设计长期水位32.5</text>
<polygon points="3117.8,658.9 3135.2,658.9 3126.5,672.9" fill="none" stroke="#333" stroke-width="1"/>
<line x1="3115" y1="658" x2="3265.5" y2="658" stroke="#666" stroke-width="1.1"/>
<line x1="3120" y1="674.5" x2="3133" y2="674.5" stroke="#666" stroke-width="1"/>
<line x1="3123" y1="678.5" x2="3130" y2="678.5" stroke="#666" stroke-width="1"/>
<text x="3034.1" y="699.9" font-size="21.9" textLength="147.4" lengthAdjust="spacingAndGlyphs" fill="#000" xml:space="preserve">拟设计初期水位27.5</text>
<polygon points="3034.8,703.1 3052.2,703.1 3043.5,717.1" fill="none" stroke="#333" stroke-width="1"/>
<line x1="3033" y1="701.7" x2="3183" y2="701.7" stroke="#666" stroke-width="1.1"/>
<line x1="3037" y1="718.5" x2="3051" y2="718.5" stroke="#666" stroke-width="1"/>
<line x1="3040" y1="722.5" x2="3048" y2="722.5" stroke="#666" stroke-width="1"/>
<text x="2929.2" y="730.5" font-size="20.9" textLength="99.4" lengthAdjust="spacingAndGlyphs" fill="#000" xml:space="preserve">底标高约23.6</text>
<polygon points="2927.8,735.6 2945.3,735.6 2936.6,749.6" fill="none" stroke="#333" stroke-width="1"/>
<line x1="2928" y1="735.6" x2="3030" y2="735.6" stroke="#666" stroke-width="1.1"/>
<line x1="882.3" y1="722.3" x2="882.3" y2="810.7" stroke="#555" stroke-width="1.1"/>
<line x1="874.6" y1="722.5" x2="893" y2="722.5" stroke="#999" stroke-width="1.1"/>
<line x1="874.6" y1="810.5" x2="893" y2="810.5" stroke="#999" stroke-width="1.1"/>
<line x1="877.8" y1="727" x2="886.8" y2="718" stroke="#000" stroke-width="1.3"/>
<line x1="877.8" y1="815" x2="886.8" y2="806" stroke="#000" stroke-width="1.3"/>
<text transform="translate(873.6,788.3) rotate(-90)" font-size="23.6" textLength="43.7" lengthAdjust="spacingAndGlyphs" fill="#000" xml:space="preserve">10.1m</text>
<line x1="3707.3" y1="749.1" x2="3707.3" y2="839" stroke="#555" stroke-width="1.1"/>
<line x1="3700" y1="749.3" x2="3714" y2="749.3" stroke="#999" stroke-width="1.1"/>
<line x1="3700" y1="839" x2="3714" y2="839" stroke="#999" stroke-width="1.1"/>
<line x1="3702.8" y1="753.8" x2="3711.8" y2="744.8" stroke="#000" stroke-width="1.3"/>
<line x1="3702.8" y1="843.5" x2="3711.8" y2="834.5" stroke="#000" stroke-width="1.3"/>
<text transform="translate(3702,814.4) rotate(-90)" font-size="27.9" textLength="43.5" lengthAdjust="spacingAndGlyphs" fill="#000" xml:space="preserve">10.2m</text>
<text x="312.1" y="678" font-size="23" textLength="162" lengthAdjust="spacingAndGlyphs" fill="#000" xml:space="preserve">给水、燃气、热力管线</text>
<line x1="319.8" y1="687.6" x2="422.7" y2="687.6" stroke="#777" stroke-width="1.1"/>
<line x1="422.7" y1="687.6" x2="412" y2="738" stroke="#777" stroke-width="1.1"/>
<line x1="422.7" y1="687.6" x2="430.5" y2="744" stroke="#777" stroke-width="1.1"/>
<line x1="422.7" y1="687.6" x2="437.3" y2="741" stroke="#777" stroke-width="1.1"/>
<circle cx="411.6" cy="739.5" r="1.8" fill="#222"/>
<rect x="429" y="740" width="3" height="10" fill="#333"/>
<text x="211.2" y="704" font-size="20" textLength="33.6" lengthAdjust="spacingAndGlyphs" fill="#000" xml:space="preserve">SJD1</text>
<text x="188.5" y="726.4" font-size="20.9" textLength="44.8" lengthAdjust="spacingAndGlyphs" fill="#000" xml:space="preserve">0.68%</text>
<circle cx="228.5" cy="729.7" r="7.8" fill="none" stroke="#333" stroke-width="0.9"/>
<text x="199.6" y="754.6" font-size="19.4" textLength="25.9" lengthAdjust="spacingAndGlyphs" fill="#000" xml:space="preserve">170</text>
<text transform="translate(313.2,751.5) rotate(24)" x="0" y="6.6" text-anchor="middle" font-size="19" textLength="22" lengthAdjust="spacingAndGlyphs" fill="#000">-4%</text>
<text transform="translate(310.5,772.5) rotate(24)" x="0" y="6.6" text-anchor="middle" font-size="19" textLength="24" lengthAdjust="spacingAndGlyphs" fill="#000">208</text>
<text x="452" y="727.4" font-size="20.9" textLength="35.7" lengthAdjust="spacingAndGlyphs" fill="#000" xml:space="preserve">0.3%</text>
<text x="487.9" y="714.8" font-size="19.4" textLength="33.7" lengthAdjust="spacingAndGlyphs" fill="#000" xml:space="preserve">SJD1</text>
<circle cx="506.2" cy="730.3" r="7.8" fill="none" stroke="#333" stroke-width="0.9"/>
<text x="444.2" y="752.6" font-size="20.9" textLength="52.2" lengthAdjust="spacingAndGlyphs" fill="#000" xml:space="preserve">232.47</text>
<text x="420" y="832.2" font-size="19.4" textLength="35.6" lengthAdjust="spacingAndGlyphs" fill="#000" font-weight="bold" xml:space="preserve">SJD2</text>
<text x="523.9" y="798.3" font-size="19.4" textLength="35.5" lengthAdjust="spacingAndGlyphs" fill="#000" xml:space="preserve">SJD3</text>
<circle cx="410.1" cy="800.2" r="7.8" fill="none" stroke="#333" stroke-width="0.9"/>
<circle cx="541.5" cy="814.5" r="7.8" fill="none" stroke="#333" stroke-width="0.9"/>
<text x="328" y="838.3" font-size="25.6" textLength="66.2" lengthAdjust="spacingAndGlyphs" fill="#000" xml:space="preserve">5.5x3.05</text>
<text x="328.1" y="858.4" font-size="21.9" textLength="66" lengthAdjust="spacingAndGlyphs" fill="#000" xml:space="preserve">综合管廊</text>
<rect x="406.8" y="809" width="4.9" height="26" fill="#ddd" stroke="#777" stroke-width="0.8"/>
<text transform="translate(567.6,745.5) rotate(25)" x="0" y="6.6" text-anchor="middle" font-size="19" textLength="22" lengthAdjust="spacingAndGlyphs" fill="#000">-4%</text>
<text transform="translate(556.7,764.5) rotate(25)" x="0" y="6.6" text-anchor="middle" font-size="19" textLength="48" lengthAdjust="spacingAndGlyphs" fill="#000">157.08</text>
<text x="625.1" y="769.2" font-size="21.9" textLength="35.7" lengthAdjust="spacingAndGlyphs" fill="#000" xml:space="preserve">SJD2</text>
<circle cx="643.4" cy="785" r="7.5" fill="none" stroke="#333" stroke-width="0.9"/>
<text transform="translate(696.8,859.5) rotate(23)" x="0" y="6.6" text-anchor="middle" font-size="19" textLength="40" lengthAdjust="spacingAndGlyphs" fill="#000">-3.6%</text>
<text transform="translate(688.3,880.1) rotate(23)" x="0" y="6.6" text-anchor="middle" font-size="19" textLength="50" lengthAdjust="spacingAndGlyphs" fill="#000">323.22</text>
<text x="805.1" y="900.2" font-size="22.4" textLength="35.8" lengthAdjust="spacingAndGlyphs" fill="#000" xml:space="preserve">SJD4</text>
<circle cx="823" cy="916" r="7.5" fill="none" stroke="#333" stroke-width="0.9"/>
<text transform="translate(983.3,931.1) rotate(25)" x="0" y="6.6" text-anchor="middle" font-size="19" textLength="40" lengthAdjust="spacingAndGlyphs" fill="#000">-4.6%</text>
<text transform="translate(972.8,950.8) rotate(25)" x="0" y="6.6" text-anchor="middle" font-size="19" textLength="42" lengthAdjust="spacingAndGlyphs" fill="#000">790.5</text>
<text transform="translate(1064.2,1016.3) rotate(25)" x="0" y="6.6" text-anchor="middle" font-size="19" textLength="40" lengthAdjust="spacingAndGlyphs" fill="#000">-4.6%</text>
<text transform="translate(1053.2,1036) rotate(25)" x="0" y="6.6" text-anchor="middle" font-size="19" textLength="42" lengthAdjust="spacingAndGlyphs" fill="#000">583.5</text>
<text x="1312.4" y="1134.4" font-size="23.1" textLength="36.9" lengthAdjust="spacingAndGlyphs" fill="#000" xml:space="preserve">SJD3</text>
<circle cx="1330.8" cy="1101.6" r="7" fill="none" stroke="#333" stroke-width="0.9"/>
<text x="1312.4" y="1182.4" font-size="23" textLength="36.8" lengthAdjust="spacingAndGlyphs" fill="#000" xml:space="preserve">SJD5</text>
<circle cx="1330.8" cy="1149.7" r="7" fill="none" stroke="#333" stroke-width="0.9"/>
<text x="1710.2" y="1114.2" font-size="21.6" textLength="44.3" lengthAdjust="spacingAndGlyphs" fill="#000" xml:space="preserve">-0.4%</text>
<text x="1709.2" y="1137.6" font-size="21" textLength="44.7" lengthAdjust="spacingAndGlyphs" fill="#000" xml:space="preserve">923.5</text>
<text x="1710.3" y="1162" font-size="20.9" textLength="44.3" lengthAdjust="spacingAndGlyphs" fill="#000" xml:space="preserve">-0.4%</text>
<text x="1709.1" y="1186.5" font-size="22" textLength="44.8" lengthAdjust="spacingAndGlyphs" fill="#000" xml:space="preserve">923.5</text>
<text x="2116.8" y="1166.3" font-size="21.9" textLength="35.7" lengthAdjust="spacingAndGlyphs" fill="#000" xml:space="preserve">SJD4</text>
<circle cx="2134.7" cy="1133.5" r="7.8" fill="none" stroke="#333" stroke-width="0.9"/>
<text x="2116.8" y="1214" font-size="21.4" textLength="35.7" lengthAdjust="spacingAndGlyphs" fill="#000" xml:space="preserve">SJD6</text>
<circle cx="2134.7" cy="1182" r="7.8" fill="none" stroke="#333" stroke-width="0.9"/>
<text x="2409.8" y="1117.7" font-size="20" textLength="36.6" lengthAdjust="spacingAndGlyphs" fill="#000" xml:space="preserve">0.4%</text>
<text x="2406.9" y="1142.1" font-size="21.4" textLength="43.7" lengthAdjust="spacingAndGlyphs" fill="#000" xml:space="preserve">673.5</text>
<text x="2409.8" y="1165.5" font-size="20" textLength="36.6" lengthAdjust="spacingAndGlyphs" fill="#000" xml:space="preserve">0.4%</text>
<text x="2406.9" y="1191" font-size="22.4" textLength="43.8" lengthAdjust="spacingAndGlyphs" fill="#000" xml:space="preserve">673.5</text>
<text x="2702.5" y="1142.5" font-size="22.1" textLength="36" lengthAdjust="spacingAndGlyphs" fill="#000" xml:space="preserve">SJD5</text>
<circle cx="2720.5" cy="1110" r="7.5" fill="none" stroke="#333" stroke-width="0.9"/>
<text x="2702.5" y="1191.6" font-size="22.3" textLength="36" lengthAdjust="spacingAndGlyphs" fill="#000" xml:space="preserve">SJD7</text>
<circle cx="2720.5" cy="1158" r="7.5" fill="none" stroke="#333" stroke-width="0.9"/>
<text transform="translate(3134,1033) rotate(-8)" x="0" y="6.6" text-anchor="middle" font-size="19" textLength="35" lengthAdjust="spacingAndGlyphs" fill="#000">1.6%</text>
<text transform="translate(3138,1057) rotate(-8)" x="0" y="7" text-anchor="middle" font-size="20" textLength="52" lengthAdjust="spacingAndGlyphs" fill="#000">964.96</text>
<text transform="translate(3134,1081.3) rotate(-8)" x="0" y="6.6" text-anchor="middle" font-size="19" textLength="35" lengthAdjust="spacingAndGlyphs" fill="#000">1.6%</text>
<text transform="translate(3138,1104.2) rotate(-8)" x="0" y="7" text-anchor="middle" font-size="20" textLength="52" lengthAdjust="spacingAndGlyphs" fill="#000">964.96</text>
<text x="3542.8" y="1008.3" font-size="21.6" textLength="35.7" lengthAdjust="spacingAndGlyphs" fill="#000" xml:space="preserve">SJD6</text>
<circle cx="3560.2" cy="976.2" r="7.8" fill="none" stroke="#333" stroke-width="0.9"/>
<text x="3542.8" y="1056.8" font-size="21.6" textLength="35.7" lengthAdjust="spacingAndGlyphs" fill="#000" xml:space="preserve">SJD8</text>
<circle cx="3560.2" cy="1024.3" r="7.8" fill="none" stroke="#333" stroke-width="0.9"/>
<text transform="translate(3673,962.9) rotate(-25)" x="0" y="7" text-anchor="middle" font-size="20" textLength="36" lengthAdjust="spacingAndGlyphs" fill="#000">4.5%</text>
<text transform="translate(3683,983) rotate(-25)" x="0" y="7" text-anchor="middle" font-size="20" textLength="52" lengthAdjust="spacingAndGlyphs" fill="#000">209.84</text>
<text x="3834.5" y="750.7" font-size="23.4" textLength="65" lengthAdjust="spacingAndGlyphs" fill="#000" xml:space="preserve">湿地改移</text>
<polyline points="3928,751.6 3976.7,729.7 3979,722.4" fill="none" stroke="#333" stroke-width="1" stroke-linejoin="round"/>
<text x="4137.8" y="701.7" font-size="24.3" textLength="35.9" lengthAdjust="spacingAndGlyphs" fill="#000" xml:space="preserve">SJD8</text>
<circle cx="4155.8" cy="714.8" r="7" fill="none" stroke="#333" stroke-width="0.9"/>
<text x="4263" y="710" font-size="25.7" textLength="45.9" lengthAdjust="spacingAndGlyphs" fill="#000" xml:space="preserve">SJD12</text>
<circle cx="4285.4" cy="723.5" r="7" fill="none" stroke="#333" stroke-width="0.9"/>
<text x="3980" y="764.8" font-size="24.3" textLength="35.9" lengthAdjust="spacingAndGlyphs" fill="#000" xml:space="preserve">SJD7</text>
<circle cx="3997" cy="779.3" r="7" fill="none" stroke="#333" stroke-width="0.9"/>
<text transform="translate(4073.3,736.6) rotate(-22)" x="0" y="6.6" text-anchor="middle" font-size="19" textLength="18" lengthAdjust="spacingAndGlyphs" fill="#000">4%</text>
<text transform="translate(4081.6,758.4) rotate(-22)" x="0" y="7" text-anchor="middle" font-size="20" textLength="50" lengthAdjust="spacingAndGlyphs" fill="#000">181.59</text>
<text x="4130.5" y="762.3" font-size="26.3" textLength="43.3" lengthAdjust="spacingAndGlyphs" fill="#000" xml:space="preserve">SJD11</text>
<circle cx="4152.4" cy="776.9" r="7" fill="none" stroke="#333" stroke-width="0.9"/>
<text transform="translate(4215,740.5) rotate(-22)" x="0" y="6.6" text-anchor="middle" font-size="19" textLength="18" lengthAdjust="spacingAndGlyphs" fill="#000">4%</text>
<text transform="translate(4223.8,761.4) rotate(-22)" x="0" y="7" text-anchor="middle" font-size="20" textLength="50" lengthAdjust="spacingAndGlyphs" fill="#000">152.72</text>
<text transform="translate(4403.3,719.8) rotate(5)" x="0" y="7.3" text-anchor="middle" font-size="21" textLength="53" lengthAdjust="spacingAndGlyphs" fill="#000">-0.62%</text>
<text x="4374.6" y="752.6" font-size="26.3" textLength="52.6" lengthAdjust="spacingAndGlyphs" fill="#000" xml:space="preserve">302.31</text>
<text transform="translate(4510.7,717.5) rotate(3)" x="0" y="7.3" text-anchor="middle" font-size="21" textLength="35" lengthAdjust="spacingAndGlyphs" fill="#000">0.3%</text>
<text x="4489.8" y="750.2" font-size="25.7" textLength="44.3" lengthAdjust="spacingAndGlyphs" fill="#000" xml:space="preserve">212.6</text>
<text transform="translate(3787.4,860.8) rotate(-22)" x="0" y="7" text-anchor="middle" font-size="20" textLength="38" lengthAdjust="spacingAndGlyphs" fill="#000">4.5%</text>
<text transform="translate(3796.4,884.6) rotate(-22)" x="0" y="7" text-anchor="middle" font-size="20" textLength="52" lengthAdjust="spacingAndGlyphs" fill="#000">502.64</text>
<text x="3724.6" y="925.8" font-size="21.9" textLength="35.7" lengthAdjust="spacingAndGlyphs" fill="#000" xml:space="preserve">SJD9</text>
<circle cx="3743.2" cy="941.4" r="7" fill="none" stroke="#333" stroke-width="0.9"/>
<text transform="translate(3792.2,915.6) rotate(-15)" x="0" y="7" text-anchor="middle" font-size="20" textLength="20" lengthAdjust="spacingAndGlyphs" fill="#000">3%</text>
<text transform="translate(3798.8,937.7) rotate(-15)" x="0" y="7" text-anchor="middle" font-size="20" textLength="42" lengthAdjust="spacingAndGlyphs" fill="#000">150.7</text>
<text x="3852" y="934.8" font-size="21.9" textLength="44.2" lengthAdjust="spacingAndGlyphs" fill="#000" xml:space="preserve">SJD10</text>
<circle cx="3874.3" cy="902.5" r="7" fill="none" stroke="#333" stroke-width="0.9"/>
<text transform="translate(4010,828.5) rotate(-22)" x="0" y="7" text-anchor="middle" font-size="20" textLength="38" lengthAdjust="spacingAndGlyphs" fill="#000">4.5%</text>
<text transform="translate(4019.7,851.1) rotate(-22)" x="0" y="7" text-anchor="middle" font-size="20" textLength="44" lengthAdjust="spacingAndGlyphs" fill="#000">320.5</text>
<line x1="4873.7" y1="382.7" x2="4873.7" y2="632.3" stroke="#111" stroke-width="2.2"/>
<line x1="4873.7" y1="632.3" x2="4873.7" y2="745.5" stroke="#999" stroke-width="1.2"/>
<line x1="4873.7" y1="745.5" x2="4873.7" y2="1303.4" stroke="#333" stroke-width="1.8"/>
<polygon points="4849.7,412.4 4862.8,382.7 4862.8,401.5 4873.7,401.5 4873.7,425.6 4862.8,425.6 4862.8,445.2" fill="#fff" stroke="#111" stroke-width="1.6"/>
<text x="4691.1" y="423.1" font-size="30.8" textLength="153.2" lengthAdjust="spacingAndGlyphs" fill="#000" xml:space="preserve">本工程设计范围</text>
<text x="4881.2" y="423.1" font-size="30.8" textLength="87.8" lengthAdjust="spacingAndGlyphs" fill="#000" xml:space="preserve">在建S101</text>
<text x="4625.9" y="482.9" font-size="21.1" textLength="49" lengthAdjust="spacingAndGlyphs" fill="#000" xml:space="preserve">路基段</text>
<text x="4702.2" y="482.9" font-size="21.1" textLength="51.3" lengthAdjust="spacingAndGlyphs" fill="#000" xml:space="preserve">桥梁段</text>
<circle cx="4688.8" cy="465.8" r="12" fill="#fff" stroke="#111" stroke-width="1.2"/>
<path d="M4688.8,453.8 A12,12 0 0 1 4688.8,477.8 Z" fill="#111"/>
<line x1="4688.8" y1="477.8" x2="4688.8" y2="733.7" stroke="#999" stroke-width="1.1"/>
<text transform="translate(4683.6,585.9) rotate(-90)" font-size="22.3" textLength="41.1" lengthAdjust="spacingAndGlyphs" fill="#000" xml:space="preserve">30.36</text>
<text transform="translate(4712,606.5) rotate(-90)" font-size="21.9" textLength="82.3" lengthAdjust="spacingAndGlyphs" fill="#000" xml:space="preserve">BK5+775.15</text>
<text transform="translate(4698.9,674.7) rotate(-22)" x="0" y="6.6" text-anchor="middle" font-size="19" textLength="40" lengthAdjust="spacingAndGlyphs" fill="#000">3.98%</text>
<text transform="translate(4707.6,698.7) rotate(-22)" x="0" y="6.6" text-anchor="middle" font-size="19" textLength="40" lengthAdjust="spacingAndGlyphs" fill="#000">226.4</text>
<text transform="translate(4855,624.4) rotate(-8)" x="0" y="6.6" text-anchor="middle" font-size="19" textLength="18" lengthAdjust="spacingAndGlyphs" fill="#000">2%</text>
<text x="4850.7" y="655" font-size="20.7" textLength="18.2" lengthAdjust="spacingAndGlyphs" fill="#000" xml:space="preserve">96</text>
<text transform="translate(4895.5,618.9) rotate(-90)" font-size="22.1" textLength="95.8" lengthAdjust="spacingAndGlyphs" fill="#000" xml:space="preserve">BK5+987.549</text>
</svg>
</body></html>
